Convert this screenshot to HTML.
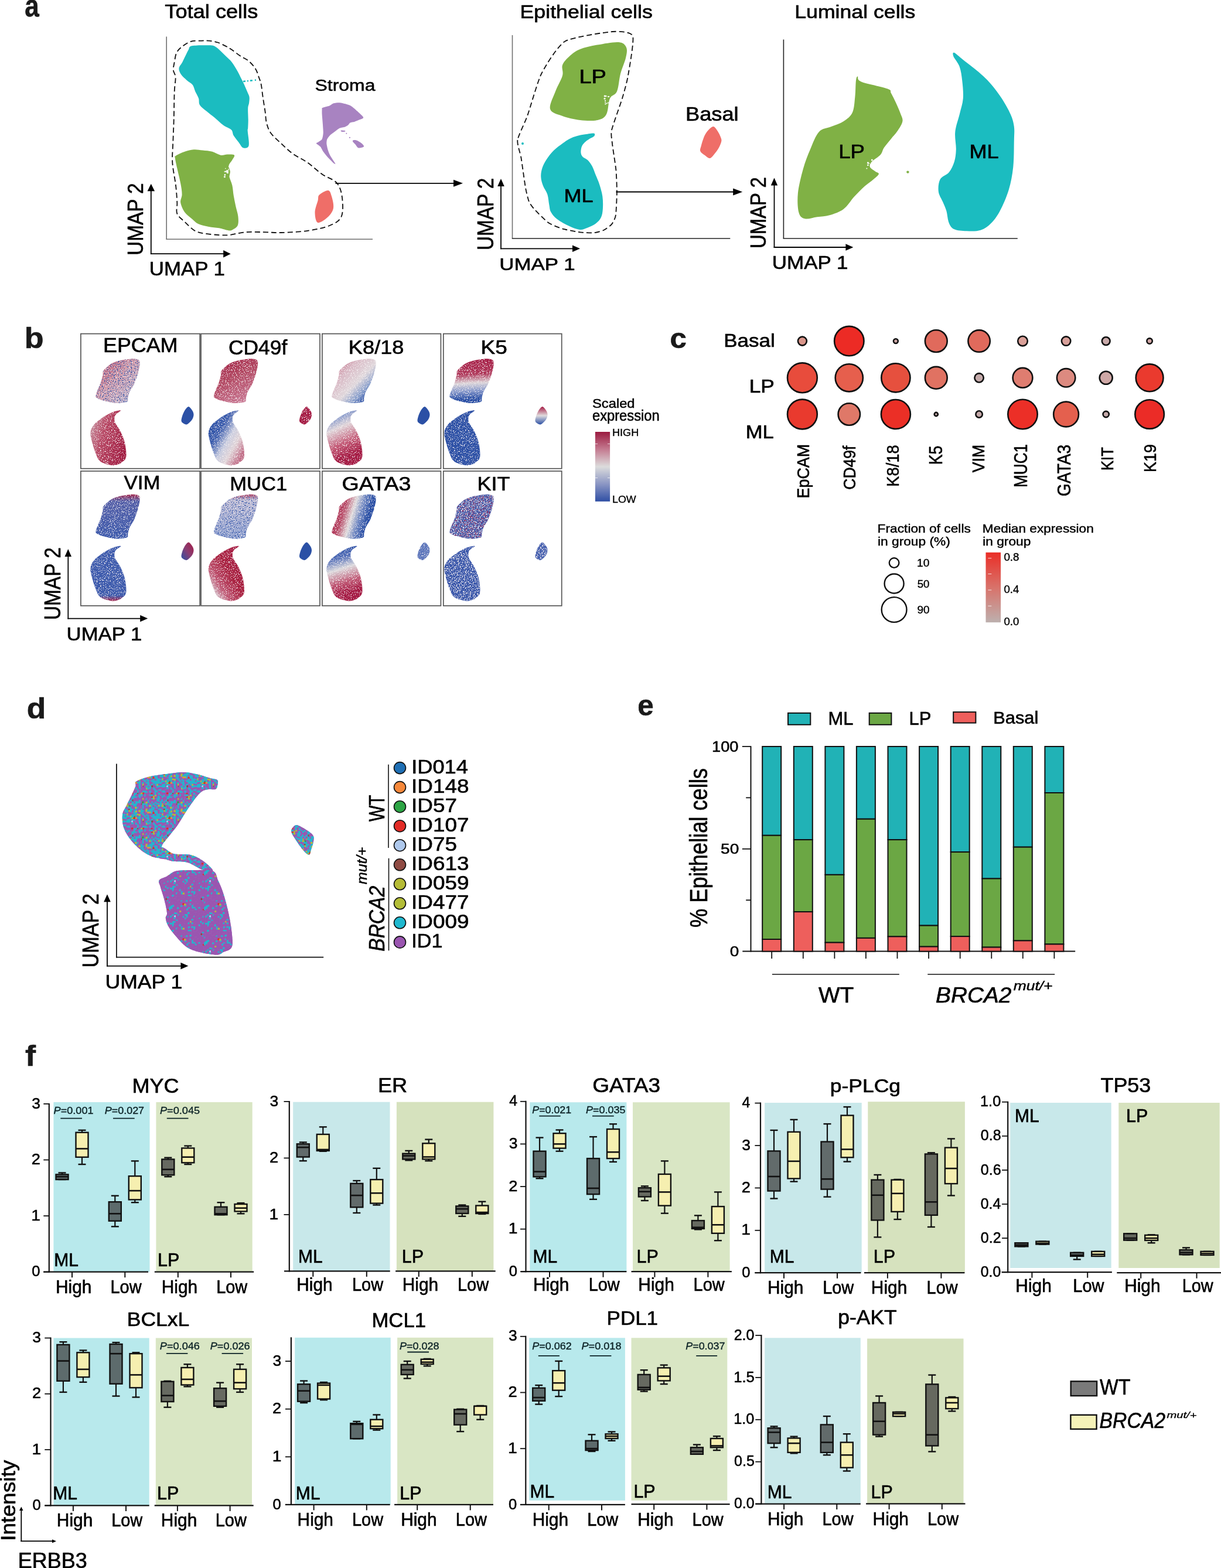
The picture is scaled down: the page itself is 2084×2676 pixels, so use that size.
<!DOCTYPE html>
<html><head><meta charset="utf-8"><title>Figure</title>
<style>
html,body{margin:0;padding:0;background:#fff;}
svg{display:block;}
text{font-family:"Liberation Sans",Arial,Helvetica,sans-serif;font-kerning:normal;}
</style></head>
<body>
<svg width="2084" height="2676" viewBox="0 0 2084 2676">
<defs>
<filter id="spw" x="0" y="0" width="1" height="1" color-interpolation-filters="sRGB"><feTurbulence type="fractalNoise" baseFrequency="0.6" numOctaves="2" seed="3" result="n"/><feColorMatrix in="n" type="matrix" values="0 0 0 0 0.965 0 0 0 0 0.941 0 0 0 0 0.949 9 0 0 0 -4.8" result="m"/><feComposite in="m" in2="SourceGraphic" operator="in"/></filter>
<filter id="spw2" x="0" y="0" width="1" height="1" color-interpolation-filters="sRGB"><feTurbulence type="fractalNoise" baseFrequency="0.6" numOctaves="2" seed="7" result="n"/><feColorMatrix in="n" type="matrix" values="0 0 0 0 0.965 0 0 0 0 0.941 0 0 0 0 0.949 9 0 0 0 -5.2" result="m"/><feComposite in="m" in2="SourceGraphic" operator="in"/></filter>
<filter id="spr" x="0" y="0" width="1" height="1" color-interpolation-filters="sRGB"><feTurbulence type="fractalNoise" baseFrequency="0.55" numOctaves="2" seed="11" result="n"/><feColorMatrix in="n" type="matrix" values="0 0 0 0 0.647 0 0 0 0 0.110 0 0 0 0 0.271 9 0 0 0 -5.0" result="m"/><feComposite in="m" in2="SourceGraphic" operator="in"/></filter>
<filter id="spr2" x="0" y="0" width="1" height="1" color-interpolation-filters="sRGB"><feTurbulence type="fractalNoise" baseFrequency="0.55" numOctaves="2" seed="13" result="n"/><feColorMatrix in="n" type="matrix" values="0 0 0 0 0.647 0 0 0 0 0.110 0 0 0 0 0.271 9 0 0 0 -5.35" result="m"/><feComposite in="m" in2="SourceGraphic" operator="in"/></filter>
<filter id="spb" x="0" y="0" width="1" height="1" color-interpolation-filters="sRGB"><feTurbulence type="fractalNoise" baseFrequency="0.55" numOctaves="2" seed="17" result="n"/><feColorMatrix in="n" type="matrix" values="0 0 0 0 0.169 0 0 0 0 0.314 0 0 0 0 0.647 9 0 0 0 -4.9" result="m"/><feComposite in="m" in2="SourceGraphic" operator="in"/></filter>
<filter id="spb2" x="0" y="0" width="1" height="1" color-interpolation-filters="sRGB"><feTurbulence type="fractalNoise" baseFrequency="0.55" numOctaves="2" seed="23" result="n"/><feColorMatrix in="n" type="matrix" values="0 0 0 0 0.169 0 0 0 0 0.314 0 0 0 0 0.647 9 0 0 0 -5.3" result="m"/><feComposite in="m" in2="SourceGraphic" operator="in"/></filter>
<linearGradient id="g1" x1="0" y1="0" x2="1" y2="1"><stop offset="0" stop-color="#a8284c"/><stop offset="0.15" stop-color="#bf5e78"/><stop offset="0.45" stop-color="#d09aaa"/><stop offset="0.75" stop-color="#c8b0c4"/><stop offset="1" stop-color="#8c9acb"/></linearGradient>
<linearGradient id="g2" x1="0" y1="0.3" x2="1" y2="0.7"><stop offset="0" stop-color="#c7909f"/><stop offset="0.35" stop-color="#b84a66"/><stop offset="1" stop-color="#a01a40"/></linearGradient>
<linearGradient id="g3" x1="0" y1="0" x2="0.5" y2="1"><stop offset="0" stop-color="#a01c42"/><stop offset="0.5" stop-color="#b24862"/><stop offset="1" stop-color="#c77590"/></linearGradient>
<linearGradient id="g4" x1="0.1" y1="0.15" x2="0.9" y2="0.85"><stop offset="0" stop-color="#2b50a5"/><stop offset="0.3" stop-color="#3f5fae"/><stop offset="0.55" stop-color="#c9cde0"/><stop offset="0.75" stop-color="#e0d4d8"/><stop offset="1" stop-color="#c27089"/></linearGradient>
<linearGradient id="g5" x1="0" y1="0" x2="1" y2="1"><stop offset="0" stop-color="#b24562"/><stop offset="0.3" stop-color="#d9b8c4"/><stop offset="0.55" stop-color="#e0d8dc"/><stop offset="0.72" stop-color="#8aa0cc"/><stop offset="0.85" stop-color="#2b50a5"/></linearGradient>
<linearGradient id="g6" x1="0.3" y1="0" x2="0.6" y2="1"><stop offset="0" stop-color="#2b50a5"/><stop offset="0.12" stop-color="#8a9ccc"/><stop offset="0.3" stop-color="#e0d6da"/><stop offset="0.6" stop-color="#c45c78"/><stop offset="0.85" stop-color="#a51c45"/></linearGradient>
<linearGradient id="g7" x1="0.45" y1="0" x2="0.5" y2="1"><stop offset="0" stop-color="#a51c45"/><stop offset="0.35" stop-color="#b03a5c"/><stop offset="0.55" stop-color="#ddd6da"/><stop offset="0.72" stop-color="#8a9bcc"/><stop offset="0.9" stop-color="#2b50a5"/></linearGradient>
<linearGradient id="g8" x1="0" y1="0" x2="0" y2="1"><stop offset="0" stop-color="#a51c45"/><stop offset="0.5" stop-color="#e0dcdd"/><stop offset="1" stop-color="#2b50a5"/></linearGradient>
<linearGradient id="g9" x1="0" y1="0" x2="0" y2="1"><stop offset="0" stop-color="#a52a50"/><stop offset="0.15" stop-color="#5560a8"/><stop offset="1" stop-color="#3f5cad"/></linearGradient>
<linearGradient id="g10" x1="0" y1="0" x2="0" y2="1"><stop offset="0" stop-color="#3f5cad"/><stop offset="0.9" stop-color="#3f5cad"/><stop offset="1" stop-color="#a52a50"/></linearGradient>
<linearGradient id="g11" x1="1" y1="0" x2="0" y2="1"><stop offset="0" stop-color="#a51c45"/><stop offset="0.5" stop-color="#8a3d72"/><stop offset="1" stop-color="#2b50a5"/></linearGradient>
<linearGradient id="g12" x1="0" y1="0" x2="0" y2="1"><stop offset="0" stop-color="#b03e60"/><stop offset="0.12" stop-color="#c3bfd6"/><stop offset="1" stop-color="#8ea0d0"/></linearGradient>
<linearGradient id="g13" x1="0" y1="1" x2="1" y2="0"><stop offset="0" stop-color="#3f5cad"/><stop offset="0.12" stop-color="#d8d2d8"/><stop offset="0.3" stop-color="#c05a76"/><stop offset="0.55" stop-color="#a8203f"/><stop offset="1" stop-color="#a51c45"/></linearGradient>
<linearGradient id="g14" x1="0" y1="0.35" x2="1" y2="0.65"><stop offset="0" stop-color="#a51c45"/><stop offset="0.25" stop-color="#b84c68"/><stop offset="0.45" stop-color="#e0dcdd"/><stop offset="0.62" stop-color="#7088c2"/><stop offset="0.8" stop-color="#2b50a5"/></linearGradient>
<linearGradient id="g15" x1="0.4" y1="0" x2="0.6" y2="1"><stop offset="0" stop-color="#2b50a5"/><stop offset="0.2" stop-color="#5570b8"/><stop offset="0.4" stop-color="#dcdadd"/><stop offset="0.65" stop-color="#c05a76"/><stop offset="0.85" stop-color="#a51c45"/></linearGradient>
<linearGradient id="g16" x1="0" y1="0" x2="0" y2="1"><stop offset="0" stop-color="#9b1b40"/><stop offset="0.25" stop-color="#c47a90"/><stop offset="0.5" stop-color="#dcdcdc"/><stop offset="0.75" stop-color="#8b96c4"/><stop offset="1" stop-color="#2f4fa4"/></linearGradient>
<linearGradient id="g17" x1="0" y1="0" x2="0" y2="1"><stop offset="0" stop-color="#ea2e27"/><stop offset="0.5" stop-color="#d8726a"/><stop offset="1" stop-color="#bdb0ae"/></linearGradient>
<pattern id="mixU" patternUnits="userSpaceOnUse" width="60" height="60"><circle cx="1.1" cy="1.6" r="1.9" fill="#1fb8cf"/><circle cx="1.7" cy="4.7" r="1.9" fill="#1fb8cf"/><circle cx="0.7" cy="8.0" r="1.9" fill="#1fb8cf"/><circle cx="1.1" cy="11.3" r="1.9" fill="#9a55b0"/><circle cx="2.0" cy="13.5" r="1.9" fill="#9a55b0"/><circle cx="0.9" cy="16.7" r="1.9" fill="#9a55b0"/><circle cx="1.5" cy="19.9" r="1.9" fill="#9a55b0"/><circle cx="0.8" cy="22.9" r="1.9" fill="#9a55b0"/><circle cx="1.2" cy="24.7" r="1.9" fill="#9a55b0"/><circle cx="1.5" cy="28.9" r="1.9" fill="#9a55b0"/><circle cx="1.8" cy="32.2" r="1.9" fill="#9a55b0"/><circle cx="2.0" cy="34.4" r="1.9" fill="#b5bb35"/><circle cx="2.1" cy="36.9" r="1.9" fill="#1fb8cf"/><circle cx="1.0" cy="41.2" r="1.9" fill="#9a55b0"/><circle cx="1.7" cy="43.2" r="1.9" fill="#9a55b0"/><circle cx="1.3" cy="46.3" r="1.9" fill="#9a55b0"/><circle cx="1.6" cy="50.1" r="1.9" fill="#9a55b0"/><circle cx="2.2" cy="53.1" r="1.9" fill="#8f4b43"/><circle cx="1.8" cy="55.0" r="1.9" fill="#9a55b0"/><circle cx="2.2" cy="59.1" r="1.9" fill="#9a55b0"/><circle cx="4.8" cy="1.0" r="1.9" fill="#9a55b0"/><circle cx="4.6" cy="4.2" r="1.9" fill="#1fb8cf"/><circle cx="5.1" cy="8.3" r="1.9" fill="#1fb8cf"/><circle cx="5.0" cy="10.4" r="1.9" fill="#1fb8cf"/><circle cx="4.2" cy="13.9" r="1.9" fill="#9a55b0"/><circle cx="3.8" cy="16.7" r="1.9" fill="#1fb8cf"/><circle cx="4.8" cy="19.2" r="1.9" fill="#b5bb35"/><circle cx="5.3" cy="22.5" r="1.9" fill="#8f4b43"/><circle cx="4.2" cy="24.8" r="1.9" fill="#9a55b0"/><circle cx="3.8" cy="28.0" r="1.9" fill="#9a55b0"/><circle cx="4.7" cy="30.9" r="1.9" fill="#1fb8cf"/><circle cx="5.1" cy="34.2" r="1.9" fill="#e22b26"/><circle cx="5.1" cy="37.3" r="1.9" fill="#9a55b0"/><circle cx="4.5" cy="40.7" r="1.9" fill="#9a55b0"/><circle cx="4.6" cy="43.7" r="1.9" fill="#b5bb35"/><circle cx="4.5" cy="46.4" r="1.9" fill="#9a55b0"/><circle cx="4.1" cy="49.2" r="1.9" fill="#2ca444"/><circle cx="4.5" cy="52.6" r="1.9" fill="#1fb8cf"/><circle cx="4.4" cy="55.6" r="1.9" fill="#1fb8cf"/><circle cx="4.7" cy="58.7" r="1.9" fill="#1fb8cf"/><circle cx="7.7" cy="1.4" r="1.9" fill="#9a55b0"/><circle cx="7.3" cy="4.8" r="1.9" fill="#9a55b0"/><circle cx="6.7" cy="6.8" r="1.9" fill="#9a55b0"/><circle cx="8.2" cy="10.1" r="1.9" fill="#9a55b0"/><circle cx="7.6" cy="13.2" r="1.9" fill="#1fb8cf"/><circle cx="7.2" cy="16.3" r="1.9" fill="#9a55b0"/><circle cx="7.2" cy="19.3" r="1.9" fill="#9a55b0"/><circle cx="6.7" cy="22.6" r="1.9" fill="#9a55b0"/><circle cx="7.2" cy="25.1" r="1.9" fill="#9a55b0"/><circle cx="7.1" cy="28.0" r="1.9" fill="#9a55b0"/><circle cx="7.8" cy="30.9" r="1.9" fill="#1fb8cf"/><circle cx="7.2" cy="35.0" r="1.9" fill="#9a55b0"/><circle cx="8.1" cy="37.0" r="1.9" fill="#1fb8cf"/><circle cx="7.7" cy="41.1" r="1.9" fill="#9a55b0"/><circle cx="7.1" cy="42.9" r="1.9" fill="#9a55b0"/><circle cx="7.0" cy="47.0" r="1.9" fill="#9a55b0"/><circle cx="7.0" cy="49.1" r="1.9" fill="#9a55b0"/><circle cx="7.7" cy="53.0" r="1.9" fill="#1fb8cf"/><circle cx="6.9" cy="55.2" r="1.9" fill="#9a55b0"/><circle cx="7.1" cy="58.3" r="1.9" fill="#9a55b0"/><circle cx="10.4" cy="1.4" r="1.9" fill="#b5bb35"/><circle cx="9.9" cy="3.7" r="1.9" fill="#b5bb35"/><circle cx="11.1" cy="8.3" r="1.9" fill="#9a55b0"/><circle cx="11.2" cy="11.2" r="1.9" fill="#1fb8cf"/><circle cx="10.9" cy="14.0" r="1.9" fill="#9a55b0"/><circle cx="10.5" cy="16.2" r="1.9" fill="#1fb8cf"/><circle cx="10.1" cy="18.8" r="1.9" fill="#9a55b0"/><circle cx="10.2" cy="23.0" r="1.9" fill="#1fb8cf"/><circle cx="11.1" cy="25.8" r="1.9" fill="#b5bb35"/><circle cx="11.1" cy="29.1" r="1.9" fill="#9a55b0"/><circle cx="9.7" cy="31.9" r="1.9" fill="#1fb8cf"/><circle cx="10.2" cy="34.8" r="1.9" fill="#9a55b0"/><circle cx="10.4" cy="38.2" r="1.9" fill="#9a55b0"/><circle cx="10.2" cy="40.1" r="1.9" fill="#9a55b0"/><circle cx="10.5" cy="44.0" r="1.9" fill="#1fb8cf"/><circle cx="10.0" cy="46.6" r="1.9" fill="#9a55b0"/><circle cx="10.0" cy="50.0" r="1.9" fill="#b5bb35"/><circle cx="11.0" cy="53.0" r="1.9" fill="#1fb8cf"/><circle cx="10.7" cy="56.1" r="1.9" fill="#1fb8cf"/><circle cx="10.1" cy="58.1" r="1.9" fill="#9a55b0"/><circle cx="13.4" cy="1.5" r="1.9" fill="#9a55b0"/><circle cx="12.7" cy="3.8" r="1.9" fill="#1fb8cf"/><circle cx="12.9" cy="6.8" r="1.9" fill="#f6883a"/><circle cx="14.1" cy="9.8" r="1.9" fill="#9a55b0"/><circle cx="13.2" cy="13.2" r="1.9" fill="#1fb8cf"/><circle cx="13.7" cy="16.6" r="1.9" fill="#1fb8cf"/><circle cx="13.0" cy="19.2" r="1.9" fill="#1fb8cf"/><circle cx="13.6" cy="22.8" r="1.9" fill="#9a55b0"/><circle cx="12.8" cy="25.0" r="1.9" fill="#1fb8cf"/><circle cx="13.7" cy="29.0" r="1.9" fill="#9a55b0"/><circle cx="14.0" cy="31.7" r="1.9" fill="#9a55b0"/><circle cx="13.3" cy="34.5" r="1.9" fill="#9a55b0"/><circle cx="13.4" cy="37.8" r="1.9" fill="#9a55b0"/><circle cx="13.1" cy="40.6" r="1.9" fill="#9a55b0"/><circle cx="12.8" cy="43.4" r="1.9" fill="#9a55b0"/><circle cx="14.1" cy="47.2" r="1.9" fill="#1fb8cf"/><circle cx="14.1" cy="50.0" r="1.9" fill="#1fb8cf"/><circle cx="13.4" cy="51.9" r="1.9" fill="#9a55b0"/><circle cx="13.8" cy="56.1" r="1.9" fill="#9a55b0"/><circle cx="13.8" cy="58.9" r="1.9" fill="#9a55b0"/><circle cx="15.9" cy="1.6" r="1.9" fill="#1fb8cf"/><circle cx="15.9" cy="4.9" r="1.9" fill="#1fb8cf"/><circle cx="15.8" cy="6.9" r="1.9" fill="#b5bb35"/><circle cx="16.0" cy="9.7" r="1.9" fill="#9a55b0"/><circle cx="15.9" cy="14.1" r="1.9" fill="#9a55b0"/><circle cx="17.0" cy="17.2" r="1.9" fill="#9a55b0"/><circle cx="17.0" cy="18.8" r="1.9" fill="#9a55b0"/><circle cx="16.5" cy="22.8" r="1.9" fill="#1fb8cf"/><circle cx="16.9" cy="26.2" r="1.9" fill="#1fb8cf"/><circle cx="16.2" cy="28.6" r="1.9" fill="#9a55b0"/><circle cx="16.1" cy="31.0" r="1.9" fill="#1fb8cf"/><circle cx="16.7" cy="34.9" r="1.9" fill="#9a55b0"/><circle cx="16.3" cy="37.3" r="1.9" fill="#1fb8cf"/><circle cx="16.4" cy="39.8" r="1.9" fill="#9a55b0"/><circle cx="17.3" cy="43.4" r="1.9" fill="#9a55b0"/><circle cx="16.0" cy="46.8" r="1.9" fill="#9a55b0"/><circle cx="16.8" cy="49.5" r="1.9" fill="#9a55b0"/><circle cx="16.7" cy="53.1" r="1.9" fill="#1fb8cf"/><circle cx="15.9" cy="55.9" r="1.9" fill="#b5bb35"/><circle cx="16.5" cy="58.4" r="1.9" fill="#9a55b0"/><circle cx="19.0" cy="1.1" r="1.9" fill="#1fb8cf"/><circle cx="19.6" cy="4.2" r="1.9" fill="#1fb8cf"/><circle cx="19.8" cy="8.2" r="1.9" fill="#1fb8cf"/><circle cx="19.8" cy="10.4" r="1.9" fill="#9a55b0"/><circle cx="19.6" cy="13.1" r="1.9" fill="#1fb8cf"/><circle cx="18.7" cy="16.5" r="1.9" fill="#9a55b0"/><circle cx="19.0" cy="19.3" r="1.9" fill="#1fb8cf"/><circle cx="19.9" cy="21.9" r="1.9" fill="#8f4b43"/><circle cx="19.5" cy="25.7" r="1.9" fill="#9a55b0"/><circle cx="20.0" cy="29.0" r="1.9" fill="#9a55b0"/><circle cx="19.5" cy="31.9" r="1.9" fill="#9a55b0"/><circle cx="19.3" cy="34.9" r="1.9" fill="#e22b26"/><circle cx="19.4" cy="37.1" r="1.9" fill="#1fb8cf"/><circle cx="19.8" cy="40.8" r="1.9" fill="#e22b26"/><circle cx="20.1" cy="43.1" r="1.9" fill="#1fb8cf"/><circle cx="19.1" cy="46.0" r="1.9" fill="#9a55b0"/><circle cx="20.1" cy="50.1" r="1.9" fill="#1fb8cf"/><circle cx="20.1" cy="52.2" r="1.9" fill="#9a55b0"/><circle cx="19.9" cy="54.8" r="1.9" fill="#1fb8cf"/><circle cx="20.0" cy="58.2" r="1.9" fill="#1fb8cf"/><circle cx="22.6" cy="1.8" r="1.9" fill="#1fb8cf"/><circle cx="22.2" cy="4.4" r="1.9" fill="#9a55b0"/><circle cx="22.0" cy="7.6" r="1.9" fill="#e22b26"/><circle cx="22.3" cy="10.6" r="1.9" fill="#1fb8cf"/><circle cx="22.1" cy="13.8" r="1.9" fill="#1fb8cf"/><circle cx="23.1" cy="17.2" r="1.9" fill="#1fb8cf"/><circle cx="23.2" cy="19.3" r="1.9" fill="#9a55b0"/><circle cx="22.9" cy="22.2" r="1.9" fill="#9a55b0"/><circle cx="22.7" cy="26.0" r="1.9" fill="#1fb8cf"/><circle cx="22.9" cy="29.2" r="1.9" fill="#9a55b0"/><circle cx="22.6" cy="30.9" r="1.9" fill="#9a55b0"/><circle cx="22.3" cy="34.8" r="1.9" fill="#9a55b0"/><circle cx="22.6" cy="37.0" r="1.9" fill="#9a55b0"/><circle cx="22.7" cy="40.0" r="1.9" fill="#b5bb35"/><circle cx="22.7" cy="42.9" r="1.9" fill="#b5bb35"/><circle cx="21.9" cy="46.2" r="1.9" fill="#9a55b0"/><circle cx="22.7" cy="49.6" r="1.9" fill="#9a55b0"/><circle cx="22.4" cy="52.2" r="1.9" fill="#1fb8cf"/><circle cx="21.8" cy="55.8" r="1.9" fill="#9a55b0"/><circle cx="22.6" cy="58.9" r="1.9" fill="#1fb8cf"/><circle cx="25.1" cy="1.3" r="1.9" fill="#9a55b0"/><circle cx="24.8" cy="4.5" r="1.9" fill="#1fb8cf"/><circle cx="25.9" cy="7.3" r="1.9" fill="#1fb8cf"/><circle cx="25.3" cy="10.6" r="1.9" fill="#9a55b0"/><circle cx="25.3" cy="14.1" r="1.9" fill="#1fb8cf"/><circle cx="25.1" cy="15.9" r="1.9" fill="#1fb8cf"/><circle cx="25.9" cy="19.9" r="1.9" fill="#1fb8cf"/><circle cx="25.0" cy="22.4" r="1.9" fill="#9a55b0"/><circle cx="26.0" cy="25.9" r="1.9" fill="#9a55b0"/><circle cx="24.9" cy="28.3" r="1.9" fill="#1fb8cf"/><circle cx="25.5" cy="31.6" r="1.9" fill="#1fb8cf"/><circle cx="25.1" cy="35.0" r="1.9" fill="#1fb8cf"/><circle cx="26.0" cy="38.1" r="1.9" fill="#b5bb35"/><circle cx="25.3" cy="40.6" r="1.9" fill="#9a55b0"/><circle cx="25.7" cy="44.3" r="1.9" fill="#9a55b0"/><circle cx="25.2" cy="47.1" r="1.9" fill="#9a55b0"/><circle cx="25.7" cy="49.9" r="1.9" fill="#1fb8cf"/><circle cx="25.9" cy="52.8" r="1.9" fill="#9a55b0"/><circle cx="25.5" cy="55.4" r="1.9" fill="#1fb8cf"/><circle cx="25.5" cy="57.8" r="1.9" fill="#9a55b0"/><circle cx="28.7" cy="1.4" r="1.9" fill="#9a55b0"/><circle cx="29.2" cy="5.1" r="1.9" fill="#1fb8cf"/><circle cx="29.0" cy="7.7" r="1.9" fill="#1fb8cf"/><circle cx="28.3" cy="10.1" r="1.9" fill="#1fb8cf"/><circle cx="28.6" cy="14.2" r="1.9" fill="#1fb8cf"/><circle cx="29.1" cy="16.8" r="1.9" fill="#1fb8cf"/><circle cx="29.1" cy="19.7" r="1.9" fill="#b5bb35"/><circle cx="28.8" cy="22.9" r="1.9" fill="#1fb8cf"/><circle cx="29.0" cy="26.2" r="1.9" fill="#9a55b0"/><circle cx="28.4" cy="28.9" r="1.9" fill="#9a55b0"/><circle cx="27.9" cy="30.8" r="1.9" fill="#1fb8cf"/><circle cx="28.0" cy="34.0" r="1.9" fill="#9a55b0"/><circle cx="28.8" cy="37.6" r="1.9" fill="#9a55b0"/><circle cx="28.7" cy="40.2" r="1.9" fill="#9a55b0"/><circle cx="28.9" cy="43.3" r="1.9" fill="#1fb8cf"/><circle cx="29.1" cy="46.9" r="1.9" fill="#1fb8cf"/><circle cx="28.3" cy="49.5" r="1.9" fill="#9a55b0"/><circle cx="28.1" cy="51.7" r="1.9" fill="#1fb8cf"/><circle cx="29.0" cy="54.9" r="1.9" fill="#9a55b0"/><circle cx="28.0" cy="58.0" r="1.9" fill="#1fb8cf"/><circle cx="31.3" cy="1.0" r="1.9" fill="#1fb8cf"/><circle cx="30.9" cy="4.0" r="1.9" fill="#9a55b0"/><circle cx="30.8" cy="6.7" r="1.9" fill="#9a55b0"/><circle cx="31.4" cy="10.8" r="1.9" fill="#1fb8cf"/><circle cx="31.3" cy="13.3" r="1.9" fill="#1fb8cf"/><circle cx="32.2" cy="16.1" r="1.9" fill="#1fb8cf"/><circle cx="31.5" cy="19.0" r="1.9" fill="#9a55b0"/><circle cx="31.3" cy="21.9" r="1.9" fill="#1fb8cf"/><circle cx="31.9" cy="25.1" r="1.9" fill="#9a55b0"/><circle cx="31.4" cy="29.2" r="1.9" fill="#1fb8cf"/><circle cx="31.1" cy="31.1" r="1.9" fill="#9a55b0"/><circle cx="31.7" cy="34.3" r="1.9" fill="#1fb8cf"/><circle cx="31.8" cy="38.3" r="1.9" fill="#9a55b0"/><circle cx="30.7" cy="39.7" r="1.9" fill="#1fb8cf"/><circle cx="31.0" cy="42.8" r="1.9" fill="#1fb8cf"/><circle cx="31.7" cy="47.1" r="1.9" fill="#1fb8cf"/><circle cx="32.3" cy="49.5" r="1.9" fill="#9a55b0"/><circle cx="32.2" cy="53.2" r="1.9" fill="#1fb8cf"/><circle cx="31.2" cy="55.7" r="1.9" fill="#b5bb35"/><circle cx="30.8" cy="58.2" r="1.9" fill="#9a55b0"/><circle cx="33.9" cy="1.3" r="1.9" fill="#1fb8cf"/><circle cx="34.8" cy="5.2" r="1.9" fill="#1fb8cf"/><circle cx="34.9" cy="7.9" r="1.9" fill="#9a55b0"/><circle cx="34.6" cy="11.2" r="1.9" fill="#1fb8cf"/><circle cx="34.4" cy="13.1" r="1.9" fill="#9a55b0"/><circle cx="34.5" cy="16.1" r="1.9" fill="#1fb8cf"/><circle cx="34.9" cy="19.7" r="1.9" fill="#9a55b0"/><circle cx="34.3" cy="22.5" r="1.9" fill="#1fb8cf"/><circle cx="34.8" cy="24.7" r="1.9" fill="#9a55b0"/><circle cx="34.9" cy="28.8" r="1.9" fill="#1fb8cf"/><circle cx="34.1" cy="32.0" r="1.9" fill="#9a55b0"/><circle cx="35.1" cy="35.1" r="1.9" fill="#9a55b0"/><circle cx="35.1" cy="37.9" r="1.9" fill="#1fb8cf"/><circle cx="34.3" cy="39.8" r="1.9" fill="#9a55b0"/><circle cx="35.2" cy="42.9" r="1.9" fill="#9a55b0"/><circle cx="33.9" cy="45.8" r="1.9" fill="#9a55b0"/><circle cx="34.1" cy="48.8" r="1.9" fill="#1fb8cf"/><circle cx="34.7" cy="52.6" r="1.9" fill="#1fb8cf"/><circle cx="34.1" cy="56.2" r="1.9" fill="#1fb8cf"/><circle cx="34.6" cy="58.4" r="1.9" fill="#9a55b0"/><circle cx="37.7" cy="2.0" r="1.9" fill="#9a55b0"/><circle cx="37.0" cy="4.0" r="1.9" fill="#1fb8cf"/><circle cx="38.0" cy="6.9" r="1.9" fill="#1fb8cf"/><circle cx="38.2" cy="10.0" r="1.9" fill="#b5bb35"/><circle cx="36.8" cy="13.4" r="1.9" fill="#1fb8cf"/><circle cx="38.0" cy="16.7" r="1.9" fill="#9a55b0"/><circle cx="37.9" cy="20.1" r="1.9" fill="#1fb8cf"/><circle cx="37.7" cy="22.4" r="1.9" fill="#1fb8cf"/><circle cx="38.0" cy="25.7" r="1.9" fill="#9a55b0"/><circle cx="37.0" cy="28.6" r="1.9" fill="#9a55b0"/><circle cx="37.9" cy="30.8" r="1.9" fill="#1fb8cf"/><circle cx="37.5" cy="33.8" r="1.9" fill="#9a55b0"/><circle cx="37.9" cy="37.4" r="1.9" fill="#9a55b0"/><circle cx="37.7" cy="40.0" r="1.9" fill="#1fb8cf"/><circle cx="38.3" cy="43.2" r="1.9" fill="#9a55b0"/><circle cx="36.8" cy="46.0" r="1.9" fill="#1fb8cf"/><circle cx="38.2" cy="49.9" r="1.9" fill="#9a55b0"/><circle cx="38.3" cy="52.7" r="1.9" fill="#b5bb35"/><circle cx="37.6" cy="55.4" r="1.9" fill="#b5bb35"/><circle cx="38.1" cy="59.2" r="1.9" fill="#9a55b0"/><circle cx="40.9" cy="1.4" r="1.9" fill="#8f4b43"/><circle cx="41.2" cy="4.2" r="1.9" fill="#b5bb35"/><circle cx="40.0" cy="6.9" r="1.9" fill="#9a55b0"/><circle cx="40.2" cy="10.5" r="1.9" fill="#9a55b0"/><circle cx="39.8" cy="13.9" r="1.9" fill="#1fb8cf"/><circle cx="40.4" cy="16.3" r="1.9" fill="#9a55b0"/><circle cx="40.9" cy="19.2" r="1.9" fill="#1fb8cf"/><circle cx="40.2" cy="22.4" r="1.9" fill="#1fb8cf"/><circle cx="39.9" cy="25.9" r="1.9" fill="#9a55b0"/><circle cx="41.3" cy="29.3" r="1.9" fill="#9a55b0"/><circle cx="40.3" cy="31.0" r="1.9" fill="#1fb8cf"/><circle cx="40.4" cy="34.5" r="1.9" fill="#9a55b0"/><circle cx="40.3" cy="38.1" r="1.9" fill="#1fb8cf"/><circle cx="40.4" cy="41.1" r="1.9" fill="#9a55b0"/><circle cx="40.2" cy="43.1" r="1.9" fill="#9a55b0"/><circle cx="39.7" cy="45.9" r="1.9" fill="#9a55b0"/><circle cx="40.6" cy="49.0" r="1.9" fill="#1fb8cf"/><circle cx="40.0" cy="52.9" r="1.9" fill="#9a55b0"/><circle cx="41.3" cy="56.0" r="1.9" fill="#2ca444"/><circle cx="39.8" cy="58.0" r="1.9" fill="#1fb8cf"/><circle cx="43.4" cy="1.2" r="1.9" fill="#1fb8cf"/><circle cx="43.6" cy="3.9" r="1.9" fill="#1fb8cf"/><circle cx="43.1" cy="8.0" r="1.9" fill="#9a55b0"/><circle cx="43.1" cy="9.8" r="1.9" fill="#9a55b0"/><circle cx="43.7" cy="13.8" r="1.9" fill="#b5bb35"/><circle cx="44.0" cy="16.1" r="1.9" fill="#1fb8cf"/><circle cx="43.9" cy="20.0" r="1.9" fill="#9a55b0"/><circle cx="44.0" cy="22.6" r="1.9" fill="#1fb8cf"/><circle cx="43.0" cy="24.7" r="1.9" fill="#9a55b0"/><circle cx="44.1" cy="29.1" r="1.9" fill="#9a55b0"/><circle cx="43.8" cy="32.2" r="1.9" fill="#9a55b0"/><circle cx="43.7" cy="34.4" r="1.9" fill="#9a55b0"/><circle cx="43.0" cy="37.0" r="1.9" fill="#9a55b0"/><circle cx="44.3" cy="40.6" r="1.9" fill="#9a55b0"/><circle cx="43.3" cy="43.4" r="1.9" fill="#9a55b0"/><circle cx="43.4" cy="47.2" r="1.9" fill="#1fb8cf"/><circle cx="43.2" cy="49.5" r="1.9" fill="#9a55b0"/><circle cx="44.1" cy="53.0" r="1.9" fill="#b5bb35"/><circle cx="43.7" cy="54.7" r="1.9" fill="#9a55b0"/><circle cx="43.6" cy="58.5" r="1.9" fill="#1fb8cf"/><circle cx="46.8" cy="2.2" r="1.9" fill="#1fb8cf"/><circle cx="46.8" cy="4.3" r="1.9" fill="#9a55b0"/><circle cx="47.1" cy="8.2" r="1.9" fill="#9a55b0"/><circle cx="46.0" cy="11.2" r="1.9" fill="#1fb8cf"/><circle cx="46.3" cy="14.0" r="1.9" fill="#1fb8cf"/><circle cx="46.1" cy="17.2" r="1.9" fill="#b5bb35"/><circle cx="46.2" cy="19.3" r="1.9" fill="#1fb8cf"/><circle cx="45.9" cy="22.1" r="1.9" fill="#aec8ec"/><circle cx="45.8" cy="25.1" r="1.9" fill="#1fb8cf"/><circle cx="45.8" cy="28.5" r="1.9" fill="#9a55b0"/><circle cx="47.0" cy="31.7" r="1.9" fill="#9a55b0"/><circle cx="45.7" cy="34.2" r="1.9" fill="#e22b26"/><circle cx="45.8" cy="37.1" r="1.9" fill="#9a55b0"/><circle cx="46.1" cy="40.6" r="1.9" fill="#1fb8cf"/><circle cx="46.1" cy="44.2" r="1.9" fill="#1fb8cf"/><circle cx="47.1" cy="46.0" r="1.9" fill="#8f4b43"/><circle cx="46.8" cy="49.7" r="1.9" fill="#1fb8cf"/><circle cx="45.8" cy="52.9" r="1.9" fill="#1fb8cf"/><circle cx="46.0" cy="56.0" r="1.9" fill="#9a55b0"/><circle cx="45.8" cy="59.2" r="1.9" fill="#9a55b0"/><circle cx="49.3" cy="0.9" r="1.9" fill="#9a55b0"/><circle cx="50.3" cy="4.1" r="1.9" fill="#1fb8cf"/><circle cx="48.9" cy="6.9" r="1.9" fill="#1fb8cf"/><circle cx="50.2" cy="9.8" r="1.9" fill="#1fb8cf"/><circle cx="50.2" cy="14.3" r="1.9" fill="#2ca444"/><circle cx="49.1" cy="16.3" r="1.9" fill="#e22b26"/><circle cx="49.5" cy="19.8" r="1.9" fill="#1fb8cf"/><circle cx="48.7" cy="22.3" r="1.9" fill="#9a55b0"/><circle cx="50.0" cy="25.6" r="1.9" fill="#9a55b0"/><circle cx="49.6" cy="28.4" r="1.9" fill="#9a55b0"/><circle cx="50.0" cy="31.0" r="1.9" fill="#9a55b0"/><circle cx="50.2" cy="35.1" r="1.9" fill="#1fb8cf"/><circle cx="50.2" cy="38.0" r="1.9" fill="#1fb8cf"/><circle cx="49.1" cy="40.0" r="1.9" fill="#1fb8cf"/><circle cx="50.3" cy="43.4" r="1.9" fill="#9a55b0"/><circle cx="48.9" cy="45.7" r="1.9" fill="#9a55b0"/><circle cx="50.0" cy="50.3" r="1.9" fill="#9a55b0"/><circle cx="49.5" cy="52.9" r="1.9" fill="#1fb8cf"/><circle cx="49.6" cy="55.4" r="1.9" fill="#1fb8cf"/><circle cx="49.7" cy="58.2" r="1.9" fill="#9a55b0"/><circle cx="52.3" cy="1.2" r="1.9" fill="#1fb8cf"/><circle cx="52.7" cy="5.3" r="1.9" fill="#b5bb35"/><circle cx="53.1" cy="8.0" r="1.9" fill="#1fb8cf"/><circle cx="53.3" cy="10.1" r="1.9" fill="#1fb8cf"/><circle cx="52.5" cy="13.9" r="1.9" fill="#1fb8cf"/><circle cx="52.7" cy="16.2" r="1.9" fill="#f6883a"/><circle cx="52.4" cy="19.5" r="1.9" fill="#9a55b0"/><circle cx="53.1" cy="23.3" r="1.9" fill="#9a55b0"/><circle cx="52.4" cy="25.7" r="1.9" fill="#1fb8cf"/><circle cx="52.4" cy="29.1" r="1.9" fill="#9a55b0"/><circle cx="51.8" cy="32.1" r="1.9" fill="#9a55b0"/><circle cx="53.3" cy="34.3" r="1.9" fill="#1fb8cf"/><circle cx="52.6" cy="38.1" r="1.9" fill="#9a55b0"/><circle cx="53.1" cy="40.8" r="1.9" fill="#1fb8cf"/><circle cx="52.2" cy="43.5" r="1.9" fill="#9a55b0"/><circle cx="52.3" cy="46.7" r="1.9" fill="#9a55b0"/><circle cx="52.6" cy="48.9" r="1.9" fill="#1fb8cf"/><circle cx="52.3" cy="52.7" r="1.9" fill="#1fb8cf"/><circle cx="51.8" cy="55.2" r="1.9" fill="#1fb8cf"/><circle cx="51.7" cy="58.6" r="1.9" fill="#b5bb35"/><circle cx="55.6" cy="1.9" r="1.9" fill="#9a55b0"/><circle cx="56.0" cy="5.2" r="1.9" fill="#9a55b0"/><circle cx="55.8" cy="6.9" r="1.9" fill="#9a55b0"/><circle cx="55.3" cy="10.5" r="1.9" fill="#b5bb35"/><circle cx="55.2" cy="13.0" r="1.9" fill="#9a55b0"/><circle cx="55.7" cy="15.8" r="1.9" fill="#1fb8cf"/><circle cx="55.3" cy="18.7" r="1.9" fill="#9a55b0"/><circle cx="55.0" cy="22.1" r="1.9" fill="#9a55b0"/><circle cx="55.5" cy="25.4" r="1.9" fill="#9a55b0"/><circle cx="55.8" cy="28.4" r="1.9" fill="#1fb8cf"/><circle cx="56.3" cy="31.8" r="1.9" fill="#1fb8cf"/><circle cx="55.4" cy="34.9" r="1.9" fill="#8f4b43"/><circle cx="54.8" cy="36.7" r="1.9" fill="#9a55b0"/><circle cx="55.4" cy="41.1" r="1.9" fill="#9a55b0"/><circle cx="55.2" cy="43.4" r="1.9" fill="#9a55b0"/><circle cx="56.1" cy="46.0" r="1.9" fill="#9a55b0"/><circle cx="54.8" cy="49.7" r="1.9" fill="#1fb8cf"/><circle cx="56.2" cy="52.5" r="1.9" fill="#9a55b0"/><circle cx="54.8" cy="55.1" r="1.9" fill="#9a55b0"/><circle cx="56.1" cy="58.6" r="1.9" fill="#1fb8cf"/><circle cx="59.3" cy="1.8" r="1.9" fill="#9a55b0"/><circle cx="58.0" cy="4.2" r="1.9" fill="#b5bb35"/><circle cx="57.9" cy="7.6" r="1.9" fill="#9a55b0"/><circle cx="58.3" cy="10.9" r="1.9" fill="#b5bb35"/><circle cx="59.1" cy="13.9" r="1.9" fill="#1fb8cf"/><circle cx="57.8" cy="16.4" r="1.9" fill="#1fb8cf"/><circle cx="58.0" cy="20.1" r="1.9" fill="#1fb8cf"/><circle cx="59.0" cy="23.2" r="1.9" fill="#1fb8cf"/><circle cx="59.2" cy="25.3" r="1.9" fill="#1fb8cf"/><circle cx="58.0" cy="27.8" r="1.9" fill="#9a55b0"/><circle cx="58.3" cy="32.1" r="1.9" fill="#9a55b0"/><circle cx="57.8" cy="34.3" r="1.9" fill="#9a55b0"/><circle cx="58.0" cy="37.1" r="1.9" fill="#1fb8cf"/><circle cx="58.8" cy="40.2" r="1.9" fill="#1fb8cf"/><circle cx="58.1" cy="43.4" r="1.9" fill="#9a55b0"/><circle cx="58.1" cy="46.8" r="1.9" fill="#1fb8cf"/><circle cx="58.8" cy="49.7" r="1.9" fill="#1fb8cf"/><circle cx="58.9" cy="52.3" r="1.9" fill="#9a55b0"/><circle cx="58.7" cy="55.7" r="1.9" fill="#9a55b0"/><circle cx="57.8" cy="59.0" r="1.9" fill="#9a55b0"/></pattern>
<pattern id="mixL" patternUnits="userSpaceOnUse" width="60" height="60"><circle cx="1.7" cy="1.9" r="1.9" fill="#9a55b0"/><circle cx="2.2" cy="4.9" r="1.9" fill="#9a55b0"/><circle cx="0.7" cy="7.4" r="1.9" fill="#9a55b0"/><circle cx="1.7" cy="11.1" r="1.9" fill="#1fb8cf"/><circle cx="1.5" cy="13.1" r="1.9" fill="#9a55b0"/><circle cx="1.6" cy="15.7" r="1.9" fill="#9a55b0"/><circle cx="1.1" cy="20.2" r="1.9" fill="#9a55b0"/><circle cx="1.0" cy="23.0" r="1.9" fill="#9a55b0"/><circle cx="1.7" cy="24.9" r="1.9" fill="#1fb8cf"/><circle cx="2.1" cy="28.0" r="1.9" fill="#9a55b0"/><circle cx="2.3" cy="32.1" r="1.9" fill="#9a55b0"/><circle cx="2.2" cy="34.6" r="1.9" fill="#9a55b0"/><circle cx="1.0" cy="38.2" r="1.9" fill="#9a55b0"/><circle cx="2.2" cy="41.1" r="1.9" fill="#9a55b0"/><circle cx="1.3" cy="43.0" r="1.9" fill="#9a55b0"/><circle cx="0.8" cy="46.2" r="1.9" fill="#9a55b0"/><circle cx="0.7" cy="49.8" r="1.9" fill="#9a55b0"/><circle cx="1.2" cy="53.0" r="1.9" fill="#9a55b0"/><circle cx="1.2" cy="55.5" r="1.9" fill="#9a55b0"/><circle cx="0.8" cy="59.3" r="1.9" fill="#1fb8cf"/><circle cx="4.9" cy="2.1" r="1.9" fill="#1fb8cf"/><circle cx="5.0" cy="4.3" r="1.9" fill="#9a55b0"/><circle cx="3.7" cy="6.8" r="1.9" fill="#9a55b0"/><circle cx="5.2" cy="10.0" r="1.9" fill="#9a55b0"/><circle cx="5.2" cy="14.2" r="1.9" fill="#9a55b0"/><circle cx="4.3" cy="16.5" r="1.9" fill="#9a55b0"/><circle cx="3.9" cy="19.9" r="1.9" fill="#9a55b0"/><circle cx="5.1" cy="21.8" r="1.9" fill="#9a55b0"/><circle cx="3.8" cy="25.2" r="1.9" fill="#9a55b0"/><circle cx="5.2" cy="28.2" r="1.9" fill="#9a55b0"/><circle cx="4.6" cy="31.2" r="1.9" fill="#9a55b0"/><circle cx="4.0" cy="33.8" r="1.9" fill="#9a55b0"/><circle cx="4.8" cy="38.3" r="1.9" fill="#9a55b0"/><circle cx="3.8" cy="41.3" r="1.9" fill="#9a55b0"/><circle cx="4.3" cy="43.1" r="1.9" fill="#9a55b0"/><circle cx="5.0" cy="46.4" r="1.9" fill="#9a55b0"/><circle cx="3.8" cy="50.2" r="1.9" fill="#1fb8cf"/><circle cx="4.5" cy="53.0" r="1.9" fill="#9a55b0"/><circle cx="4.9" cy="56.2" r="1.9" fill="#9a55b0"/><circle cx="5.0" cy="57.9" r="1.9" fill="#9a55b0"/><circle cx="6.9" cy="2.1" r="1.9" fill="#9a55b0"/><circle cx="7.4" cy="5.3" r="1.9" fill="#9a55b0"/><circle cx="8.3" cy="7.4" r="1.9" fill="#9a55b0"/><circle cx="7.9" cy="10.5" r="1.9" fill="#9a55b0"/><circle cx="7.3" cy="12.9" r="1.9" fill="#9a55b0"/><circle cx="8.3" cy="17.2" r="1.9" fill="#9a55b0"/><circle cx="7.5" cy="19.2" r="1.9" fill="#1fb8cf"/><circle cx="7.1" cy="23.0" r="1.9" fill="#9a55b0"/><circle cx="7.3" cy="26.0" r="1.9" fill="#9a55b0"/><circle cx="7.8" cy="28.8" r="1.9" fill="#9a55b0"/><circle cx="7.3" cy="31.8" r="1.9" fill="#9a55b0"/><circle cx="7.5" cy="34.9" r="1.9" fill="#9a55b0"/><circle cx="7.2" cy="38.2" r="1.9" fill="#9a55b0"/><circle cx="7.6" cy="39.7" r="1.9" fill="#9a55b0"/><circle cx="7.1" cy="43.8" r="1.9" fill="#9a55b0"/><circle cx="8.0" cy="46.7" r="1.9" fill="#9a55b0"/><circle cx="7.3" cy="49.7" r="1.9" fill="#9a55b0"/><circle cx="8.0" cy="52.3" r="1.9" fill="#9a55b0"/><circle cx="8.1" cy="55.8" r="1.9" fill="#b5bb35"/><circle cx="8.2" cy="58.5" r="1.9" fill="#9a55b0"/><circle cx="10.0" cy="2.0" r="1.9" fill="#9a55b0"/><circle cx="10.5" cy="4.8" r="1.9" fill="#9a55b0"/><circle cx="10.9" cy="7.0" r="1.9" fill="#9a55b0"/><circle cx="10.6" cy="10.8" r="1.9" fill="#9a55b0"/><circle cx="10.7" cy="13.9" r="1.9" fill="#9a55b0"/><circle cx="10.9" cy="15.7" r="1.9" fill="#9a55b0"/><circle cx="10.4" cy="19.7" r="1.9" fill="#9a55b0"/><circle cx="10.8" cy="22.7" r="1.9" fill="#1fb8cf"/><circle cx="10.5" cy="25.1" r="1.9" fill="#1fb8cf"/><circle cx="9.9" cy="28.2" r="1.9" fill="#9a55b0"/><circle cx="10.0" cy="30.8" r="1.9" fill="#9a55b0"/><circle cx="10.3" cy="34.7" r="1.9" fill="#9a55b0"/><circle cx="10.1" cy="38.1" r="1.9" fill="#1fb8cf"/><circle cx="10.3" cy="40.1" r="1.9" fill="#9a55b0"/><circle cx="9.9" cy="44.0" r="1.9" fill="#9a55b0"/><circle cx="9.8" cy="46.7" r="1.9" fill="#1fb8cf"/><circle cx="10.6" cy="49.2" r="1.9" fill="#9a55b0"/><circle cx="11.2" cy="53.0" r="1.9" fill="#9a55b0"/><circle cx="11.0" cy="55.7" r="1.9" fill="#9a55b0"/><circle cx="9.9" cy="58.7" r="1.9" fill="#9a55b0"/><circle cx="14.2" cy="2.2" r="1.9" fill="#9a55b0"/><circle cx="13.3" cy="5.1" r="1.9" fill="#1fb8cf"/><circle cx="12.9" cy="7.6" r="1.9" fill="#9a55b0"/><circle cx="12.9" cy="10.7" r="1.9" fill="#9a55b0"/><circle cx="13.3" cy="13.4" r="1.9" fill="#9a55b0"/><circle cx="13.2" cy="17.3" r="1.9" fill="#9a55b0"/><circle cx="14.2" cy="20.2" r="1.9" fill="#9a55b0"/><circle cx="13.1" cy="23.3" r="1.9" fill="#9a55b0"/><circle cx="13.4" cy="25.2" r="1.9" fill="#b5bb35"/><circle cx="13.5" cy="28.2" r="1.9" fill="#9a55b0"/><circle cx="12.9" cy="31.7" r="1.9" fill="#9a55b0"/><circle cx="13.2" cy="35.0" r="1.9" fill="#9a55b0"/><circle cx="12.7" cy="37.6" r="1.9" fill="#9a55b0"/><circle cx="14.2" cy="41.0" r="1.9" fill="#9a55b0"/><circle cx="13.1" cy="42.9" r="1.9" fill="#e22b26"/><circle cx="13.2" cy="46.7" r="1.9" fill="#9a55b0"/><circle cx="13.7" cy="49.7" r="1.9" fill="#9a55b0"/><circle cx="12.9" cy="52.9" r="1.9" fill="#9a55b0"/><circle cx="13.6" cy="55.2" r="1.9" fill="#9a55b0"/><circle cx="13.5" cy="58.4" r="1.9" fill="#9a55b0"/><circle cx="16.9" cy="1.6" r="1.9" fill="#1fb8cf"/><circle cx="16.1" cy="4.4" r="1.9" fill="#9a55b0"/><circle cx="17.1" cy="7.6" r="1.9" fill="#1fb8cf"/><circle cx="16.9" cy="10.4" r="1.9" fill="#9a55b0"/><circle cx="16.8" cy="13.7" r="1.9" fill="#9a55b0"/><circle cx="17.2" cy="16.3" r="1.9" fill="#9a55b0"/><circle cx="17.1" cy="19.0" r="1.9" fill="#9a55b0"/><circle cx="17.0" cy="21.8" r="1.9" fill="#9a55b0"/><circle cx="16.8" cy="25.4" r="1.9" fill="#9a55b0"/><circle cx="16.9" cy="29.2" r="1.9" fill="#9a55b0"/><circle cx="16.5" cy="31.6" r="1.9" fill="#9a55b0"/><circle cx="16.2" cy="33.9" r="1.9" fill="#9a55b0"/><circle cx="17.0" cy="36.8" r="1.9" fill="#9a55b0"/><circle cx="17.0" cy="41.0" r="1.9" fill="#9a55b0"/><circle cx="15.7" cy="43.9" r="1.9" fill="#b5bb35"/><circle cx="17.3" cy="46.8" r="1.9" fill="#1fb8cf"/><circle cx="17.0" cy="49.1" r="1.9" fill="#9a55b0"/><circle cx="17.2" cy="52.8" r="1.9" fill="#9a55b0"/><circle cx="16.2" cy="56.2" r="1.9" fill="#9a55b0"/><circle cx="16.7" cy="58.4" r="1.9" fill="#9a55b0"/><circle cx="19.7" cy="0.8" r="1.9" fill="#1fb8cf"/><circle cx="19.3" cy="3.8" r="1.9" fill="#1fb8cf"/><circle cx="19.6" cy="7.9" r="1.9" fill="#9a55b0"/><circle cx="18.9" cy="10.4" r="1.9" fill="#9a55b0"/><circle cx="19.7" cy="13.5" r="1.9" fill="#9a55b0"/><circle cx="19.3" cy="15.8" r="1.9" fill="#9a55b0"/><circle cx="18.9" cy="19.7" r="1.9" fill="#9a55b0"/><circle cx="20.2" cy="22.6" r="1.9" fill="#9a55b0"/><circle cx="19.1" cy="25.6" r="1.9" fill="#9a55b0"/><circle cx="19.9" cy="28.5" r="1.9" fill="#9a55b0"/><circle cx="19.1" cy="31.3" r="1.9" fill="#9a55b0"/><circle cx="19.0" cy="34.8" r="1.9" fill="#9a55b0"/><circle cx="18.8" cy="37.8" r="1.9" fill="#1fb8cf"/><circle cx="18.9" cy="40.7" r="1.9" fill="#9a55b0"/><circle cx="20.1" cy="43.5" r="1.9" fill="#9a55b0"/><circle cx="20.0" cy="45.7" r="1.9" fill="#9a55b0"/><circle cx="18.8" cy="48.9" r="1.9" fill="#9a55b0"/><circle cx="19.8" cy="52.1" r="1.9" fill="#1fb8cf"/><circle cx="20.3" cy="55.8" r="1.9" fill="#9a55b0"/><circle cx="18.9" cy="58.7" r="1.9" fill="#9a55b0"/><circle cx="22.1" cy="1.2" r="1.9" fill="#9a55b0"/><circle cx="22.3" cy="4.3" r="1.9" fill="#9a55b0"/><circle cx="23.0" cy="7.7" r="1.9" fill="#9a55b0"/><circle cx="22.4" cy="11.1" r="1.9" fill="#9a55b0"/><circle cx="22.6" cy="13.6" r="1.9" fill="#9a55b0"/><circle cx="22.3" cy="15.9" r="1.9" fill="#1fb8cf"/><circle cx="22.0" cy="18.8" r="1.9" fill="#9a55b0"/><circle cx="22.5" cy="22.9" r="1.9" fill="#1fb8cf"/><circle cx="22.5" cy="26.1" r="1.9" fill="#9a55b0"/><circle cx="22.4" cy="28.4" r="1.9" fill="#1fb8cf"/><circle cx="21.9" cy="31.0" r="1.9" fill="#9a55b0"/><circle cx="22.3" cy="35.1" r="1.9" fill="#9a55b0"/><circle cx="22.1" cy="37.1" r="1.9" fill="#9a55b0"/><circle cx="22.2" cy="40.1" r="1.9" fill="#9a55b0"/><circle cx="21.8" cy="44.2" r="1.9" fill="#9a55b0"/><circle cx="23.2" cy="46.8" r="1.9" fill="#9a55b0"/><circle cx="22.5" cy="50.2" r="1.9" fill="#1fb8cf"/><circle cx="22.8" cy="52.2" r="1.9" fill="#9a55b0"/><circle cx="22.9" cy="55.0" r="1.9" fill="#9a55b0"/><circle cx="21.7" cy="58.1" r="1.9" fill="#1fb8cf"/><circle cx="25.3" cy="2.3" r="1.9" fill="#9a55b0"/><circle cx="25.2" cy="4.4" r="1.9" fill="#9a55b0"/><circle cx="25.9" cy="7.8" r="1.9" fill="#9a55b0"/><circle cx="25.1" cy="10.8" r="1.9" fill="#9a55b0"/><circle cx="25.7" cy="13.4" r="1.9" fill="#b5bb35"/><circle cx="24.7" cy="15.8" r="1.9" fill="#9a55b0"/><circle cx="25.4" cy="18.8" r="1.9" fill="#9a55b0"/><circle cx="26.3" cy="22.5" r="1.9" fill="#9a55b0"/><circle cx="24.9" cy="24.8" r="1.9" fill="#9a55b0"/><circle cx="25.5" cy="29.2" r="1.9" fill="#1fb8cf"/><circle cx="25.1" cy="30.8" r="1.9" fill="#9a55b0"/><circle cx="24.8" cy="34.1" r="1.9" fill="#9a55b0"/><circle cx="25.2" cy="36.8" r="1.9" fill="#1fb8cf"/><circle cx="26.3" cy="40.0" r="1.9" fill="#9a55b0"/><circle cx="25.3" cy="43.6" r="1.9" fill="#1fb8cf"/><circle cx="25.2" cy="45.9" r="1.9" fill="#9a55b0"/><circle cx="26.2" cy="49.7" r="1.9" fill="#9a55b0"/><circle cx="25.0" cy="51.7" r="1.9" fill="#9a55b0"/><circle cx="25.5" cy="55.6" r="1.9" fill="#9a55b0"/><circle cx="25.7" cy="58.9" r="1.9" fill="#9a55b0"/><circle cx="28.2" cy="1.4" r="1.9" fill="#9a55b0"/><circle cx="28.1" cy="3.9" r="1.9" fill="#9a55b0"/><circle cx="27.8" cy="7.9" r="1.9" fill="#9a55b0"/><circle cx="28.2" cy="9.9" r="1.9" fill="#1fb8cf"/><circle cx="28.1" cy="12.8" r="1.9" fill="#9a55b0"/><circle cx="28.6" cy="16.1" r="1.9" fill="#1fb8cf"/><circle cx="28.8" cy="18.8" r="1.9" fill="#9a55b0"/><circle cx="28.2" cy="22.3" r="1.9" fill="#1fb8cf"/><circle cx="28.4" cy="25.2" r="1.9" fill="#9a55b0"/><circle cx="28.6" cy="29.1" r="1.9" fill="#9a55b0"/><circle cx="28.9" cy="31.6" r="1.9" fill="#9a55b0"/><circle cx="29.0" cy="34.7" r="1.9" fill="#9a55b0"/><circle cx="28.9" cy="37.8" r="1.9" fill="#9a55b0"/><circle cx="29.0" cy="40.3" r="1.9" fill="#9a55b0"/><circle cx="27.8" cy="43.0" r="1.9" fill="#9a55b0"/><circle cx="28.8" cy="46.2" r="1.9" fill="#1fb8cf"/><circle cx="28.9" cy="49.6" r="1.9" fill="#1fb8cf"/><circle cx="27.8" cy="51.9" r="1.9" fill="#9a55b0"/><circle cx="29.1" cy="56.2" r="1.9" fill="#9a55b0"/><circle cx="28.1" cy="58.4" r="1.9" fill="#9a55b0"/><circle cx="31.2" cy="0.7" r="1.9" fill="#9a55b0"/><circle cx="32.0" cy="4.9" r="1.9" fill="#1fb8cf"/><circle cx="31.5" cy="7.0" r="1.9" fill="#9a55b0"/><circle cx="31.4" cy="11.2" r="1.9" fill="#9a55b0"/><circle cx="30.9" cy="13.2" r="1.9" fill="#9a55b0"/><circle cx="31.4" cy="16.4" r="1.9" fill="#9a55b0"/><circle cx="31.9" cy="20.2" r="1.9" fill="#9a55b0"/><circle cx="32.3" cy="22.7" r="1.9" fill="#1fb8cf"/><circle cx="32.0" cy="25.4" r="1.9" fill="#1fb8cf"/><circle cx="32.3" cy="27.8" r="1.9" fill="#9a55b0"/><circle cx="31.5" cy="32.1" r="1.9" fill="#9a55b0"/><circle cx="31.0" cy="34.1" r="1.9" fill="#9a55b0"/><circle cx="31.6" cy="37.3" r="1.9" fill="#9a55b0"/><circle cx="31.1" cy="40.3" r="1.9" fill="#9a55b0"/><circle cx="32.3" cy="44.0" r="1.9" fill="#9a55b0"/><circle cx="31.7" cy="46.3" r="1.9" fill="#9a55b0"/><circle cx="32.0" cy="49.5" r="1.9" fill="#1fb8cf"/><circle cx="31.0" cy="51.9" r="1.9" fill="#9a55b0"/><circle cx="32.1" cy="55.0" r="1.9" fill="#9a55b0"/><circle cx="31.2" cy="58.8" r="1.9" fill="#9a55b0"/><circle cx="34.7" cy="2.0" r="1.9" fill="#9a55b0"/><circle cx="33.7" cy="4.5" r="1.9" fill="#9a55b0"/><circle cx="34.0" cy="7.3" r="1.9" fill="#9a55b0"/><circle cx="33.7" cy="10.2" r="1.9" fill="#9a55b0"/><circle cx="34.5" cy="13.8" r="1.9" fill="#9a55b0"/><circle cx="35.3" cy="17.0" r="1.9" fill="#9a55b0"/><circle cx="34.8" cy="19.8" r="1.9" fill="#9a55b0"/><circle cx="35.0" cy="22.3" r="1.9" fill="#9a55b0"/><circle cx="34.8" cy="25.5" r="1.9" fill="#9a55b0"/><circle cx="33.8" cy="27.8" r="1.9" fill="#9a55b0"/><circle cx="34.6" cy="31.9" r="1.9" fill="#9a55b0"/><circle cx="34.2" cy="35.2" r="1.9" fill="#9a55b0"/><circle cx="34.8" cy="36.8" r="1.9" fill="#9a55b0"/><circle cx="34.8" cy="41.2" r="1.9" fill="#9a55b0"/><circle cx="34.8" cy="44.0" r="1.9" fill="#9a55b0"/><circle cx="34.7" cy="46.0" r="1.9" fill="#9a55b0"/><circle cx="35.1" cy="49.1" r="1.9" fill="#9a55b0"/><circle cx="34.6" cy="52.3" r="1.9" fill="#1fb8cf"/><circle cx="34.3" cy="55.0" r="1.9" fill="#9a55b0"/><circle cx="35.1" cy="59.2" r="1.9" fill="#9a55b0"/><circle cx="37.3" cy="0.9" r="1.9" fill="#9a55b0"/><circle cx="37.6" cy="4.8" r="1.9" fill="#9a55b0"/><circle cx="38.1" cy="7.0" r="1.9" fill="#9a55b0"/><circle cx="37.1" cy="10.7" r="1.9" fill="#9a55b0"/><circle cx="37.0" cy="13.7" r="1.9" fill="#9a55b0"/><circle cx="37.1" cy="15.8" r="1.9" fill="#9a55b0"/><circle cx="38.0" cy="20.1" r="1.9" fill="#9a55b0"/><circle cx="37.4" cy="22.4" r="1.9" fill="#9a55b0"/><circle cx="38.1" cy="25.2" r="1.9" fill="#9a55b0"/><circle cx="37.7" cy="29.2" r="1.9" fill="#9a55b0"/><circle cx="36.7" cy="30.9" r="1.9" fill="#9a55b0"/><circle cx="37.7" cy="34.0" r="1.9" fill="#9a55b0"/><circle cx="37.7" cy="37.7" r="1.9" fill="#9a55b0"/><circle cx="37.9" cy="39.8" r="1.9" fill="#9a55b0"/><circle cx="38.0" cy="44.2" r="1.9" fill="#9a55b0"/><circle cx="38.1" cy="46.7" r="1.9" fill="#9a55b0"/><circle cx="37.1" cy="49.8" r="1.9" fill="#9a55b0"/><circle cx="37.5" cy="51.9" r="1.9" fill="#9a55b0"/><circle cx="37.0" cy="54.8" r="1.9" fill="#9a55b0"/><circle cx="37.7" cy="57.9" r="1.9" fill="#9a55b0"/><circle cx="40.9" cy="2.0" r="1.9" fill="#9a55b0"/><circle cx="40.8" cy="5.2" r="1.9" fill="#9a55b0"/><circle cx="40.7" cy="8.2" r="1.9" fill="#1fb8cf"/><circle cx="39.9" cy="9.8" r="1.9" fill="#9a55b0"/><circle cx="40.3" cy="13.4" r="1.9" fill="#9a55b0"/><circle cx="40.9" cy="15.8" r="1.9" fill="#9a55b0"/><circle cx="40.6" cy="19.3" r="1.9" fill="#1fb8cf"/><circle cx="40.7" cy="22.3" r="1.9" fill="#9a55b0"/><circle cx="40.5" cy="26.2" r="1.9" fill="#9a55b0"/><circle cx="39.8" cy="28.9" r="1.9" fill="#9a55b0"/><circle cx="40.2" cy="30.9" r="1.9" fill="#9a55b0"/><circle cx="40.3" cy="34.9" r="1.9" fill="#9a55b0"/><circle cx="40.3" cy="37.2" r="1.9" fill="#9a55b0"/><circle cx="40.8" cy="41.0" r="1.9" fill="#9a55b0"/><circle cx="40.2" cy="43.2" r="1.9" fill="#9a55b0"/><circle cx="40.5" cy="45.8" r="1.9" fill="#9a55b0"/><circle cx="40.1" cy="49.8" r="1.9" fill="#1fb8cf"/><circle cx="40.1" cy="51.9" r="1.9" fill="#9a55b0"/><circle cx="41.3" cy="55.6" r="1.9" fill="#9a55b0"/><circle cx="41.2" cy="57.8" r="1.9" fill="#9a55b0"/><circle cx="44.0" cy="0.7" r="1.9" fill="#9a55b0"/><circle cx="43.3" cy="3.7" r="1.9" fill="#9a55b0"/><circle cx="43.4" cy="7.3" r="1.9" fill="#9a55b0"/><circle cx="42.8" cy="10.0" r="1.9" fill="#9a55b0"/><circle cx="43.4" cy="13.5" r="1.9" fill="#1fb8cf"/><circle cx="43.1" cy="17.2" r="1.9" fill="#9a55b0"/><circle cx="43.5" cy="18.8" r="1.9" fill="#9a55b0"/><circle cx="43.9" cy="22.4" r="1.9" fill="#9a55b0"/><circle cx="44.1" cy="25.7" r="1.9" fill="#9a55b0"/><circle cx="42.8" cy="27.7" r="1.9" fill="#9a55b0"/><circle cx="43.4" cy="32.1" r="1.9" fill="#9a55b0"/><circle cx="44.2" cy="34.3" r="1.9" fill="#8f4b43"/><circle cx="43.9" cy="38.1" r="1.9" fill="#9a55b0"/><circle cx="43.9" cy="40.4" r="1.9" fill="#9a55b0"/><circle cx="44.3" cy="43.0" r="1.9" fill="#9a55b0"/><circle cx="43.1" cy="46.5" r="1.9" fill="#9a55b0"/><circle cx="43.8" cy="48.9" r="1.9" fill="#9a55b0"/><circle cx="43.4" cy="51.8" r="1.9" fill="#9a55b0"/><circle cx="44.1" cy="56.1" r="1.9" fill="#9a55b0"/><circle cx="42.7" cy="59.0" r="1.9" fill="#9a55b0"/><circle cx="46.7" cy="0.9" r="1.9" fill="#9a55b0"/><circle cx="47.2" cy="5.2" r="1.9" fill="#1fb8cf"/><circle cx="46.0" cy="7.4" r="1.9" fill="#9a55b0"/><circle cx="46.9" cy="10.3" r="1.9" fill="#9a55b0"/><circle cx="45.9" cy="13.5" r="1.9" fill="#9a55b0"/><circle cx="46.8" cy="15.8" r="1.9" fill="#1fb8cf"/><circle cx="46.7" cy="19.3" r="1.9" fill="#9a55b0"/><circle cx="46.5" cy="22.6" r="1.9" fill="#9a55b0"/><circle cx="46.1" cy="25.6" r="1.9" fill="#9a55b0"/><circle cx="46.6" cy="28.9" r="1.9" fill="#9a55b0"/><circle cx="46.5" cy="31.8" r="1.9" fill="#1fb8cf"/><circle cx="46.9" cy="34.4" r="1.9" fill="#9a55b0"/><circle cx="46.7" cy="38.0" r="1.9" fill="#1fb8cf"/><circle cx="46.5" cy="39.8" r="1.9" fill="#9a55b0"/><circle cx="46.3" cy="42.7" r="1.9" fill="#9a55b0"/><circle cx="46.4" cy="46.7" r="1.9" fill="#9a55b0"/><circle cx="46.3" cy="49.5" r="1.9" fill="#9a55b0"/><circle cx="47.2" cy="53.2" r="1.9" fill="#e22b26"/><circle cx="46.2" cy="55.0" r="1.9" fill="#9a55b0"/><circle cx="45.8" cy="58.4" r="1.9" fill="#9a55b0"/><circle cx="49.5" cy="1.3" r="1.9" fill="#9a55b0"/><circle cx="49.2" cy="4.6" r="1.9" fill="#9a55b0"/><circle cx="48.9" cy="7.3" r="1.9" fill="#9a55b0"/><circle cx="49.6" cy="10.0" r="1.9" fill="#9a55b0"/><circle cx="48.8" cy="12.8" r="1.9" fill="#9a55b0"/><circle cx="48.9" cy="17.2" r="1.9" fill="#9a55b0"/><circle cx="49.1" cy="20.0" r="1.9" fill="#9a55b0"/><circle cx="49.1" cy="23.0" r="1.9" fill="#9a55b0"/><circle cx="49.3" cy="25.7" r="1.9" fill="#9a55b0"/><circle cx="49.1" cy="29.1" r="1.9" fill="#9a55b0"/><circle cx="50.1" cy="31.0" r="1.9" fill="#9a55b0"/><circle cx="48.8" cy="34.9" r="1.9" fill="#9a55b0"/><circle cx="48.7" cy="36.8" r="1.9" fill="#9a55b0"/><circle cx="49.5" cy="41.1" r="1.9" fill="#1fb8cf"/><circle cx="49.6" cy="42.9" r="1.9" fill="#9a55b0"/><circle cx="49.7" cy="46.7" r="1.9" fill="#9a55b0"/><circle cx="50.2" cy="48.9" r="1.9" fill="#1fb8cf"/><circle cx="49.8" cy="51.8" r="1.9" fill="#1fb8cf"/><circle cx="49.4" cy="55.7" r="1.9" fill="#9a55b0"/><circle cx="49.9" cy="57.8" r="1.9" fill="#9a55b0"/><circle cx="53.0" cy="0.9" r="1.9" fill="#9a55b0"/><circle cx="52.1" cy="4.2" r="1.9" fill="#1fb8cf"/><circle cx="52.9" cy="7.5" r="1.9" fill="#9a55b0"/><circle cx="52.4" cy="9.9" r="1.9" fill="#9a55b0"/><circle cx="52.1" cy="14.2" r="1.9" fill="#9a55b0"/><circle cx="51.8" cy="16.3" r="1.9" fill="#1fb8cf"/><circle cx="52.4" cy="19.7" r="1.9" fill="#9a55b0"/><circle cx="52.0" cy="21.9" r="1.9" fill="#9a55b0"/><circle cx="52.8" cy="25.4" r="1.9" fill="#9a55b0"/><circle cx="53.2" cy="27.9" r="1.9" fill="#9a55b0"/><circle cx="52.5" cy="31.6" r="1.9" fill="#9a55b0"/><circle cx="52.6" cy="34.8" r="1.9" fill="#9a55b0"/><circle cx="53.0" cy="38.0" r="1.9" fill="#9a55b0"/><circle cx="51.9" cy="40.1" r="1.9" fill="#9a55b0"/><circle cx="53.1" cy="43.1" r="1.9" fill="#9a55b0"/><circle cx="52.7" cy="47.2" r="1.9" fill="#1fb8cf"/><circle cx="52.9" cy="49.2" r="1.9" fill="#1fb8cf"/><circle cx="52.7" cy="53.1" r="1.9" fill="#9a55b0"/><circle cx="51.8" cy="56.3" r="1.9" fill="#9a55b0"/><circle cx="52.7" cy="58.9" r="1.9" fill="#9a55b0"/><circle cx="55.4" cy="1.2" r="1.9" fill="#1fb8cf"/><circle cx="54.8" cy="4.8" r="1.9" fill="#9a55b0"/><circle cx="56.1" cy="6.8" r="1.9" fill="#9a55b0"/><circle cx="55.0" cy="11.2" r="1.9" fill="#9a55b0"/><circle cx="56.1" cy="13.5" r="1.9" fill="#1fb8cf"/><circle cx="55.4" cy="16.1" r="1.9" fill="#1fb8cf"/><circle cx="55.6" cy="19.2" r="1.9" fill="#1fb8cf"/><circle cx="55.5" cy="23.2" r="1.9" fill="#9a55b0"/><circle cx="55.4" cy="24.9" r="1.9" fill="#9a55b0"/><circle cx="54.9" cy="28.6" r="1.9" fill="#1fb8cf"/><circle cx="56.3" cy="31.6" r="1.9" fill="#9a55b0"/><circle cx="55.1" cy="34.6" r="1.9" fill="#9a55b0"/><circle cx="55.4" cy="37.0" r="1.9" fill="#9a55b0"/><circle cx="56.2" cy="40.3" r="1.9" fill="#9a55b0"/><circle cx="56.2" cy="43.2" r="1.9" fill="#9a55b0"/><circle cx="55.5" cy="45.9" r="1.9" fill="#1fb8cf"/><circle cx="56.2" cy="49.4" r="1.9" fill="#9a55b0"/><circle cx="56.2" cy="52.6" r="1.9" fill="#9a55b0"/><circle cx="55.2" cy="55.9" r="1.9" fill="#9a55b0"/><circle cx="55.5" cy="58.9" r="1.9" fill="#9a55b0"/><circle cx="57.9" cy="1.0" r="1.9" fill="#9a55b0"/><circle cx="58.9" cy="3.9" r="1.9" fill="#aec8ec"/><circle cx="57.9" cy="7.0" r="1.9" fill="#1fb8cf"/><circle cx="58.4" cy="10.7" r="1.9" fill="#9a55b0"/><circle cx="58.0" cy="13.8" r="1.9" fill="#1fb8cf"/><circle cx="58.6" cy="16.1" r="1.9" fill="#9a55b0"/><circle cx="57.8" cy="19.9" r="1.9" fill="#9a55b0"/><circle cx="58.9" cy="22.2" r="1.9" fill="#9a55b0"/><circle cx="58.7" cy="25.5" r="1.9" fill="#9a55b0"/><circle cx="59.2" cy="28.2" r="1.9" fill="#9a55b0"/><circle cx="59.1" cy="30.9" r="1.9" fill="#9a55b0"/><circle cx="58.4" cy="35.3" r="1.9" fill="#9a55b0"/><circle cx="58.7" cy="37.9" r="1.9" fill="#9a55b0"/><circle cx="57.7" cy="41.2" r="1.9" fill="#9a55b0"/><circle cx="59.1" cy="43.8" r="1.9" fill="#9a55b0"/><circle cx="59.0" cy="46.8" r="1.9" fill="#9a55b0"/><circle cx="58.9" cy="49.5" r="1.9" fill="#9a55b0"/><circle cx="58.7" cy="53.0" r="1.9" fill="#9a55b0"/><circle cx="58.5" cy="54.7" r="1.9" fill="#9a55b0"/><circle cx="58.9" cy="59.0" r="1.9" fill="#1fb8cf"/></pattern>
</defs>
<rect x="0" y="0" width="2084" height="2676" fill="#fff"/>
<line x1="284.2" y1="62.5" x2="284.2" y2="408.2" stroke="#707070" stroke-width="1.6"/>
<line x1="283.4" y1="408.2" x2="636.0" y2="408.2" stroke="#707070" stroke-width="1.6"/>
<path d="M327.5,78.3 C333.4,77.0 350.7,77.1 357.3,77.3 C363.9,77.5 363.7,77.6 366.9,79.2 C370.1,80.8 373.3,84.0 376.5,86.9 C379.7,89.8 383.0,93.3 386.2,96.5 C389.4,99.7 392.6,102.0 395.8,106.2 C399.0,110.4 402.8,117.0 405.4,121.5 C408.0,126.0 409.3,129.2 411.2,133.1 C413.1,136.9 415.0,140.4 416.9,144.6 C418.8,148.8 421.2,154.6 422.7,158.1 C424.1,161.6 425.2,162.9 425.6,165.8 C426.0,168.7 425.5,172.2 425.1,175.4 C424.7,178.6 423.4,180.2 423.2,185.0 C423.0,189.8 423.7,198.6 423.7,204.2 C423.7,209.8 423.4,215.5 423.2,218.7 C423.0,221.9 422.5,218.5 422.7,223.5 C422.9,228.5 425.9,243.7 424.6,248.5 C423.3,253.3 417.9,253.3 415.0,252.3 C412.1,251.3 410.0,246.2 407.3,242.7 C404.6,239.2 400.8,234.7 398.7,231.2 C396.6,227.7 397.7,224.4 394.8,221.5 C391.9,218.6 386.0,217.2 381.3,213.8 C376.6,210.4 371.7,205.3 366.9,201.3 C362.1,197.3 356.8,193.5 352.5,189.8 C348.2,186.1 343.2,182.9 341.0,179.2 C338.8,175.5 340.3,171.5 339.0,167.7 C337.7,163.9 335.1,160.0 333.3,156.2 C331.6,152.3 330.9,147.8 328.5,144.6 C326.1,141.4 322.0,139.8 318.8,136.9 C315.6,134.0 311.4,130.7 309.2,127.3 C307.0,123.9 305.1,120.2 305.4,116.7 C305.7,113.2 309.3,109.9 311.2,106.2 C313.1,102.5 315.1,98.1 316.9,94.6 C318.6,91.1 319.9,87.7 321.7,85.0 C323.5,82.3 321.6,79.6 327.5,78.3Z" fill="#1bbcc0"/>
<path d="M415,139 L437,136.5" stroke="#1bbcc0" stroke-width="2.6" stroke-dasharray="4 3 2 3 4"/>
<path d="M300.0,265.9 C302.8,264.1 310.2,260.6 315.3,258.8 C320.4,257.0 325.5,255.7 330.6,255.3 C335.7,254.9 340.5,255.9 345.8,256.5 C351.1,257.1 357.2,257.4 362.3,258.8 C367.4,260.2 372.1,263.9 376.4,264.7 C380.7,265.5 384.3,263.5 388.2,263.5 C392.1,263.5 398.5,263.1 399.9,264.7 C401.3,266.3 398.0,270.0 396.4,272.9 C394.8,275.8 391.1,279.0 390.5,282.3 C389.9,285.6 392.7,289.6 392.9,292.9 C393.1,296.2 391.1,298.4 391.7,302.3 C392.3,306.2 395.2,311.1 396.4,316.4 C397.6,321.7 397.8,328.2 398.8,334.1 C399.8,340.0 401.0,345.8 402.3,351.7 C403.6,357.6 405.8,363.8 406.4,369.3 C407.0,374.8 407.3,380.9 405.8,384.6 C404.3,388.3 400.2,390.2 397.6,391.7 C395.1,393.2 394.4,393.8 390.5,393.4 C386.6,393.0 379.8,390.4 374.1,389.3 C368.4,388.2 362.3,388.2 356.4,387.0 C350.5,385.8 343.7,384.7 338.8,382.3 C333.9,379.9 330.9,376.2 327.0,372.9 C323.1,369.6 318.4,366.8 315.3,362.3 C312.2,357.8 309.0,350.9 308.2,345.8 C307.4,340.7 310.6,337.2 310.6,331.7 C310.6,326.2 309.6,320.3 308.2,312.9 C306.8,305.4 303.9,294.2 302.3,287.0 C300.7,279.8 299.2,272.9 298.8,269.4 C298.4,265.9 297.2,267.7 300.0,265.9Z" fill="#80b145"/>
<path d="M545.0,332.5 C547.9,329.6 556.5,324.6 560.0,325.0 C563.5,325.4 564.5,330.0 566.0,335.0 C567.5,340.0 570.0,349.2 569.0,355.0 C568.0,360.8 564.4,365.8 560.0,370.0 C555.6,374.2 546.2,381.2 542.5,380.0 C538.8,378.8 537.5,368.8 537.5,362.5 C537.5,356.2 541.2,347.5 542.5,342.5 C543.8,337.5 542.1,335.4 545.0,332.5Z" fill="#ef6e68"/>
<path d="M550.3,184.0 C551.8,183.3 560.1,181.4 562.3,180.5 C564.5,179.6 567.3,176.8 569.4,176.2 C571.5,175.6 577.5,175.0 580.0,175.2 C582.5,175.4 588.2,176.9 590.5,177.6 C592.8,178.3 597.5,179.8 599.7,181.2 C601.9,182.6 607.2,187.3 609.6,189.6 C612.0,191.9 620.0,198.8 620.2,200.6 C620.4,202.4 613.5,204.2 611.7,205.1 C609.9,206.0 606.3,207.5 604.7,208.0 C603.1,208.5 598.8,208.7 597.6,209.4 C596.4,210.1 595.1,212.8 594.1,213.6 C593.1,214.4 590.7,215.8 589.1,216.4 C587.5,217.0 581.9,217.8 580.0,218.6 C578.1,219.4 574.8,222.1 572.9,223.5 C571.0,224.9 565.4,228.9 563.7,230.5 C562.0,232.1 559.1,235.9 558.4,237.6 C557.7,239.3 557.3,242.6 557.4,244.7 C557.5,246.8 558.8,252.7 559.5,255.2 C560.2,257.7 562.2,263.0 563.7,265.8 C565.2,268.6 571.5,277.7 572.2,279.2 C572.9,280.7 570.9,279.7 569.4,278.5 C567.9,277.3 561.6,270.9 559.5,268.6 C557.4,266.3 553.2,260.9 551.7,258.8 C550.2,256.7 548.2,251.9 546.8,250.3 C545.4,248.7 540.2,245.6 539.8,244.7 C539.4,243.8 542.2,243.3 543.3,242.5 C544.4,241.7 548.6,239.4 549.6,237.6 C550.6,235.8 551.5,229.9 551.7,227.0 C551.9,224.1 551.2,216.6 551.0,212.9 C550.8,209.2 549.8,198.3 549.6,195.3 C549.4,192.3 549.5,188.1 549.6,186.8 C549.7,185.5 548.8,184.7 550.3,184.0Z" fill="#a883c1"/>
<path d="M601.8,240.4 C602.0,239.2 605.6,238.7 608.2,239.4 C610.8,240.1 615.3,242.9 617.4,244.7 C619.5,246.5 621.8,249.0 620.9,250.3 C620.0,251.6 614.1,253.0 611.7,252.4 C609.4,251.8 608.4,248.8 606.8,246.8 C605.1,244.8 601.6,241.6 601.8,240.4Z" fill="#a883c1"/>
<path d="M582.0,222.5 C582.8,222.2 586.8,222.5 588.0,222.8 C589.2,223.1 589.8,224.2 589.0,224.5 C588.2,224.8 584.2,225.1 583.0,224.8 C581.8,224.5 581.2,222.8 582.0,222.5Z" fill="#a883c1"/>
<circle cx="591.3" cy="227.7" r="1" fill="#a883c1"/><circle cx="596.9" cy="234.8" r="1.1" fill="#a883c1"/>
<path d="M297.7,156.2 C298.2,144.2 299.9,138.2 299.6,132.1 C299.3,126.0 296.1,123.9 295.8,119.6 C295.5,115.3 296.8,111.2 297.7,106.2 C298.6,101.2 299.2,94.3 301.5,89.8 C303.8,85.3 307.0,82.4 311.2,79.2 C315.4,76.0 321.1,72.2 326.5,70.6 C331.9,69.0 338.7,69.8 343.8,69.6 C348.9,69.4 352.7,69.1 357.3,69.6 C361.9,70.1 366.9,70.9 371.7,72.5 C376.5,74.1 382.2,77.1 386.2,79.2 C390.2,81.3 391.8,82.3 395.8,85.0 C399.8,87.7 405.4,92.4 410.2,95.6 C415.0,98.8 420.3,100.5 424.6,104.2 C428.9,107.9 433.3,113.1 436.2,117.7 C439.1,122.3 440.3,127.6 441.9,132.1 C443.5,136.6 444.7,139.0 445.8,144.6 C446.9,150.2 447.6,158.2 448.7,165.8 C449.8,173.4 451.4,182.6 452.5,190.0 C453.6,197.4 453.3,203.8 455.0,210.0 C456.7,216.2 458.3,221.7 462.5,227.5 C466.7,233.3 473.8,239.2 480.0,245.0 C486.2,250.8 492.5,257.1 500.0,262.5 C507.5,267.9 516.7,271.7 525.0,277.5 C533.3,283.3 541.7,291.7 550.0,297.5 C558.3,303.3 569.3,305.8 575.0,312.5 C580.7,319.2 582.8,327.9 584.0,337.5 C585.2,347.1 586.1,362.1 582.5,370.0 C578.9,377.9 572.1,381.0 562.5,385.0 C552.9,389.0 538.8,391.8 525.0,393.8 C511.2,395.8 491.3,396.6 479.9,397.0 C468.5,397.4 465.2,396.6 456.4,396.4 C447.6,396.2 434.9,395.6 427.0,395.8 C419.1,396.0 415.2,396.7 409.3,397.6 C403.4,398.5 397.6,400.5 391.7,401.1 C385.8,401.7 381.0,401.5 374.1,401.1 C367.2,400.7 357.4,399.9 350.5,398.7 C343.6,397.5 338.8,397.3 332.9,394.0 C327.0,390.7 320.4,383.6 315.3,378.7 C310.2,373.8 304.5,370.1 302.3,364.6 C300.1,359.1 302.7,353.8 302.3,345.8 C301.9,337.8 301.2,326.2 300.0,316.4 C298.8,306.6 296.3,294.8 295.3,287.0 C294.3,279.2 294.1,276.8 294.1,269.4 C294.1,262.0 294.9,253.3 295.3,242.4 C295.7,231.5 296.3,218.6 296.7,204.2 C297.1,189.8 297.2,168.2 297.7,156.2Z" fill="none" stroke="#111" stroke-width="1.8" stroke-dasharray="9 5"/>
<line x1="257.8" y1="434.1" x2="257.8" y2="325.2" stroke="#000" stroke-width="1.8"/>
<polygon points="257.8,313.7 251.6,326.2 264.1,326.2" fill="#000"/>
<line x1="256.9" y1="433.2" x2="382.2" y2="433.2" stroke="#000" stroke-width="1.8"/>
<polygon points="393.7,433.2 381.2,426.9 381.2,439.4" fill="#000"/>
<line x1="572.5" y1="312.8" x2="775.0" y2="312.8" stroke="#000" stroke-width="1.8"/>
<polygon points="790.0,312.8 774.0,306.8 774.0,318.8" fill="#000"/>
<line x1="874.5" y1="60.0" x2="874.5" y2="407.0" stroke="#707070" stroke-width="1.6"/>
<line x1="873.8" y1="407.0" x2="1246.3" y2="407.0" stroke="#222" stroke-width="1.6"/>
<path d="M990.0,84.0 C998.0,80.8 1009.0,78.5 1020.0,76.5 C1031.0,74.5 1047.8,71.2 1056.0,72.0 C1064.2,72.8 1067.0,76.5 1069.0,81.0 C1071.0,85.5 1069.7,91.5 1068.0,99.0 C1066.3,106.5 1061.5,116.5 1059.0,126.0 C1056.5,135.5 1056.0,149.0 1053.0,156.0 C1050.0,163.0 1044.0,161.5 1041.0,168.0 C1038.0,174.5 1038.5,188.8 1035.0,195.0 C1031.5,201.2 1027.5,203.3 1020.0,205.0 C1012.5,206.7 1000.0,206.2 990.0,205.0 C980.0,203.8 968.5,201.2 960.0,198.0 C951.5,194.8 941.0,193.0 939.0,186.0 C937.0,179.0 944.5,165.5 948.0,156.0 C951.5,146.5 958.0,136.5 960.0,129.0 C962.0,121.5 958.0,116.5 960.0,111.0 C962.0,105.5 967.0,100.5 972.0,96.0 C977.0,91.5 982.0,87.2 990.0,84.0Z" fill="#80b145"/>
<path d="M997.0,229.5 C1001.8,228.8 1010.7,227.0 1013.5,227.5 C1016.3,228.0 1015.2,230.9 1014.0,232.5 C1012.8,234.1 1008.7,235.2 1006.0,237.0 C1003.3,238.8 1000.2,240.8 998.0,243.0 C995.8,245.2 994.1,247.2 993.0,250.0 C991.9,252.8 991.2,257.1 991.4,260.0 C991.6,262.9 992.4,265.2 994.4,267.5 C996.4,269.8 1000.6,270.8 1003.4,273.5 C1006.1,276.2 1008.6,279.8 1010.9,284.0 C1013.1,288.2 1014.9,294.0 1016.9,299.0 C1018.9,304.0 1021.0,308.0 1022.9,314.0 C1024.8,320.0 1027.3,328.0 1028.3,335.0 C1029.3,342.0 1029.3,350.0 1028.9,356.0 C1028.5,362.0 1027.9,366.8 1025.9,371.0 C1023.9,375.2 1020.9,378.4 1016.9,381.4 C1012.9,384.4 1006.4,387.1 1001.9,388.9 C997.4,390.6 994.9,392.4 989.9,391.9 C984.9,391.4 978.4,388.9 971.9,385.9 C965.4,382.9 956.1,377.9 950.9,373.9 C945.6,369.9 942.6,366.0 940.4,362.0 C938.1,358.0 938.4,355.0 937.4,350.0 C936.4,345.0 936.1,337.5 934.4,332.0 C932.6,326.5 928.8,322.0 926.9,317.0 C925.0,312.0 923.5,307.0 923.3,302.0 C923.0,297.0 923.8,292.0 925.4,287.0 C927.0,282.0 929.6,277.0 932.9,272.0 C936.1,267.0 940.4,261.5 944.9,257.0 C949.4,252.5 955.4,248.3 959.9,245.0 C964.4,241.7 967.8,239.2 972.0,237.0 C976.2,234.8 980.8,233.2 985.0,232.0 C989.2,230.8 992.2,230.2 997.0,229.5Z" fill="#1bbcc0"/>
<circle cx="892" cy="245" r="2" fill="#1bbcc0"/>
<path d="M1217.8,216.0 C1220.3,216.5 1223.0,221.0 1225.0,224.0 C1227.0,227.0 1229.0,231.2 1230.0,234.0 C1231.0,236.8 1231.8,238.0 1231.3,241.0 C1230.8,244.0 1228.9,248.5 1227.0,252.0 C1225.1,255.5 1222.5,259.0 1220.0,262.0 C1217.5,265.0 1214.6,269.5 1211.8,270.0 C1209.0,270.5 1205.8,267.0 1203.0,265.0 C1200.2,263.0 1196.3,260.8 1195.3,258.0 C1194.3,255.2 1195.8,252.5 1197.0,248.0 C1198.2,243.5 1200.6,235.5 1202.8,231.0 C1205.0,226.5 1207.5,223.5 1210.0,221.0 C1212.5,218.5 1215.3,215.5 1217.8,216.0Z" fill="#ef6e68"/>
<path d="M883.4,239.0 C882.3,246.1 888.0,260.9 889.4,269.0 C890.8,277.1 895.5,312.5 896.9,320.0 C898.2,327.5 901.4,340.3 902.9,344.0 C904.4,347.7 908.6,353.4 911.9,357.0 C915.2,360.6 931.1,376.7 935.9,380.0 C940.7,383.3 954.5,388.8 959.9,390.4 C965.3,392.0 984.5,395.7 989.9,396.4 C995.3,397.1 1009.9,397.6 1013.9,397.3 C1017.9,397.0 1027.0,394.4 1030.0,393.0 C1033.0,391.6 1041.8,385.4 1043.9,382.9 C1046.0,380.4 1049.9,373.3 1050.8,367.9 C1051.7,362.5 1052.8,336.8 1052.9,329.0 C1053.0,321.2 1052.2,298.4 1051.4,290.0 C1050.6,281.6 1045.7,251.8 1045.0,245.0 C1044.3,238.2 1042.3,229.7 1044.0,222.0 C1045.7,214.3 1059.2,177.3 1062.0,168.0 C1064.8,158.7 1070.2,139.7 1072.0,129.0 C1073.8,118.3 1082.7,69.0 1080.0,61.5 C1077.3,54.0 1057.0,53.1 1045.4,54.0 C1033.8,54.9 976.5,63.3 964.4,70.5 C952.3,77.7 930.4,113.2 924.0,126.0 C917.6,138.8 904.1,186.7 900.0,198.0 C895.9,209.3 884.5,231.9 883.4,239.0Z" fill="none" stroke="#111" stroke-width="1.8" stroke-dasharray="9 5"/>
<line x1="855.0" y1="425.2" x2="855.0" y2="317.0" stroke="#000" stroke-width="1.8"/>
<polygon points="855.0,305.0 849.2,318.0 860.8,318.0" fill="#000"/>
<line x1="854.1" y1="424.3" x2="978.0" y2="424.3" stroke="#000" stroke-width="1.8"/>
<polygon points="990.0,424.3 977.0,418.6 977.0,430.1" fill="#000"/>
<line x1="1051.4" y1="327.5" x2="1252.2" y2="327.5" stroke="#000" stroke-width="1.8"/>
<polygon points="1267.2,327.5 1251.2,321.5 1251.2,333.5" fill="#000"/>
<line x1="1337.4" y1="67.5" x2="1337.4" y2="407.0" stroke="#222" stroke-width="1.6"/>
<line x1="1336.6" y1="407.0" x2="1736.8" y2="407.0" stroke="#222" stroke-width="1.6"/>
<path d="M1463.9,130.4 C1465.4,130.7 1461.4,135.9 1469.9,139.4 C1478.4,142.9 1506.4,148.2 1514.9,151.4 C1523.4,154.7 1518.4,154.7 1520.9,158.9 C1523.4,163.2 1527.2,170.9 1529.9,176.9 C1532.7,182.9 1535.7,189.9 1537.4,194.9 C1539.2,199.9 1541.2,202.4 1540.4,206.9 C1539.7,211.4 1536.2,216.9 1532.9,221.9 C1529.7,226.9 1524.9,231.9 1520.9,236.9 C1516.9,241.9 1511.9,247.4 1508.9,251.9 C1505.9,256.4 1506.4,259.9 1502.9,263.9 C1499.4,267.9 1490.9,272.4 1487.9,275.9 C1484.9,279.4 1483.9,282.1 1484.9,284.9 C1485.9,287.6 1491.4,290.4 1493.9,292.4 C1496.4,294.4 1500.4,294.6 1499.9,296.9 C1499.4,299.1 1494.9,302.4 1490.9,305.9 C1486.9,309.4 1481.4,312.8 1475.9,317.8 C1470.4,322.8 1463.9,329.3 1457.9,335.8 C1451.9,342.3 1446.9,351.6 1439.9,356.8 C1432.9,362.1 1423.4,365.1 1415.9,367.3 C1408.4,369.6 1401.9,369.3 1394.9,370.3 C1387.9,371.3 1379.2,374.6 1373.9,373.3 C1368.7,372.1 1365.4,370.1 1363.4,362.8 C1361.4,355.6 1360.7,342.3 1361.9,329.8 C1363.2,317.3 1367.4,300.4 1370.9,287.9 C1374.4,275.4 1378.4,265.4 1382.9,254.9 C1387.4,244.4 1391.9,231.4 1397.9,224.9 C1403.9,218.4 1411.9,218.9 1418.9,215.9 C1425.9,212.9 1433.9,210.9 1439.9,206.9 C1445.9,202.9 1451.7,198.9 1454.9,191.9 C1458.2,184.9 1458.4,173.9 1459.4,164.9 C1460.4,155.9 1460.2,143.7 1460.9,137.9 C1461.7,132.2 1462.4,130.2 1463.9,130.4Z" fill="#80b145"/>
<path d="M1628.8,90.0 C1631.5,91.0 1636.3,96.0 1643.8,102.0 C1651.3,108.0 1665.8,118.9 1673.8,125.9 C1681.8,132.9 1685.8,136.9 1691.8,143.9 C1697.8,150.9 1704.3,159.4 1709.8,167.9 C1715.3,176.4 1721.3,186.9 1724.8,194.9 C1728.3,202.9 1729.8,208.4 1730.8,215.9 C1731.8,223.4 1731.0,228.4 1730.8,239.9 C1730.5,251.4 1730.8,270.9 1729.3,284.9 C1727.8,298.9 1725.5,311.3 1721.8,323.8 C1718.0,336.3 1711.8,350.3 1706.8,359.8 C1701.8,369.3 1697.3,375.3 1691.8,380.8 C1686.3,386.3 1680.8,390.6 1673.8,392.8 C1666.8,395.1 1657.3,394.6 1649.8,394.3 C1642.3,394.1 1633.8,393.6 1628.8,391.3 C1623.8,389.1 1622.0,386.1 1619.8,380.8 C1617.5,375.6 1617.0,365.8 1615.3,359.8 C1613.5,353.8 1611.5,350.3 1609.3,344.8 C1607.0,339.3 1602.5,333.3 1601.8,326.8 C1601.0,320.3 1601.8,311.3 1604.8,305.8 C1607.8,300.3 1615.8,298.9 1619.8,293.9 C1623.8,288.9 1626.8,282.4 1628.8,275.9 C1630.8,269.4 1631.5,263.4 1631.8,254.9 C1632.0,246.4 1629.3,234.9 1630.3,224.9 C1631.3,214.9 1635.5,204.4 1637.8,194.9 C1640.0,185.4 1643.0,177.4 1643.8,167.9 C1644.5,158.4 1643.3,146.9 1642.3,137.9 C1641.3,128.9 1640.3,120.9 1637.8,113.9 C1635.3,106.9 1628.8,100.0 1627.3,96.0 C1625.8,92.0 1626.0,89.0 1628.8,90.0Z" fill="#1bbcc0"/>
<circle cx="1549.4" cy="293.6" r="2.2" fill="#80b145"/>
<line x1="1321.5" y1="422.9" x2="1321.5" y2="315.5" stroke="#000" stroke-width="1.8"/>
<polygon points="1321.5,303.5 1315.8,316.5 1327.2,316.5" fill="#000"/>
<line x1="1320.6" y1="422.0" x2="1444.4" y2="422.0" stroke="#000" stroke-width="1.8"/>
<polygon points="1456.4,422.0 1443.4,416.2 1443.4,427.8" fill="#000"/>
<circle cx="387.5" cy="293.6" r="1.4" fill="#fff"/><circle cx="387.7" cy="292.6" r="1.2" fill="#fff"/><circle cx="384.8" cy="292.7" r="1.2" fill="#fff"/><circle cx="390.9" cy="284.8" r="1.0" fill="#fff"/><circle cx="383.9" cy="298.4" r="1.3" fill="#fff"/><circle cx="383.4" cy="301.7" r="1.5" fill="#fff"/><circle cx="389.5" cy="294.7" r="0.9" fill="#fff"/><circle cx="383.2" cy="293.0" r="0.8" fill="#fff"/><circle cx="384.9" cy="287.6" r="0.8" fill="#fff"/><circle cx="387.6" cy="291.4" r="1.4" fill="#fff"/><circle cx="388.2" cy="295.2" r="1.1" fill="#fff"/><circle cx="389.6" cy="291.7" r="1.0" fill="#fff"/><circle cx="393.0" cy="301.9" r="1.4" fill="#fff"/><circle cx="390.1" cy="289.0" r="1.0" fill="#fff"/><circle cx="1034.2" cy="164.1" r="1.3" fill="#fff"/><circle cx="1035.4" cy="176.5" r="1.1" fill="#fff"/><circle cx="1041.5" cy="176.6" r="0.8" fill="#fff"/><circle cx="1033.3" cy="177.6" r="1.1" fill="#fff"/><circle cx="1041.8" cy="169.4" r="0.9" fill="#fff"/><circle cx="1037.9" cy="175.5" r="1.0" fill="#fff"/><circle cx="1032.0" cy="168.3" r="1.5" fill="#fff"/><circle cx="1039.3" cy="164.9" r="1.0" fill="#fff"/><circle cx="1032.1" cy="164.0" r="1.4" fill="#fff"/><circle cx="1033.0" cy="171.9" r="1.1" fill="#fff"/><circle cx="1033.1" cy="174.7" r="0.9" fill="#fff"/><circle cx="1038.1" cy="164.9" r="1.1" fill="#fff"/><circle cx="1481.4" cy="278.1" r="1.5" fill="#fff"/><circle cx="1490.9" cy="279.1" r="1.4" fill="#fff"/><circle cx="1481.4" cy="281.8" r="1.4" fill="#fff"/><circle cx="1488.3" cy="273.0" r="1.5" fill="#fff"/><circle cx="1481.4" cy="277.7" r="1.3" fill="#fff"/><circle cx="1483.3" cy="278.9" r="0.9" fill="#fff"/><circle cx="1479.4" cy="287.5" r="1.0" fill="#fff"/><circle cx="1487.6" cy="281.2" r="1.1" fill="#fff"/><circle cx="1493.3" cy="284.5" r="1.2" fill="#fff"/><circle cx="1491.9" cy="275.5" r="0.9" fill="#fff"/>
<rect x="137.9" y="569.6" width="203.3" height="230.1" fill="none" stroke="#555" stroke-width="1.7"/>
<g transform="translate(0,0)"><path d="M176.7,632.5 C178.9,629.6 184.5,624.2 188.7,621.5 C192.9,618.8 197.5,617.3 201.9,616.0 C206.3,614.7 210.6,614.1 215.0,613.5 C219.4,612.9 224.6,612.0 228.3,612.3 C232.1,612.5 235.8,613.0 237.5,615.0 C239.2,617.0 238.7,620.3 238.4,624.0 C238.1,627.7 236.4,633.4 235.5,637.0 C234.6,640.6 233.9,642.4 232.7,645.7 C231.5,649.0 230.1,653.0 228.3,656.7 C226.5,660.4 223.3,664.0 221.7,667.7 C220.0,671.4 219.1,675.8 218.4,678.7 C217.7,681.6 219.2,683.8 217.3,685.3 C215.4,686.8 210.7,687.1 207.0,687.5 C203.3,687.9 200.5,688.4 195.3,687.8 C190.1,687.1 180.7,685.1 175.6,683.6 C170.5,682.1 166.5,680.1 164.5,678.5 C162.5,676.9 163.4,676.2 163.8,674.0 C164.2,671.8 165.4,669.1 166.8,665.5 C168.2,661.9 170.8,656.7 172.3,652.3 C173.8,647.9 174.9,642.4 175.6,639.1 C176.3,635.8 174.5,635.4 176.7,632.5Z" fill="url(#g1)"/><path d="M176.7,632.5 C178.9,629.6 184.5,624.2 188.7,621.5 C192.9,618.8 197.5,617.3 201.9,616.0 C206.3,614.7 210.6,614.1 215.0,613.5 C219.4,612.9 224.6,612.0 228.3,612.3 C232.1,612.5 235.8,613.0 237.5,615.0 C239.2,617.0 238.7,620.3 238.4,624.0 C238.1,627.7 236.4,633.4 235.5,637.0 C234.6,640.6 233.9,642.4 232.7,645.7 C231.5,649.0 230.1,653.0 228.3,656.7 C226.5,660.4 223.3,664.0 221.7,667.7 C220.0,671.4 219.1,675.8 218.4,678.7 C217.7,681.6 219.2,683.8 217.3,685.3 C215.4,686.8 210.7,687.1 207.0,687.5 C203.3,687.9 200.5,688.4 195.3,687.8 C190.1,687.1 180.7,685.1 175.6,683.6 C170.5,682.1 166.5,680.1 164.5,678.5 C162.5,676.9 163.4,676.2 163.8,674.0 C164.2,671.8 165.4,669.1 166.8,665.5 C168.2,661.9 170.8,656.7 172.3,652.3 C173.8,647.9 174.9,642.4 175.6,639.1 C176.3,635.8 174.5,635.4 176.7,632.5Z" fill="#000" filter="url(#spw2)"/><path d="M176.7,632.5 C178.9,629.6 184.5,624.2 188.7,621.5 C192.9,618.8 197.5,617.3 201.9,616.0 C206.3,614.7 210.6,614.1 215.0,613.5 C219.4,612.9 224.6,612.0 228.3,612.3 C232.1,612.5 235.8,613.0 237.5,615.0 C239.2,617.0 238.7,620.3 238.4,624.0 C238.1,627.7 236.4,633.4 235.5,637.0 C234.6,640.6 233.9,642.4 232.7,645.7 C231.5,649.0 230.1,653.0 228.3,656.7 C226.5,660.4 223.3,664.0 221.7,667.7 C220.0,671.4 219.1,675.8 218.4,678.7 C217.7,681.6 219.2,683.8 217.3,685.3 C215.4,686.8 210.7,687.1 207.0,687.5 C203.3,687.9 200.5,688.4 195.3,687.8 C190.1,687.1 180.7,685.1 175.6,683.6 C170.5,682.1 166.5,680.1 164.5,678.5 C162.5,676.9 163.4,676.2 163.8,674.0 C164.2,671.8 165.4,669.1 166.8,665.5 C168.2,661.9 170.8,656.7 172.3,652.3 C173.8,647.9 174.9,642.4 175.6,639.1 C176.3,635.8 174.5,635.4 176.7,632.5Z" fill="#000" filter="url(#spb2)"/><path d="M201.9,700.7 C204.1,700.4 206.8,700.0 206.3,700.9 C205.8,701.8 200.8,704.1 199.0,706.0 C197.2,707.9 196.0,709.5 195.6,712.0 C195.2,714.5 194.9,717.4 196.3,721.0 C197.7,724.6 201.5,728.6 204.1,733.6 C206.7,738.6 210.0,745.3 211.8,751.2 C213.6,757.1 214.6,763.7 215.1,768.8 C215.6,773.9 215.8,778.6 214.6,782.0 C213.4,785.4 210.1,787.2 208.0,789.0 C205.9,790.8 204.8,791.7 201.9,792.5 C199.1,793.3 196.0,794.9 190.9,794.0 C185.8,793.1 175.9,791.2 171.2,787.4 C166.4,783.6 165.0,777.4 162.4,771.0 C159.8,764.6 157.1,754.9 155.8,749.0 C154.5,743.1 153.6,740.2 154.7,735.8 C155.8,731.4 158.2,727.0 162.4,722.6 C166.6,718.2 174.9,712.8 180.0,709.5 C185.1,706.2 189.4,704.4 193.1,702.9 C196.8,701.4 199.7,701.0 201.9,700.7Z" fill="url(#g2)"/><path d="M201.9,700.7 C204.1,700.4 206.8,700.0 206.3,700.9 C205.8,701.8 200.8,704.1 199.0,706.0 C197.2,707.9 196.0,709.5 195.6,712.0 C195.2,714.5 194.9,717.4 196.3,721.0 C197.7,724.6 201.5,728.6 204.1,733.6 C206.7,738.6 210.0,745.3 211.8,751.2 C213.6,757.1 214.6,763.7 215.1,768.8 C215.6,773.9 215.8,778.6 214.6,782.0 C213.4,785.4 210.1,787.2 208.0,789.0 C205.9,790.8 204.8,791.7 201.9,792.5 C199.1,793.3 196.0,794.9 190.9,794.0 C185.8,793.1 175.9,791.2 171.2,787.4 C166.4,783.6 165.0,777.4 162.4,771.0 C159.8,764.6 157.1,754.9 155.8,749.0 C154.5,743.1 153.6,740.2 154.7,735.8 C155.8,731.4 158.2,727.0 162.4,722.6 C166.6,718.2 174.9,712.8 180.0,709.5 C185.1,706.2 189.4,704.4 193.1,702.9 C196.8,701.4 199.7,701.0 201.9,700.7Z" fill="#000" filter="url(#spw2)"/><path d="M321.7,694.0 C323.2,693.9 324.7,696.0 326.0,697.5 C327.3,699.0 328.8,701.2 329.5,703.0 C330.2,704.8 330.7,706.5 330.5,708.5 C330.3,710.5 329.6,713.0 328.5,715.0 C327.4,717.0 325.7,718.9 324.0,720.5 C322.3,722.1 320.2,724.2 318.4,724.5 C316.6,724.8 314.5,723.5 313.0,722.5 C311.5,721.5 310.0,720.5 309.6,718.7 C309.2,717.0 309.9,714.3 310.5,712.0 C311.1,709.7 311.9,707.3 313.0,705.0 C314.1,702.7 315.6,699.8 317.0,698.0 C318.4,696.2 320.2,694.1 321.7,694.0Z" fill="#2b50a5"/></g>
<rect x="343.1" y="569.6" width="202.9" height="230.1" fill="none" stroke="#555" stroke-width="1.7"/>
<g transform="translate(201.5,0)"><path d="M176.7,632.5 C178.9,629.6 184.5,624.2 188.7,621.5 C192.9,618.8 197.5,617.3 201.9,616.0 C206.3,614.7 210.6,614.1 215.0,613.5 C219.4,612.9 224.6,612.0 228.3,612.3 C232.1,612.5 235.8,613.0 237.5,615.0 C239.2,617.0 238.7,620.3 238.4,624.0 C238.1,627.7 236.4,633.4 235.5,637.0 C234.6,640.6 233.9,642.4 232.7,645.7 C231.5,649.0 230.1,653.0 228.3,656.7 C226.5,660.4 223.3,664.0 221.7,667.7 C220.0,671.4 219.1,675.8 218.4,678.7 C217.7,681.6 219.2,683.8 217.3,685.3 C215.4,686.8 210.7,687.1 207.0,687.5 C203.3,687.9 200.5,688.4 195.3,687.8 C190.1,687.1 180.7,685.1 175.6,683.6 C170.5,682.1 166.5,680.1 164.5,678.5 C162.5,676.9 163.4,676.2 163.8,674.0 C164.2,671.8 165.4,669.1 166.8,665.5 C168.2,661.9 170.8,656.7 172.3,652.3 C173.8,647.9 174.9,642.4 175.6,639.1 C176.3,635.8 174.5,635.4 176.7,632.5Z" fill="url(#g3)"/><path d="M176.7,632.5 C178.9,629.6 184.5,624.2 188.7,621.5 C192.9,618.8 197.5,617.3 201.9,616.0 C206.3,614.7 210.6,614.1 215.0,613.5 C219.4,612.9 224.6,612.0 228.3,612.3 C232.1,612.5 235.8,613.0 237.5,615.0 C239.2,617.0 238.7,620.3 238.4,624.0 C238.1,627.7 236.4,633.4 235.5,637.0 C234.6,640.6 233.9,642.4 232.7,645.7 C231.5,649.0 230.1,653.0 228.3,656.7 C226.5,660.4 223.3,664.0 221.7,667.7 C220.0,671.4 219.1,675.8 218.4,678.7 C217.7,681.6 219.2,683.8 217.3,685.3 C215.4,686.8 210.7,687.1 207.0,687.5 C203.3,687.9 200.5,688.4 195.3,687.8 C190.1,687.1 180.7,685.1 175.6,683.6 C170.5,682.1 166.5,680.1 164.5,678.5 C162.5,676.9 163.4,676.2 163.8,674.0 C164.2,671.8 165.4,669.1 166.8,665.5 C168.2,661.9 170.8,656.7 172.3,652.3 C173.8,647.9 174.9,642.4 175.6,639.1 C176.3,635.8 174.5,635.4 176.7,632.5Z" fill="#000" filter="url(#spw2)"/><path d="M201.9,700.7 C204.1,700.4 206.8,700.0 206.3,700.9 C205.8,701.8 200.8,704.1 199.0,706.0 C197.2,707.9 196.0,709.5 195.6,712.0 C195.2,714.5 194.9,717.4 196.3,721.0 C197.7,724.6 201.5,728.6 204.1,733.6 C206.7,738.6 210.0,745.3 211.8,751.2 C213.6,757.1 214.6,763.7 215.1,768.8 C215.6,773.9 215.8,778.6 214.6,782.0 C213.4,785.4 210.1,787.2 208.0,789.0 C205.9,790.8 204.8,791.7 201.9,792.5 C199.1,793.3 196.0,794.9 190.9,794.0 C185.8,793.1 175.9,791.2 171.2,787.4 C166.4,783.6 165.0,777.4 162.4,771.0 C159.8,764.6 157.1,754.9 155.8,749.0 C154.5,743.1 153.6,740.2 154.7,735.8 C155.8,731.4 158.2,727.0 162.4,722.6 C166.6,718.2 174.9,712.8 180.0,709.5 C185.1,706.2 189.4,704.4 193.1,702.9 C196.8,701.4 199.7,701.0 201.9,700.7Z" fill="url(#g4)"/><path d="M201.9,700.7 C204.1,700.4 206.8,700.0 206.3,700.9 C205.8,701.8 200.8,704.1 199.0,706.0 C197.2,707.9 196.0,709.5 195.6,712.0 C195.2,714.5 194.9,717.4 196.3,721.0 C197.7,724.6 201.5,728.6 204.1,733.6 C206.7,738.6 210.0,745.3 211.8,751.2 C213.6,757.1 214.6,763.7 215.1,768.8 C215.6,773.9 215.8,778.6 214.6,782.0 C213.4,785.4 210.1,787.2 208.0,789.0 C205.9,790.8 204.8,791.7 201.9,792.5 C199.1,793.3 196.0,794.9 190.9,794.0 C185.8,793.1 175.9,791.2 171.2,787.4 C166.4,783.6 165.0,777.4 162.4,771.0 C159.8,764.6 157.1,754.9 155.8,749.0 C154.5,743.1 153.6,740.2 154.7,735.8 C155.8,731.4 158.2,727.0 162.4,722.6 C166.6,718.2 174.9,712.8 180.0,709.5 C185.1,706.2 189.4,704.4 193.1,702.9 C196.8,701.4 199.7,701.0 201.9,700.7Z" fill="#000" filter="url(#spw2)"/><path d="M321.7,694.0 C323.2,693.9 324.7,696.0 326.0,697.5 C327.3,699.0 328.8,701.2 329.5,703.0 C330.2,704.8 330.7,706.5 330.5,708.5 C330.3,710.5 329.6,713.0 328.5,715.0 C327.4,717.0 325.7,718.9 324.0,720.5 C322.3,722.1 320.2,724.2 318.4,724.5 C316.6,724.8 314.5,723.5 313.0,722.5 C311.5,721.5 310.0,720.5 309.6,718.7 C309.2,717.0 309.9,714.3 310.5,712.0 C311.1,709.7 311.9,707.3 313.0,705.0 C314.1,702.7 315.6,699.8 317.0,698.0 C318.4,696.2 320.2,694.1 321.7,694.0Z" fill="#a51c45"/><path d="M321.7,694.0 C323.2,693.9 324.7,696.0 326.0,697.5 C327.3,699.0 328.8,701.2 329.5,703.0 C330.2,704.8 330.7,706.5 330.5,708.5 C330.3,710.5 329.6,713.0 328.5,715.0 C327.4,717.0 325.7,718.9 324.0,720.5 C322.3,722.1 320.2,724.2 318.4,724.5 C316.6,724.8 314.5,723.5 313.0,722.5 C311.5,721.5 310.0,720.5 309.6,718.7 C309.2,717.0 309.9,714.3 310.5,712.0 C311.1,709.7 311.9,707.3 313.0,705.0 C314.1,702.7 315.6,699.8 317.0,698.0 C318.4,696.2 320.2,694.1 321.7,694.0Z" fill="#000" filter="url(#spw2)"/></g>
<rect x="549.9" y="569.6" width="202.5" height="230.1" fill="none" stroke="#555" stroke-width="1.7"/>
<g transform="translate(403,0)"><path d="M176.7,632.5 C178.9,629.6 184.5,624.2 188.7,621.5 C192.9,618.8 197.5,617.3 201.9,616.0 C206.3,614.7 210.6,614.1 215.0,613.5 C219.4,612.9 224.6,612.0 228.3,612.3 C232.1,612.5 235.8,613.0 237.5,615.0 C239.2,617.0 238.7,620.3 238.4,624.0 C238.1,627.7 236.4,633.4 235.5,637.0 C234.6,640.6 233.9,642.4 232.7,645.7 C231.5,649.0 230.1,653.0 228.3,656.7 C226.5,660.4 223.3,664.0 221.7,667.7 C220.0,671.4 219.1,675.8 218.4,678.7 C217.7,681.6 219.2,683.8 217.3,685.3 C215.4,686.8 210.7,687.1 207.0,687.5 C203.3,687.9 200.5,688.4 195.3,687.8 C190.1,687.1 180.7,685.1 175.6,683.6 C170.5,682.1 166.5,680.1 164.5,678.5 C162.5,676.9 163.4,676.2 163.8,674.0 C164.2,671.8 165.4,669.1 166.8,665.5 C168.2,661.9 170.8,656.7 172.3,652.3 C173.8,647.9 174.9,642.4 175.6,639.1 C176.3,635.8 174.5,635.4 176.7,632.5Z" fill="url(#g5)"/><path d="M176.7,632.5 C178.9,629.6 184.5,624.2 188.7,621.5 C192.9,618.8 197.5,617.3 201.9,616.0 C206.3,614.7 210.6,614.1 215.0,613.5 C219.4,612.9 224.6,612.0 228.3,612.3 C232.1,612.5 235.8,613.0 237.5,615.0 C239.2,617.0 238.7,620.3 238.4,624.0 C238.1,627.7 236.4,633.4 235.5,637.0 C234.6,640.6 233.9,642.4 232.7,645.7 C231.5,649.0 230.1,653.0 228.3,656.7 C226.5,660.4 223.3,664.0 221.7,667.7 C220.0,671.4 219.1,675.8 218.4,678.7 C217.7,681.6 219.2,683.8 217.3,685.3 C215.4,686.8 210.7,687.1 207.0,687.5 C203.3,687.9 200.5,688.4 195.3,687.8 C190.1,687.1 180.7,685.1 175.6,683.6 C170.5,682.1 166.5,680.1 164.5,678.5 C162.5,676.9 163.4,676.2 163.8,674.0 C164.2,671.8 165.4,669.1 166.8,665.5 C168.2,661.9 170.8,656.7 172.3,652.3 C173.8,647.9 174.9,642.4 175.6,639.1 C176.3,635.8 174.5,635.4 176.7,632.5Z" fill="#000" filter="url(#spw2)"/><path d="M201.9,700.7 C204.1,700.4 206.8,700.0 206.3,700.9 C205.8,701.8 200.8,704.1 199.0,706.0 C197.2,707.9 196.0,709.5 195.6,712.0 C195.2,714.5 194.9,717.4 196.3,721.0 C197.7,724.6 201.5,728.6 204.1,733.6 C206.7,738.6 210.0,745.3 211.8,751.2 C213.6,757.1 214.6,763.7 215.1,768.8 C215.6,773.9 215.8,778.6 214.6,782.0 C213.4,785.4 210.1,787.2 208.0,789.0 C205.9,790.8 204.8,791.7 201.9,792.5 C199.1,793.3 196.0,794.9 190.9,794.0 C185.8,793.1 175.9,791.2 171.2,787.4 C166.4,783.6 165.0,777.4 162.4,771.0 C159.8,764.6 157.1,754.9 155.8,749.0 C154.5,743.1 153.6,740.2 154.7,735.8 C155.8,731.4 158.2,727.0 162.4,722.6 C166.6,718.2 174.9,712.8 180.0,709.5 C185.1,706.2 189.4,704.4 193.1,702.9 C196.8,701.4 199.7,701.0 201.9,700.7Z" fill="url(#g6)"/><path d="M201.9,700.7 C204.1,700.4 206.8,700.0 206.3,700.9 C205.8,701.8 200.8,704.1 199.0,706.0 C197.2,707.9 196.0,709.5 195.6,712.0 C195.2,714.5 194.9,717.4 196.3,721.0 C197.7,724.6 201.5,728.6 204.1,733.6 C206.7,738.6 210.0,745.3 211.8,751.2 C213.6,757.1 214.6,763.7 215.1,768.8 C215.6,773.9 215.8,778.6 214.6,782.0 C213.4,785.4 210.1,787.2 208.0,789.0 C205.9,790.8 204.8,791.7 201.9,792.5 C199.1,793.3 196.0,794.9 190.9,794.0 C185.8,793.1 175.9,791.2 171.2,787.4 C166.4,783.6 165.0,777.4 162.4,771.0 C159.8,764.6 157.1,754.9 155.8,749.0 C154.5,743.1 153.6,740.2 154.7,735.8 C155.8,731.4 158.2,727.0 162.4,722.6 C166.6,718.2 174.9,712.8 180.0,709.5 C185.1,706.2 189.4,704.4 193.1,702.9 C196.8,701.4 199.7,701.0 201.9,700.7Z" fill="#000" filter="url(#spw2)"/><path d="M321.7,694.0 C323.2,693.9 324.7,696.0 326.0,697.5 C327.3,699.0 328.8,701.2 329.5,703.0 C330.2,704.8 330.7,706.5 330.5,708.5 C330.3,710.5 329.6,713.0 328.5,715.0 C327.4,717.0 325.7,718.9 324.0,720.5 C322.3,722.1 320.2,724.2 318.4,724.5 C316.6,724.8 314.5,723.5 313.0,722.5 C311.5,721.5 310.0,720.5 309.6,718.7 C309.2,717.0 309.9,714.3 310.5,712.0 C311.1,709.7 311.9,707.3 313.0,705.0 C314.1,702.7 315.6,699.8 317.0,698.0 C318.4,696.2 320.2,694.1 321.7,694.0Z" fill="#2b50a5"/></g>
<rect x="756.8" y="569.6" width="201.9" height="230.1" fill="none" stroke="#555" stroke-width="1.7"/>
<g transform="translate(604,0)"><path d="M176.7,632.5 C178.9,629.6 184.5,624.2 188.7,621.5 C192.9,618.8 197.5,617.3 201.9,616.0 C206.3,614.7 210.6,614.1 215.0,613.5 C219.4,612.9 224.6,612.0 228.3,612.3 C232.1,612.5 235.8,613.0 237.5,615.0 C239.2,617.0 238.7,620.3 238.4,624.0 C238.1,627.7 236.4,633.4 235.5,637.0 C234.6,640.6 233.9,642.4 232.7,645.7 C231.5,649.0 230.1,653.0 228.3,656.7 C226.5,660.4 223.3,664.0 221.7,667.7 C220.0,671.4 219.1,675.8 218.4,678.7 C217.7,681.6 219.2,683.8 217.3,685.3 C215.4,686.8 210.7,687.1 207.0,687.5 C203.3,687.9 200.5,688.4 195.3,687.8 C190.1,687.1 180.7,685.1 175.6,683.6 C170.5,682.1 166.5,680.1 164.5,678.5 C162.5,676.9 163.4,676.2 163.8,674.0 C164.2,671.8 165.4,669.1 166.8,665.5 C168.2,661.9 170.8,656.7 172.3,652.3 C173.8,647.9 174.9,642.4 175.6,639.1 C176.3,635.8 174.5,635.4 176.7,632.5Z" fill="url(#g7)"/><path d="M176.7,632.5 C178.9,629.6 184.5,624.2 188.7,621.5 C192.9,618.8 197.5,617.3 201.9,616.0 C206.3,614.7 210.6,614.1 215.0,613.5 C219.4,612.9 224.6,612.0 228.3,612.3 C232.1,612.5 235.8,613.0 237.5,615.0 C239.2,617.0 238.7,620.3 238.4,624.0 C238.1,627.7 236.4,633.4 235.5,637.0 C234.6,640.6 233.9,642.4 232.7,645.7 C231.5,649.0 230.1,653.0 228.3,656.7 C226.5,660.4 223.3,664.0 221.7,667.7 C220.0,671.4 219.1,675.8 218.4,678.7 C217.7,681.6 219.2,683.8 217.3,685.3 C215.4,686.8 210.7,687.1 207.0,687.5 C203.3,687.9 200.5,688.4 195.3,687.8 C190.1,687.1 180.7,685.1 175.6,683.6 C170.5,682.1 166.5,680.1 164.5,678.5 C162.5,676.9 163.4,676.2 163.8,674.0 C164.2,671.8 165.4,669.1 166.8,665.5 C168.2,661.9 170.8,656.7 172.3,652.3 C173.8,647.9 174.9,642.4 175.6,639.1 C176.3,635.8 174.5,635.4 176.7,632.5Z" fill="#000" filter="url(#spw2)"/><path d="M201.9,700.7 C204.1,700.4 206.8,700.0 206.3,700.9 C205.8,701.8 200.8,704.1 199.0,706.0 C197.2,707.9 196.0,709.5 195.6,712.0 C195.2,714.5 194.9,717.4 196.3,721.0 C197.7,724.6 201.5,728.6 204.1,733.6 C206.7,738.6 210.0,745.3 211.8,751.2 C213.6,757.1 214.6,763.7 215.1,768.8 C215.6,773.9 215.8,778.6 214.6,782.0 C213.4,785.4 210.1,787.2 208.0,789.0 C205.9,790.8 204.8,791.7 201.9,792.5 C199.1,793.3 196.0,794.9 190.9,794.0 C185.8,793.1 175.9,791.2 171.2,787.4 C166.4,783.6 165.0,777.4 162.4,771.0 C159.8,764.6 157.1,754.9 155.8,749.0 C154.5,743.1 153.6,740.2 154.7,735.8 C155.8,731.4 158.2,727.0 162.4,722.6 C166.6,718.2 174.9,712.8 180.0,709.5 C185.1,706.2 189.4,704.4 193.1,702.9 C196.8,701.4 199.7,701.0 201.9,700.7Z" fill="#2f52a6"/><path d="M201.9,700.7 C204.1,700.4 206.8,700.0 206.3,700.9 C205.8,701.8 200.8,704.1 199.0,706.0 C197.2,707.9 196.0,709.5 195.6,712.0 C195.2,714.5 194.9,717.4 196.3,721.0 C197.7,724.6 201.5,728.6 204.1,733.6 C206.7,738.6 210.0,745.3 211.8,751.2 C213.6,757.1 214.6,763.7 215.1,768.8 C215.6,773.9 215.8,778.6 214.6,782.0 C213.4,785.4 210.1,787.2 208.0,789.0 C205.9,790.8 204.8,791.7 201.9,792.5 C199.1,793.3 196.0,794.9 190.9,794.0 C185.8,793.1 175.9,791.2 171.2,787.4 C166.4,783.6 165.0,777.4 162.4,771.0 C159.8,764.6 157.1,754.9 155.8,749.0 C154.5,743.1 153.6,740.2 154.7,735.8 C155.8,731.4 158.2,727.0 162.4,722.6 C166.6,718.2 174.9,712.8 180.0,709.5 C185.1,706.2 189.4,704.4 193.1,702.9 C196.8,701.4 199.7,701.0 201.9,700.7Z" fill="#000" filter="url(#spw2)"/><path d="M321.7,694.0 C323.2,693.9 324.7,696.0 326.0,697.5 C327.3,699.0 328.8,701.2 329.5,703.0 C330.2,704.8 330.7,706.5 330.5,708.5 C330.3,710.5 329.6,713.0 328.5,715.0 C327.4,717.0 325.7,718.9 324.0,720.5 C322.3,722.1 320.2,724.2 318.4,724.5 C316.6,724.8 314.5,723.5 313.0,722.5 C311.5,721.5 310.0,720.5 309.6,718.7 C309.2,717.0 309.9,714.3 310.5,712.0 C311.1,709.7 311.9,707.3 313.0,705.0 C314.1,702.7 315.6,699.8 317.0,698.0 C318.4,696.2 320.2,694.1 321.7,694.0Z" fill="url(#g8)"/></g>
<rect x="137.9" y="804.0" width="203.3" height="229.8" fill="none" stroke="#555" stroke-width="1.7"/>
<g transform="translate(0,231.5)"><path d="M176.7,632.5 C178.9,629.6 184.5,624.2 188.7,621.5 C192.9,618.8 197.5,617.3 201.9,616.0 C206.3,614.7 210.6,614.1 215.0,613.5 C219.4,612.9 224.6,612.0 228.3,612.3 C232.1,612.5 235.8,613.0 237.5,615.0 C239.2,617.0 238.7,620.3 238.4,624.0 C238.1,627.7 236.4,633.4 235.5,637.0 C234.6,640.6 233.9,642.4 232.7,645.7 C231.5,649.0 230.1,653.0 228.3,656.7 C226.5,660.4 223.3,664.0 221.7,667.7 C220.0,671.4 219.1,675.8 218.4,678.7 C217.7,681.6 219.2,683.8 217.3,685.3 C215.4,686.8 210.7,687.1 207.0,687.5 C203.3,687.9 200.5,688.4 195.3,687.8 C190.1,687.1 180.7,685.1 175.6,683.6 C170.5,682.1 166.5,680.1 164.5,678.5 C162.5,676.9 163.4,676.2 163.8,674.0 C164.2,671.8 165.4,669.1 166.8,665.5 C168.2,661.9 170.8,656.7 172.3,652.3 C173.8,647.9 174.9,642.4 175.6,639.1 C176.3,635.8 174.5,635.4 176.7,632.5Z" fill="url(#g9)"/><path d="M176.7,632.5 C178.9,629.6 184.5,624.2 188.7,621.5 C192.9,618.8 197.5,617.3 201.9,616.0 C206.3,614.7 210.6,614.1 215.0,613.5 C219.4,612.9 224.6,612.0 228.3,612.3 C232.1,612.5 235.8,613.0 237.5,615.0 C239.2,617.0 238.7,620.3 238.4,624.0 C238.1,627.7 236.4,633.4 235.5,637.0 C234.6,640.6 233.9,642.4 232.7,645.7 C231.5,649.0 230.1,653.0 228.3,656.7 C226.5,660.4 223.3,664.0 221.7,667.7 C220.0,671.4 219.1,675.8 218.4,678.7 C217.7,681.6 219.2,683.8 217.3,685.3 C215.4,686.8 210.7,687.1 207.0,687.5 C203.3,687.9 200.5,688.4 195.3,687.8 C190.1,687.1 180.7,685.1 175.6,683.6 C170.5,682.1 166.5,680.1 164.5,678.5 C162.5,676.9 163.4,676.2 163.8,674.0 C164.2,671.8 165.4,669.1 166.8,665.5 C168.2,661.9 170.8,656.7 172.3,652.3 C173.8,647.9 174.9,642.4 175.6,639.1 C176.3,635.8 174.5,635.4 176.7,632.5Z" fill="#000" filter="url(#spw2)"/><path d="M201.9,700.7 C204.1,700.4 206.8,700.0 206.3,700.9 C205.8,701.8 200.8,704.1 199.0,706.0 C197.2,707.9 196.0,709.5 195.6,712.0 C195.2,714.5 194.9,717.4 196.3,721.0 C197.7,724.6 201.5,728.6 204.1,733.6 C206.7,738.6 210.0,745.3 211.8,751.2 C213.6,757.1 214.6,763.7 215.1,768.8 C215.6,773.9 215.8,778.6 214.6,782.0 C213.4,785.4 210.1,787.2 208.0,789.0 C205.9,790.8 204.8,791.7 201.9,792.5 C199.1,793.3 196.0,794.9 190.9,794.0 C185.8,793.1 175.9,791.2 171.2,787.4 C166.4,783.6 165.0,777.4 162.4,771.0 C159.8,764.6 157.1,754.9 155.8,749.0 C154.5,743.1 153.6,740.2 154.7,735.8 C155.8,731.4 158.2,727.0 162.4,722.6 C166.6,718.2 174.9,712.8 180.0,709.5 C185.1,706.2 189.4,704.4 193.1,702.9 C196.8,701.4 199.7,701.0 201.9,700.7Z" fill="url(#g10)"/><path d="M201.9,700.7 C204.1,700.4 206.8,700.0 206.3,700.9 C205.8,701.8 200.8,704.1 199.0,706.0 C197.2,707.9 196.0,709.5 195.6,712.0 C195.2,714.5 194.9,717.4 196.3,721.0 C197.7,724.6 201.5,728.6 204.1,733.6 C206.7,738.6 210.0,745.3 211.8,751.2 C213.6,757.1 214.6,763.7 215.1,768.8 C215.6,773.9 215.8,778.6 214.6,782.0 C213.4,785.4 210.1,787.2 208.0,789.0 C205.9,790.8 204.8,791.7 201.9,792.5 C199.1,793.3 196.0,794.9 190.9,794.0 C185.8,793.1 175.9,791.2 171.2,787.4 C166.4,783.6 165.0,777.4 162.4,771.0 C159.8,764.6 157.1,754.9 155.8,749.0 C154.5,743.1 153.6,740.2 154.7,735.8 C155.8,731.4 158.2,727.0 162.4,722.6 C166.6,718.2 174.9,712.8 180.0,709.5 C185.1,706.2 189.4,704.4 193.1,702.9 C196.8,701.4 199.7,701.0 201.9,700.7Z" fill="#000" filter="url(#spw2)"/><path d="M321.7,694.0 C323.2,693.9 324.7,696.0 326.0,697.5 C327.3,699.0 328.8,701.2 329.5,703.0 C330.2,704.8 330.7,706.5 330.5,708.5 C330.3,710.5 329.6,713.0 328.5,715.0 C327.4,717.0 325.7,718.9 324.0,720.5 C322.3,722.1 320.2,724.2 318.4,724.5 C316.6,724.8 314.5,723.5 313.0,722.5 C311.5,721.5 310.0,720.5 309.6,718.7 C309.2,717.0 309.9,714.3 310.5,712.0 C311.1,709.7 311.9,707.3 313.0,705.0 C314.1,702.7 315.6,699.8 317.0,698.0 C318.4,696.2 320.2,694.1 321.7,694.0Z" fill="url(#g11)"/></g>
<rect x="343.1" y="804.0" width="202.9" height="229.8" fill="none" stroke="#555" stroke-width="1.7"/>
<g transform="translate(201.5,231.5)"><path d="M176.7,632.5 C178.9,629.6 184.5,624.2 188.7,621.5 C192.9,618.8 197.5,617.3 201.9,616.0 C206.3,614.7 210.6,614.1 215.0,613.5 C219.4,612.9 224.6,612.0 228.3,612.3 C232.1,612.5 235.8,613.0 237.5,615.0 C239.2,617.0 238.7,620.3 238.4,624.0 C238.1,627.7 236.4,633.4 235.5,637.0 C234.6,640.6 233.9,642.4 232.7,645.7 C231.5,649.0 230.1,653.0 228.3,656.7 C226.5,660.4 223.3,664.0 221.7,667.7 C220.0,671.4 219.1,675.8 218.4,678.7 C217.7,681.6 219.2,683.8 217.3,685.3 C215.4,686.8 210.7,687.1 207.0,687.5 C203.3,687.9 200.5,688.4 195.3,687.8 C190.1,687.1 180.7,685.1 175.6,683.6 C170.5,682.1 166.5,680.1 164.5,678.5 C162.5,676.9 163.4,676.2 163.8,674.0 C164.2,671.8 165.4,669.1 166.8,665.5 C168.2,661.9 170.8,656.7 172.3,652.3 C173.8,647.9 174.9,642.4 175.6,639.1 C176.3,635.8 174.5,635.4 176.7,632.5Z" fill="url(#g12)"/><path d="M176.7,632.5 C178.9,629.6 184.5,624.2 188.7,621.5 C192.9,618.8 197.5,617.3 201.9,616.0 C206.3,614.7 210.6,614.1 215.0,613.5 C219.4,612.9 224.6,612.0 228.3,612.3 C232.1,612.5 235.8,613.0 237.5,615.0 C239.2,617.0 238.7,620.3 238.4,624.0 C238.1,627.7 236.4,633.4 235.5,637.0 C234.6,640.6 233.9,642.4 232.7,645.7 C231.5,649.0 230.1,653.0 228.3,656.7 C226.5,660.4 223.3,664.0 221.7,667.7 C220.0,671.4 219.1,675.8 218.4,678.7 C217.7,681.6 219.2,683.8 217.3,685.3 C215.4,686.8 210.7,687.1 207.0,687.5 C203.3,687.9 200.5,688.4 195.3,687.8 C190.1,687.1 180.7,685.1 175.6,683.6 C170.5,682.1 166.5,680.1 164.5,678.5 C162.5,676.9 163.4,676.2 163.8,674.0 C164.2,671.8 165.4,669.1 166.8,665.5 C168.2,661.9 170.8,656.7 172.3,652.3 C173.8,647.9 174.9,642.4 175.6,639.1 C176.3,635.8 174.5,635.4 176.7,632.5Z" fill="#000" filter="url(#spw2)"/><path d="M176.7,632.5 C178.9,629.6 184.5,624.2 188.7,621.5 C192.9,618.8 197.5,617.3 201.9,616.0 C206.3,614.7 210.6,614.1 215.0,613.5 C219.4,612.9 224.6,612.0 228.3,612.3 C232.1,612.5 235.8,613.0 237.5,615.0 C239.2,617.0 238.7,620.3 238.4,624.0 C238.1,627.7 236.4,633.4 235.5,637.0 C234.6,640.6 233.9,642.4 232.7,645.7 C231.5,649.0 230.1,653.0 228.3,656.7 C226.5,660.4 223.3,664.0 221.7,667.7 C220.0,671.4 219.1,675.8 218.4,678.7 C217.7,681.6 219.2,683.8 217.3,685.3 C215.4,686.8 210.7,687.1 207.0,687.5 C203.3,687.9 200.5,688.4 195.3,687.8 C190.1,687.1 180.7,685.1 175.6,683.6 C170.5,682.1 166.5,680.1 164.5,678.5 C162.5,676.9 163.4,676.2 163.8,674.0 C164.2,671.8 165.4,669.1 166.8,665.5 C168.2,661.9 170.8,656.7 172.3,652.3 C173.8,647.9 174.9,642.4 175.6,639.1 C176.3,635.8 174.5,635.4 176.7,632.5Z" fill="#000" filter="url(#spb2)"/><path d="M201.9,700.7 C204.1,700.4 206.8,700.0 206.3,700.9 C205.8,701.8 200.8,704.1 199.0,706.0 C197.2,707.9 196.0,709.5 195.6,712.0 C195.2,714.5 194.9,717.4 196.3,721.0 C197.7,724.6 201.5,728.6 204.1,733.6 C206.7,738.6 210.0,745.3 211.8,751.2 C213.6,757.1 214.6,763.7 215.1,768.8 C215.6,773.9 215.8,778.6 214.6,782.0 C213.4,785.4 210.1,787.2 208.0,789.0 C205.9,790.8 204.8,791.7 201.9,792.5 C199.1,793.3 196.0,794.9 190.9,794.0 C185.8,793.1 175.9,791.2 171.2,787.4 C166.4,783.6 165.0,777.4 162.4,771.0 C159.8,764.6 157.1,754.9 155.8,749.0 C154.5,743.1 153.6,740.2 154.7,735.8 C155.8,731.4 158.2,727.0 162.4,722.6 C166.6,718.2 174.9,712.8 180.0,709.5 C185.1,706.2 189.4,704.4 193.1,702.9 C196.8,701.4 199.7,701.0 201.9,700.7Z" fill="url(#g13)"/><path d="M201.9,700.7 C204.1,700.4 206.8,700.0 206.3,700.9 C205.8,701.8 200.8,704.1 199.0,706.0 C197.2,707.9 196.0,709.5 195.6,712.0 C195.2,714.5 194.9,717.4 196.3,721.0 C197.7,724.6 201.5,728.6 204.1,733.6 C206.7,738.6 210.0,745.3 211.8,751.2 C213.6,757.1 214.6,763.7 215.1,768.8 C215.6,773.9 215.8,778.6 214.6,782.0 C213.4,785.4 210.1,787.2 208.0,789.0 C205.9,790.8 204.8,791.7 201.9,792.5 C199.1,793.3 196.0,794.9 190.9,794.0 C185.8,793.1 175.9,791.2 171.2,787.4 C166.4,783.6 165.0,777.4 162.4,771.0 C159.8,764.6 157.1,754.9 155.8,749.0 C154.5,743.1 153.6,740.2 154.7,735.8 C155.8,731.4 158.2,727.0 162.4,722.6 C166.6,718.2 174.9,712.8 180.0,709.5 C185.1,706.2 189.4,704.4 193.1,702.9 C196.8,701.4 199.7,701.0 201.9,700.7Z" fill="#000" filter="url(#spw2)"/><path d="M321.7,694.0 C323.2,693.9 324.7,696.0 326.0,697.5 C327.3,699.0 328.8,701.2 329.5,703.0 C330.2,704.8 330.7,706.5 330.5,708.5 C330.3,710.5 329.6,713.0 328.5,715.0 C327.4,717.0 325.7,718.9 324.0,720.5 C322.3,722.1 320.2,724.2 318.4,724.5 C316.6,724.8 314.5,723.5 313.0,722.5 C311.5,721.5 310.0,720.5 309.6,718.7 C309.2,717.0 309.9,714.3 310.5,712.0 C311.1,709.7 311.9,707.3 313.0,705.0 C314.1,702.7 315.6,699.8 317.0,698.0 C318.4,696.2 320.2,694.1 321.7,694.0Z" fill="#2b50a5"/></g>
<rect x="549.9" y="804.0" width="202.5" height="229.8" fill="none" stroke="#555" stroke-width="1.7"/>
<g transform="translate(403,231.5)"><path d="M176.7,632.5 C178.9,629.6 184.5,624.2 188.7,621.5 C192.9,618.8 197.5,617.3 201.9,616.0 C206.3,614.7 210.6,614.1 215.0,613.5 C219.4,612.9 224.6,612.0 228.3,612.3 C232.1,612.5 235.8,613.0 237.5,615.0 C239.2,617.0 238.7,620.3 238.4,624.0 C238.1,627.7 236.4,633.4 235.5,637.0 C234.6,640.6 233.9,642.4 232.7,645.7 C231.5,649.0 230.1,653.0 228.3,656.7 C226.5,660.4 223.3,664.0 221.7,667.7 C220.0,671.4 219.1,675.8 218.4,678.7 C217.7,681.6 219.2,683.8 217.3,685.3 C215.4,686.8 210.7,687.1 207.0,687.5 C203.3,687.9 200.5,688.4 195.3,687.8 C190.1,687.1 180.7,685.1 175.6,683.6 C170.5,682.1 166.5,680.1 164.5,678.5 C162.5,676.9 163.4,676.2 163.8,674.0 C164.2,671.8 165.4,669.1 166.8,665.5 C168.2,661.9 170.8,656.7 172.3,652.3 C173.8,647.9 174.9,642.4 175.6,639.1 C176.3,635.8 174.5,635.4 176.7,632.5Z" fill="url(#g14)"/><path d="M176.7,632.5 C178.9,629.6 184.5,624.2 188.7,621.5 C192.9,618.8 197.5,617.3 201.9,616.0 C206.3,614.7 210.6,614.1 215.0,613.5 C219.4,612.9 224.6,612.0 228.3,612.3 C232.1,612.5 235.8,613.0 237.5,615.0 C239.2,617.0 238.7,620.3 238.4,624.0 C238.1,627.7 236.4,633.4 235.5,637.0 C234.6,640.6 233.9,642.4 232.7,645.7 C231.5,649.0 230.1,653.0 228.3,656.7 C226.5,660.4 223.3,664.0 221.7,667.7 C220.0,671.4 219.1,675.8 218.4,678.7 C217.7,681.6 219.2,683.8 217.3,685.3 C215.4,686.8 210.7,687.1 207.0,687.5 C203.3,687.9 200.5,688.4 195.3,687.8 C190.1,687.1 180.7,685.1 175.6,683.6 C170.5,682.1 166.5,680.1 164.5,678.5 C162.5,676.9 163.4,676.2 163.8,674.0 C164.2,671.8 165.4,669.1 166.8,665.5 C168.2,661.9 170.8,656.7 172.3,652.3 C173.8,647.9 174.9,642.4 175.6,639.1 C176.3,635.8 174.5,635.4 176.7,632.5Z" fill="#000" filter="url(#spw2)"/><path d="M201.9,700.7 C204.1,700.4 206.8,700.0 206.3,700.9 C205.8,701.8 200.8,704.1 199.0,706.0 C197.2,707.9 196.0,709.5 195.6,712.0 C195.2,714.5 194.9,717.4 196.3,721.0 C197.7,724.6 201.5,728.6 204.1,733.6 C206.7,738.6 210.0,745.3 211.8,751.2 C213.6,757.1 214.6,763.7 215.1,768.8 C215.6,773.9 215.8,778.6 214.6,782.0 C213.4,785.4 210.1,787.2 208.0,789.0 C205.9,790.8 204.8,791.7 201.9,792.5 C199.1,793.3 196.0,794.9 190.9,794.0 C185.8,793.1 175.9,791.2 171.2,787.4 C166.4,783.6 165.0,777.4 162.4,771.0 C159.8,764.6 157.1,754.9 155.8,749.0 C154.5,743.1 153.6,740.2 154.7,735.8 C155.8,731.4 158.2,727.0 162.4,722.6 C166.6,718.2 174.9,712.8 180.0,709.5 C185.1,706.2 189.4,704.4 193.1,702.9 C196.8,701.4 199.7,701.0 201.9,700.7Z" fill="url(#g15)"/><path d="M201.9,700.7 C204.1,700.4 206.8,700.0 206.3,700.9 C205.8,701.8 200.8,704.1 199.0,706.0 C197.2,707.9 196.0,709.5 195.6,712.0 C195.2,714.5 194.9,717.4 196.3,721.0 C197.7,724.6 201.5,728.6 204.1,733.6 C206.7,738.6 210.0,745.3 211.8,751.2 C213.6,757.1 214.6,763.7 215.1,768.8 C215.6,773.9 215.8,778.6 214.6,782.0 C213.4,785.4 210.1,787.2 208.0,789.0 C205.9,790.8 204.8,791.7 201.9,792.5 C199.1,793.3 196.0,794.9 190.9,794.0 C185.8,793.1 175.9,791.2 171.2,787.4 C166.4,783.6 165.0,777.4 162.4,771.0 C159.8,764.6 157.1,754.9 155.8,749.0 C154.5,743.1 153.6,740.2 154.7,735.8 C155.8,731.4 158.2,727.0 162.4,722.6 C166.6,718.2 174.9,712.8 180.0,709.5 C185.1,706.2 189.4,704.4 193.1,702.9 C196.8,701.4 199.7,701.0 201.9,700.7Z" fill="#000" filter="url(#spw2)"/><path d="M321.7,694.0 C323.2,693.9 324.7,696.0 326.0,697.5 C327.3,699.0 328.8,701.2 329.5,703.0 C330.2,704.8 330.7,706.5 330.5,708.5 C330.3,710.5 329.6,713.0 328.5,715.0 C327.4,717.0 325.7,718.9 324.0,720.5 C322.3,722.1 320.2,724.2 318.4,724.5 C316.6,724.8 314.5,723.5 313.0,722.5 C311.5,721.5 310.0,720.5 309.6,718.7 C309.2,717.0 309.9,714.3 310.5,712.0 C311.1,709.7 311.9,707.3 313.0,705.0 C314.1,702.7 315.6,699.8 317.0,698.0 C318.4,696.2 320.2,694.1 321.7,694.0Z" fill="#5f78bc"/><path d="M321.7,694.0 C323.2,693.9 324.7,696.0 326.0,697.5 C327.3,699.0 328.8,701.2 329.5,703.0 C330.2,704.8 330.7,706.5 330.5,708.5 C330.3,710.5 329.6,713.0 328.5,715.0 C327.4,717.0 325.7,718.9 324.0,720.5 C322.3,722.1 320.2,724.2 318.4,724.5 C316.6,724.8 314.5,723.5 313.0,722.5 C311.5,721.5 310.0,720.5 309.6,718.7 C309.2,717.0 309.9,714.3 310.5,712.0 C311.1,709.7 311.9,707.3 313.0,705.0 C314.1,702.7 315.6,699.8 317.0,698.0 C318.4,696.2 320.2,694.1 321.7,694.0Z" fill="#000" filter="url(#spw2)"/></g>
<rect x="756.8" y="804.0" width="201.9" height="229.8" fill="none" stroke="#555" stroke-width="1.7"/>
<g transform="translate(604,231.5)"><path d="M176.7,632.5 C178.9,629.6 184.5,624.2 188.7,621.5 C192.9,618.8 197.5,617.3 201.9,616.0 C206.3,614.7 210.6,614.1 215.0,613.5 C219.4,612.9 224.6,612.0 228.3,612.3 C232.1,612.5 235.8,613.0 237.5,615.0 C239.2,617.0 238.7,620.3 238.4,624.0 C238.1,627.7 236.4,633.4 235.5,637.0 C234.6,640.6 233.9,642.4 232.7,645.7 C231.5,649.0 230.1,653.0 228.3,656.7 C226.5,660.4 223.3,664.0 221.7,667.7 C220.0,671.4 219.1,675.8 218.4,678.7 C217.7,681.6 219.2,683.8 217.3,685.3 C215.4,686.8 210.7,687.1 207.0,687.5 C203.3,687.9 200.5,688.4 195.3,687.8 C190.1,687.1 180.7,685.1 175.6,683.6 C170.5,682.1 166.5,680.1 164.5,678.5 C162.5,676.9 163.4,676.2 163.8,674.0 C164.2,671.8 165.4,669.1 166.8,665.5 C168.2,661.9 170.8,656.7 172.3,652.3 C173.8,647.9 174.9,642.4 175.6,639.1 C176.3,635.8 174.5,635.4 176.7,632.5Z" fill="#4c60ac"/><path d="M176.7,632.5 C178.9,629.6 184.5,624.2 188.7,621.5 C192.9,618.8 197.5,617.3 201.9,616.0 C206.3,614.7 210.6,614.1 215.0,613.5 C219.4,612.9 224.6,612.0 228.3,612.3 C232.1,612.5 235.8,613.0 237.5,615.0 C239.2,617.0 238.7,620.3 238.4,624.0 C238.1,627.7 236.4,633.4 235.5,637.0 C234.6,640.6 233.9,642.4 232.7,645.7 C231.5,649.0 230.1,653.0 228.3,656.7 C226.5,660.4 223.3,664.0 221.7,667.7 C220.0,671.4 219.1,675.8 218.4,678.7 C217.7,681.6 219.2,683.8 217.3,685.3 C215.4,686.8 210.7,687.1 207.0,687.5 C203.3,687.9 200.5,688.4 195.3,687.8 C190.1,687.1 180.7,685.1 175.6,683.6 C170.5,682.1 166.5,680.1 164.5,678.5 C162.5,676.9 163.4,676.2 163.8,674.0 C164.2,671.8 165.4,669.1 166.8,665.5 C168.2,661.9 170.8,656.7 172.3,652.3 C173.8,647.9 174.9,642.4 175.6,639.1 C176.3,635.8 174.5,635.4 176.7,632.5Z" fill="#000" filter="url(#spw)"/><path d="M176.7,632.5 C178.9,629.6 184.5,624.2 188.7,621.5 C192.9,618.8 197.5,617.3 201.9,616.0 C206.3,614.7 210.6,614.1 215.0,613.5 C219.4,612.9 224.6,612.0 228.3,612.3 C232.1,612.5 235.8,613.0 237.5,615.0 C239.2,617.0 238.7,620.3 238.4,624.0 C238.1,627.7 236.4,633.4 235.5,637.0 C234.6,640.6 233.9,642.4 232.7,645.7 C231.5,649.0 230.1,653.0 228.3,656.7 C226.5,660.4 223.3,664.0 221.7,667.7 C220.0,671.4 219.1,675.8 218.4,678.7 C217.7,681.6 219.2,683.8 217.3,685.3 C215.4,686.8 210.7,687.1 207.0,687.5 C203.3,687.9 200.5,688.4 195.3,687.8 C190.1,687.1 180.7,685.1 175.6,683.6 C170.5,682.1 166.5,680.1 164.5,678.5 C162.5,676.9 163.4,676.2 163.8,674.0 C164.2,671.8 165.4,669.1 166.8,665.5 C168.2,661.9 170.8,656.7 172.3,652.3 C173.8,647.9 174.9,642.4 175.6,639.1 C176.3,635.8 174.5,635.4 176.7,632.5Z" fill="#000" filter="url(#spr2)"/><path d="M201.9,700.7 C204.1,700.4 206.8,700.0 206.3,700.9 C205.8,701.8 200.8,704.1 199.0,706.0 C197.2,707.9 196.0,709.5 195.6,712.0 C195.2,714.5 194.9,717.4 196.3,721.0 C197.7,724.6 201.5,728.6 204.1,733.6 C206.7,738.6 210.0,745.3 211.8,751.2 C213.6,757.1 214.6,763.7 215.1,768.8 C215.6,773.9 215.8,778.6 214.6,782.0 C213.4,785.4 210.1,787.2 208.0,789.0 C205.9,790.8 204.8,791.7 201.9,792.5 C199.1,793.3 196.0,794.9 190.9,794.0 C185.8,793.1 175.9,791.2 171.2,787.4 C166.4,783.6 165.0,777.4 162.4,771.0 C159.8,764.6 157.1,754.9 155.8,749.0 C154.5,743.1 153.6,740.2 154.7,735.8 C155.8,731.4 158.2,727.0 162.4,722.6 C166.6,718.2 174.9,712.8 180.0,709.5 C185.1,706.2 189.4,704.4 193.1,702.9 C196.8,701.4 199.7,701.0 201.9,700.7Z" fill="#3a57aa"/><path d="M201.9,700.7 C204.1,700.4 206.8,700.0 206.3,700.9 C205.8,701.8 200.8,704.1 199.0,706.0 C197.2,707.9 196.0,709.5 195.6,712.0 C195.2,714.5 194.9,717.4 196.3,721.0 C197.7,724.6 201.5,728.6 204.1,733.6 C206.7,738.6 210.0,745.3 211.8,751.2 C213.6,757.1 214.6,763.7 215.1,768.8 C215.6,773.9 215.8,778.6 214.6,782.0 C213.4,785.4 210.1,787.2 208.0,789.0 C205.9,790.8 204.8,791.7 201.9,792.5 C199.1,793.3 196.0,794.9 190.9,794.0 C185.8,793.1 175.9,791.2 171.2,787.4 C166.4,783.6 165.0,777.4 162.4,771.0 C159.8,764.6 157.1,754.9 155.8,749.0 C154.5,743.1 153.6,740.2 154.7,735.8 C155.8,731.4 158.2,727.0 162.4,722.6 C166.6,718.2 174.9,712.8 180.0,709.5 C185.1,706.2 189.4,704.4 193.1,702.9 C196.8,701.4 199.7,701.0 201.9,700.7Z" fill="#000" filter="url(#spw)"/><path d="M321.7,694.0 C323.2,693.9 324.7,696.0 326.0,697.5 C327.3,699.0 328.8,701.2 329.5,703.0 C330.2,704.8 330.7,706.5 330.5,708.5 C330.3,710.5 329.6,713.0 328.5,715.0 C327.4,717.0 325.7,718.9 324.0,720.5 C322.3,722.1 320.2,724.2 318.4,724.5 C316.6,724.8 314.5,723.5 313.0,722.5 C311.5,721.5 310.0,720.5 309.6,718.7 C309.2,717.0 309.9,714.3 310.5,712.0 C311.1,709.7 311.9,707.3 313.0,705.0 C314.1,702.7 315.6,699.8 317.0,698.0 C318.4,696.2 320.2,694.1 321.7,694.0Z" fill="#4862b0"/><path d="M321.7,694.0 C323.2,693.9 324.7,696.0 326.0,697.5 C327.3,699.0 328.8,701.2 329.5,703.0 C330.2,704.8 330.7,706.5 330.5,708.5 C330.3,710.5 329.6,713.0 328.5,715.0 C327.4,717.0 325.7,718.9 324.0,720.5 C322.3,722.1 320.2,724.2 318.4,724.5 C316.6,724.8 314.5,723.5 313.0,722.5 C311.5,721.5 310.0,720.5 309.6,718.7 C309.2,717.0 309.9,714.3 310.5,712.0 C311.1,709.7 311.9,707.3 313.0,705.0 C314.1,702.7 315.6,699.8 317.0,698.0 C318.4,696.2 320.2,694.1 321.7,694.0Z" fill="#000" filter="url(#spw)"/></g>
<line x1="116.3" y1="1056.5" x2="116.3" y2="949.0" stroke="#000" stroke-width="1.8"/>
<polygon points="116.3,937.0 110.5,950.0 122.0,950.0" fill="#000"/>
<line x1="115.4" y1="1055.6" x2="240.2" y2="1055.6" stroke="#000" stroke-width="1.8"/>
<polygon points="252.2,1055.6 239.2,1049.8 239.2,1061.3" fill="#000"/>
<rect x="1015.9" y="737.0" width="25.2" height="118.8" fill="url(#g16)"/>
<line x1="1016.0" y1="757.5" x2="1020.0" y2="757.5" stroke="#fff" stroke-width="1" stroke-opacity="0.7"/>
<line x1="1037.0" y1="757.5" x2="1041.0" y2="757.5" stroke="#fff" stroke-width="1" stroke-opacity="0.7"/>
<line x1="1016.0" y1="815.5" x2="1020.0" y2="815.5" stroke="#fff" stroke-width="1" stroke-opacity="0.7"/>
<line x1="1037.0" y1="815.5" x2="1041.0" y2="815.5" stroke="#fff" stroke-width="1" stroke-opacity="0.7"/>
<circle cx="1369.4" cy="582.1" r="7.5" fill="#d9958a" stroke="#111" stroke-width="2.6"/>
<circle cx="1449.3" cy="582.1" r="25.2" fill="#ec2b25" stroke="#111" stroke-width="2.6"/>
<circle cx="1528.9" cy="582.1" r="3.9" fill="#cda7a5" stroke="#111" stroke-width="2.6"/>
<circle cx="1597.8" cy="582.1" r="18.9" fill="#e06a5c" stroke="#111" stroke-width="2.6"/>
<circle cx="1671.1" cy="582.1" r="18.7" fill="#e06a5c" stroke="#111" stroke-width="2.6"/>
<circle cx="1745.5" cy="582.1" r="8.3" fill="#daa098" stroke="#111" stroke-width="2.6"/>
<circle cx="1819.6" cy="582.1" r="7.7" fill="#d8a09a" stroke="#111" stroke-width="2.6"/>
<circle cx="1887.7" cy="582.1" r="6.9" fill="#c9aaaa" stroke="#111" stroke-width="2.6"/>
<circle cx="1962.1" cy="582.1" r="4.7" fill="#d0a6a5" stroke="#111" stroke-width="2.6"/>
<circle cx="1369.4" cy="644.8" r="25.4" fill="#e84c3c" stroke="#111" stroke-width="2.6"/>
<circle cx="1449.3" cy="644.8" r="23.6" fill="#e65f4d" stroke="#111" stroke-width="2.6"/>
<circle cx="1528.9" cy="644.8" r="24.6" fill="#e6503e" stroke="#111" stroke-width="2.6"/>
<circle cx="1597.8" cy="644.8" r="18.9" fill="#e07262" stroke="#111" stroke-width="2.6"/>
<circle cx="1671.1" cy="644.8" r="7.7" fill="#c4aaaa" stroke="#111" stroke-width="2.6"/>
<circle cx="1745.5" cy="644.8" r="16.9" fill="#df7d70" stroke="#111" stroke-width="2.6"/>
<circle cx="1819.6" cy="644.8" r="15.7" fill="#dc8a80" stroke="#111" stroke-width="2.6"/>
<circle cx="1887.7" cy="644.8" r="11.0" fill="#cfa8a6" stroke="#111" stroke-width="2.6"/>
<circle cx="1962.1" cy="644.8" r="23.4" fill="#ea3a2e" stroke="#111" stroke-width="2.6"/>
<circle cx="1369.4" cy="707.0" r="25.4" fill="#e93a2e" stroke="#111" stroke-width="2.6"/>
<circle cx="1449.3" cy="707.0" r="18.7" fill="#df7868" stroke="#111" stroke-width="2.6"/>
<circle cx="1528.9" cy="707.0" r="25.0" fill="#eb2f26" stroke="#111" stroke-width="2.6"/>
<circle cx="1597.8" cy="707.0" r="3.1" fill="#c5aaaa" stroke="#111" stroke-width="2.6"/>
<circle cx="1671.1" cy="707.0" r="5.7" fill="#c5aaaa" stroke="#111" stroke-width="2.6"/>
<circle cx="1745.5" cy="707.0" r="25.2" fill="#ec2f27" stroke="#111" stroke-width="2.6"/>
<circle cx="1819.6" cy="707.0" r="21.4" fill="#e4604e" stroke="#111" stroke-width="2.6"/>
<circle cx="1887.7" cy="707.0" r="5.1" fill="#c5aaaa" stroke="#111" stroke-width="2.6"/>
<circle cx="1962.1" cy="707.0" r="24.8" fill="#eb2c27" stroke="#111" stroke-width="2.6"/>
<circle cx="1526.1" cy="960.6" r="8.3" fill="none" stroke="#111" stroke-width="2.4"/>
<circle cx="1526.1" cy="996" r="16.5" fill="none" stroke="#111" stroke-width="2.4"/>
<circle cx="1526.1" cy="1040.5" r="21.4" fill="none" stroke="#111" stroke-width="2.4"/>
<rect x="1682.5" y="942.8" width="25.6" height="119.4" fill="url(#g17)"/>
<line x1="1686.4" y1="952.7" x2="1692.3" y2="952.7" stroke="#fff" stroke-width="1" stroke-opacity="0.8"/>
<line x1="1686.4" y1="979.5" x2="1692.3" y2="979.5" stroke="#fff" stroke-width="1" stroke-opacity="0.8"/>
<line x1="1686.4" y1="1007.0" x2="1692.3" y2="1007.0" stroke="#fff" stroke-width="1" stroke-opacity="0.8"/>
<line x1="1686.4" y1="1034.2" x2="1692.3" y2="1034.2" stroke="#fff" stroke-width="1" stroke-opacity="0.8"/>
<line x1="198.9" y1="1303.5" x2="198.9" y2="1634.5" stroke="#111" stroke-width="1.8"/>
<line x1="198.0" y1="1633.7" x2="552.2" y2="1633.7" stroke="#111" stroke-width="1.8"/>
<path d="M232.5,1333.6 C236.2,1331.0 245.7,1327.8 253.7,1325.7 C261.7,1323.7 270.4,1322.6 280.5,1321.3 C290.6,1320.0 303.9,1317.7 314.0,1317.9 C324.1,1318.1 333.4,1320.7 340.9,1322.4 C348.3,1324.1 353.7,1326.5 358.7,1328.0 C363.7,1329.5 368.9,1329.1 371.0,1331.3 C373.1,1333.5 371.6,1338.8 371.0,1341.4 C370.4,1344.0 370.1,1346.1 367.7,1347.0 C365.3,1347.9 360.2,1346.5 356.5,1347.0 C352.8,1347.5 349.0,1347.9 345.3,1350.3 C341.6,1352.7 338.7,1355.9 334.2,1361.5 C329.7,1367.1 323.7,1376.0 318.5,1383.8 C313.3,1391.6 308.1,1401.0 302.9,1408.4 C297.7,1415.9 291.7,1422.5 287.2,1428.5 C282.7,1434.5 277.2,1439.7 276.1,1444.2 C275.0,1448.7 281.6,1452.0 280.5,1455.3 C279.4,1458.6 275.0,1464.3 269.4,1464.3 C263.8,1464.3 254.4,1460.1 247.0,1455.3 C239.6,1450.5 230.6,1442.3 224.7,1435.2 C218.8,1428.1 213.9,1420.4 211.3,1412.9 C208.7,1405.5 208.3,1396.8 209.0,1390.5 C209.7,1384.2 213.1,1380.5 215.7,1374.9 C218.3,1369.3 222.1,1362.6 224.7,1357.0 C227.3,1351.4 230.1,1345.3 231.4,1341.4 C232.7,1337.5 228.8,1336.2 232.5,1333.6Z" fill="#7a7fc0"/><path d="M232.5,1333.6 C236.2,1331.0 245.7,1327.8 253.7,1325.7 C261.7,1323.7 270.4,1322.6 280.5,1321.3 C290.6,1320.0 303.9,1317.7 314.0,1317.9 C324.1,1318.1 333.4,1320.7 340.9,1322.4 C348.3,1324.1 353.7,1326.5 358.7,1328.0 C363.7,1329.5 368.9,1329.1 371.0,1331.3 C373.1,1333.5 371.6,1338.8 371.0,1341.4 C370.4,1344.0 370.1,1346.1 367.7,1347.0 C365.3,1347.9 360.2,1346.5 356.5,1347.0 C352.8,1347.5 349.0,1347.9 345.3,1350.3 C341.6,1352.7 338.7,1355.9 334.2,1361.5 C329.7,1367.1 323.7,1376.0 318.5,1383.8 C313.3,1391.6 308.1,1401.0 302.9,1408.4 C297.7,1415.9 291.7,1422.5 287.2,1428.5 C282.7,1434.5 277.2,1439.7 276.1,1444.2 C275.0,1448.7 281.6,1452.0 280.5,1455.3 C279.4,1458.6 275.0,1464.3 269.4,1464.3 C263.8,1464.3 254.4,1460.1 247.0,1455.3 C239.6,1450.5 230.6,1442.3 224.7,1435.2 C218.8,1428.1 213.9,1420.4 211.3,1412.9 C208.7,1405.5 208.3,1396.8 209.0,1390.5 C209.7,1384.2 213.1,1380.5 215.7,1374.9 C218.3,1369.3 222.1,1362.6 224.7,1357.0 C227.3,1351.4 230.1,1345.3 231.4,1341.4 C232.7,1337.5 228.8,1336.2 232.5,1333.6Z" fill="url(#mixU)"/>
<path d="M276.0,1446.0 C280.4,1445.0 288.4,1454.9 296.2,1457.0 C304.0,1459.1 315.7,1457.2 323.0,1458.5 C330.3,1459.8 334.7,1462.1 340.0,1465.0 C345.3,1467.9 351.1,1472.4 355.0,1476.0 C358.9,1479.6 364.9,1485.3 363.2,1486.6 C361.5,1487.9 352.2,1486.4 345.0,1484.0 C337.8,1481.6 328.2,1474.3 320.0,1472.0 C311.8,1469.7 302.2,1470.9 296.0,1470.0 C289.8,1469.1 287.1,1467.7 282.8,1466.5 C278.5,1465.3 271.1,1466.4 270.0,1463.0 C268.9,1459.6 271.6,1447.0 276.0,1446.0Z" fill="#8a8cc8"/><path d="M276.0,1446.0 C280.4,1445.0 288.4,1454.9 296.2,1457.0 C304.0,1459.1 315.7,1457.2 323.0,1458.5 C330.3,1459.8 334.7,1462.1 340.0,1465.0 C345.3,1467.9 351.1,1472.4 355.0,1476.0 C358.9,1479.6 364.9,1485.3 363.2,1486.6 C361.5,1487.9 352.2,1486.4 345.0,1484.0 C337.8,1481.6 328.2,1474.3 320.0,1472.0 C311.8,1469.7 302.2,1470.9 296.0,1470.0 C289.8,1469.1 287.1,1467.7 282.8,1466.5 C278.5,1465.3 271.1,1466.4 270.0,1463.0 C268.9,1459.6 271.6,1447.0 276.0,1446.0Z" fill="url(#mixU)"/>
<path d="M363.2,1486.6 C370.2,1489.5 369.1,1495.9 372.1,1502.2 C375.1,1508.5 378.1,1515.3 381.1,1524.6 C384.1,1533.9 387.6,1546.9 390.0,1558.1 C392.4,1569.3 394.7,1581.9 395.6,1591.6 C396.5,1601.3 398.0,1610.6 395.6,1616.2 C393.2,1621.8 385.4,1622.9 381.1,1625.1 C376.8,1627.3 376.6,1629.6 369.9,1629.6 C363.2,1629.6 349.5,1627.3 340.9,1625.1 C332.3,1622.9 325.2,1620.7 318.5,1616.2 C311.8,1611.7 305.8,1604.3 300.6,1598.3 C295.4,1592.3 290.2,1585.6 287.2,1580.4 C284.2,1575.2 283.2,1570.7 282.8,1567.0 C282.4,1563.3 285.4,1563.3 285.0,1558.1 C284.6,1552.9 282.4,1543.2 280.5,1535.7 C278.6,1528.2 275.3,1519.0 273.8,1513.4 C272.3,1507.8 269.7,1505.2 271.6,1502.2 C273.5,1499.2 280.2,1498.1 285.0,1495.5 C289.8,1492.9 293.1,1488.3 300.6,1486.6 C308.1,1484.8 319.6,1485.0 330.0,1485.0 C340.4,1485.0 356.2,1483.7 363.2,1486.6Z" fill="#9a5fb2"/><path d="M363.2,1486.6 C370.2,1489.5 369.1,1495.9 372.1,1502.2 C375.1,1508.5 378.1,1515.3 381.1,1524.6 C384.1,1533.9 387.6,1546.9 390.0,1558.1 C392.4,1569.3 394.7,1581.9 395.6,1591.6 C396.5,1601.3 398.0,1610.6 395.6,1616.2 C393.2,1621.8 385.4,1622.9 381.1,1625.1 C376.8,1627.3 376.6,1629.6 369.9,1629.6 C363.2,1629.6 349.5,1627.3 340.9,1625.1 C332.3,1622.9 325.2,1620.7 318.5,1616.2 C311.8,1611.7 305.8,1604.3 300.6,1598.3 C295.4,1592.3 290.2,1585.6 287.2,1580.4 C284.2,1575.2 283.2,1570.7 282.8,1567.0 C282.4,1563.3 285.4,1563.3 285.0,1558.1 C284.6,1552.9 282.4,1543.2 280.5,1535.7 C278.6,1528.2 275.3,1519.0 273.8,1513.4 C272.3,1507.8 269.7,1505.2 271.6,1502.2 C273.5,1499.2 280.2,1498.1 285.0,1495.5 C289.8,1492.9 293.1,1488.3 300.6,1486.6 C308.1,1484.8 319.6,1485.0 330.0,1485.0 C340.4,1485.0 356.2,1483.7 363.2,1486.6Z" fill="url(#mixL)"/>
<path d="M504.0,1408.4 C506.6,1407.3 508.1,1408.0 512.9,1410.6 C517.7,1413.2 529.3,1419.9 533.0,1424.0 C536.7,1428.1 535.6,1430.7 535.2,1435.2 C534.8,1439.7 532.1,1447.0 530.8,1450.9 C529.5,1454.8 529.6,1458.7 527.4,1458.7 C525.2,1458.7 521.7,1455.9 517.4,1450.9 C513.1,1445.9 505.1,1434.1 501.7,1428.5 C498.3,1422.9 496.8,1420.6 497.2,1417.3 C497.6,1414.0 501.4,1409.5 504.0,1408.4Z" fill="#7a80c0"/><path d="M504.0,1408.4 C506.6,1407.3 508.1,1408.0 512.9,1410.6 C517.7,1413.2 529.3,1419.9 533.0,1424.0 C536.7,1428.1 535.6,1430.7 535.2,1435.2 C534.8,1439.7 532.1,1447.0 530.8,1450.9 C529.5,1454.8 529.6,1458.7 527.4,1458.7 C525.2,1458.7 521.7,1455.9 517.4,1450.9 C513.1,1445.9 505.1,1434.1 501.7,1428.5 C498.3,1422.9 496.8,1420.6 497.2,1417.3 C497.6,1414.0 501.4,1409.5 504.0,1408.4Z" fill="url(#mixU)"/>
<line x1="183.0" y1="1649.5" x2="183.0" y2="1538.3" stroke="#000" stroke-width="1.8"/>
<polygon points="183.0,1526.3 177.2,1539.3 188.8,1539.3" fill="#000"/>
<line x1="182.1" y1="1648.6" x2="309.4" y2="1648.6" stroke="#000" stroke-width="1.8"/>
<polygon points="321.4,1648.6 308.4,1642.8 308.4,1654.3" fill="#000"/>
<circle cx="682.5" cy="1310.6" r="10" fill="#1f6fb4" stroke="#111" stroke-width="1.6"/>
<circle cx="682.5" cy="1343.6" r="10" fill="#f6883a" stroke="#111" stroke-width="1.6"/>
<circle cx="682.5" cy="1376.7" r="10" fill="#2ca444" stroke="#111" stroke-width="1.6"/>
<circle cx="682.5" cy="1409.7" r="10" fill="#e22b26" stroke="#111" stroke-width="1.6"/>
<circle cx="682.5" cy="1442.7" r="10" fill="#aec8ec" stroke="#111" stroke-width="1.6"/>
<circle cx="682.5" cy="1475.8" r="10" fill="#8f4b43" stroke="#111" stroke-width="1.6"/>
<circle cx="682.5" cy="1508.8" r="10" fill="#b5bb35" stroke="#111" stroke-width="1.6"/>
<circle cx="682.5" cy="1541.8" r="10" fill="#b3bd37" stroke="#111" stroke-width="1.6"/>
<circle cx="682.5" cy="1574.8" r="10" fill="#1fb8cf" stroke="#111" stroke-width="1.6"/>
<circle cx="682.5" cy="1607.9" r="10" fill="#9a55b0" stroke="#111" stroke-width="1.6"/>
<line x1="663.0" y1="1304.7" x2="663.0" y2="1447.0" stroke="#111" stroke-width="1.6"/>
<line x1="663.5" y1="1464.8" x2="663.5" y2="1622.3" stroke="#111" stroke-width="1.6"/>
<rect x="1345.0" y="1216.9" width="38.3" height="19.9" fill="#21b2b6" stroke="#111" stroke-width="2"/>
<rect x="1483.7" y="1216.9" width="37.7" height="19.9" fill="#6ba744" stroke="#111" stroke-width="2"/>
<rect x="1627.2" y="1215.2" width="38.2" height="18.5" fill="#ee5f5c" stroke="#111" stroke-width="2"/>
<line x1="1281.5" y1="1273.2" x2="1281.5" y2="1624.5" stroke="#111" stroke-width="2"/>
<line x1="1267.3" y1="1623.6" x2="1835.2" y2="1623.6" stroke="#111" stroke-width="2"/>
<line x1="1266.8" y1="1274.0" x2="1281.5" y2="1274.0" stroke="#111" stroke-width="1.8"/>
<line x1="1273.2" y1="1361.4" x2="1281.5" y2="1361.4" stroke="#111" stroke-width="1.8"/>
<line x1="1266.8" y1="1448.8" x2="1281.5" y2="1448.8" stroke="#111" stroke-width="1.8"/>
<line x1="1273.2" y1="1536.2" x2="1281.5" y2="1536.2" stroke="#111" stroke-width="1.8"/>
<rect x="1301.2" y="1274.0" width="32.0" height="151.7" fill="#21b2b6" stroke="#111" stroke-width="2"/>
<rect x="1301.2" y="1425.8" width="32.0" height="177.2" fill="#6ba744" stroke="#111" stroke-width="2"/>
<rect x="1301.2" y="1603.0" width="32.0" height="20.6" fill="#ee5f5c" stroke="#111" stroke-width="2"/>
<line x1="1317.2" y1="1623.6" x2="1317.2" y2="1636.0" stroke="#111" stroke-width="1.8"/>
<rect x="1354.8" y="1274.0" width="32.0" height="159.0" fill="#21b2b6" stroke="#111" stroke-width="2"/>
<rect x="1354.8" y="1433.1" width="32.0" height="123.0" fill="#6ba744" stroke="#111" stroke-width="2"/>
<rect x="1354.8" y="1556.1" width="32.0" height="67.5" fill="#ee5f5c" stroke="#111" stroke-width="2"/>
<line x1="1370.8" y1="1623.6" x2="1370.8" y2="1636.0" stroke="#111" stroke-width="1.8"/>
<rect x="1408.4" y="1274.0" width="32.0" height="218.8" fill="#21b2b6" stroke="#111" stroke-width="2"/>
<rect x="1408.4" y="1492.9" width="32.0" height="115.7" fill="#6ba744" stroke="#111" stroke-width="2"/>
<rect x="1408.4" y="1608.6" width="32.0" height="15.0" fill="#ee5f5c" stroke="#111" stroke-width="2"/>
<line x1="1424.4" y1="1623.6" x2="1424.4" y2="1636.0" stroke="#111" stroke-width="1.8"/>
<rect x="1461.9" y="1274.0" width="32.0" height="123.7" fill="#21b2b6" stroke="#111" stroke-width="2"/>
<rect x="1461.9" y="1397.8" width="32.0" height="203.1" fill="#6ba744" stroke="#111" stroke-width="2"/>
<rect x="1461.9" y="1600.9" width="32.0" height="22.7" fill="#ee5f5c" stroke="#111" stroke-width="2"/>
<line x1="1477.9" y1="1623.6" x2="1477.9" y2="1636.0" stroke="#111" stroke-width="1.8"/>
<rect x="1515.5" y="1274.0" width="32.0" height="159.0" fill="#21b2b6" stroke="#111" stroke-width="2"/>
<rect x="1515.5" y="1433.1" width="32.0" height="165.3" fill="#6ba744" stroke="#111" stroke-width="2"/>
<rect x="1515.5" y="1598.4" width="32.0" height="25.2" fill="#ee5f5c" stroke="#111" stroke-width="2"/>
<line x1="1531.5" y1="1623.6" x2="1531.5" y2="1636.0" stroke="#111" stroke-width="1.8"/>
<rect x="1569.1" y="1274.0" width="32.0" height="305.5" fill="#21b2b6" stroke="#111" stroke-width="2"/>
<rect x="1569.1" y="1579.6" width="32.0" height="36.0" fill="#6ba744" stroke="#111" stroke-width="2"/>
<rect x="1569.1" y="1615.6" width="32.0" height="8.0" fill="#ee5f5c" stroke="#111" stroke-width="2"/>
<line x1="1585.1" y1="1623.6" x2="1585.1" y2="1636.0" stroke="#111" stroke-width="1.8"/>
<rect x="1622.7" y="1274.0" width="32.0" height="180.0" fill="#21b2b6" stroke="#111" stroke-width="2"/>
<rect x="1622.7" y="1454.1" width="32.0" height="144.0" fill="#6ba744" stroke="#111" stroke-width="2"/>
<rect x="1622.7" y="1598.1" width="32.0" height="25.5" fill="#ee5f5c" stroke="#111" stroke-width="2"/>
<line x1="1638.7" y1="1623.6" x2="1638.7" y2="1636.0" stroke="#111" stroke-width="1.8"/>
<rect x="1676.3" y="1274.0" width="32.0" height="225.5" fill="#21b2b6" stroke="#111" stroke-width="2"/>
<rect x="1676.3" y="1499.5" width="32.0" height="117.1" fill="#6ba744" stroke="#111" stroke-width="2"/>
<rect x="1676.3" y="1616.6" width="32.0" height="7.0" fill="#ee5f5c" stroke="#111" stroke-width="2"/>
<line x1="1692.3" y1="1623.6" x2="1692.3" y2="1636.0" stroke="#111" stroke-width="1.8"/>
<rect x="1729.8" y="1274.0" width="32.0" height="171.6" fill="#21b2b6" stroke="#111" stroke-width="2"/>
<rect x="1729.8" y="1445.7" width="32.0" height="159.7" fill="#6ba744" stroke="#111" stroke-width="2"/>
<rect x="1729.8" y="1605.4" width="32.0" height="18.2" fill="#ee5f5c" stroke="#111" stroke-width="2"/>
<line x1="1745.8" y1="1623.6" x2="1745.8" y2="1636.0" stroke="#111" stroke-width="1.8"/>
<rect x="1783.4" y="1274.0" width="32.0" height="79.0" fill="#21b2b6" stroke="#111" stroke-width="2"/>
<rect x="1783.4" y="1353.0" width="32.0" height="258.3" fill="#6ba744" stroke="#111" stroke-width="2"/>
<rect x="1783.4" y="1611.4" width="32.0" height="12.2" fill="#ee5f5c" stroke="#111" stroke-width="2"/>
<line x1="1799.4" y1="1623.6" x2="1799.4" y2="1636.0" stroke="#111" stroke-width="1.8"/>
<line x1="1317.9" y1="1662.8" x2="1534.8" y2="1662.8" stroke="#111" stroke-width="1.6"/>
<line x1="1583.3" y1="1662.8" x2="1800.2" y2="1662.8" stroke="#111" stroke-width="1.6"/>
<rect x="91.4" y="1881.0" width="164.1" height="289.7" fill="#b8e9ec"/>
<rect x="266.4" y="1881.0" width="164.3" height="289.7" fill="#d9e6c4"/>
<line x1="83.8" y1="1882.9" x2="83.8" y2="2171.7" stroke="#111" stroke-width="2.2"/>
<line x1="74.3" y1="2170.7" x2="83.8" y2="2170.7" stroke="#111" stroke-width="1.8"/>
<line x1="74.3" y1="2075.1" x2="83.8" y2="2075.1" stroke="#111" stroke-width="1.8"/>
<line x1="74.3" y1="1979.5" x2="83.8" y2="1979.5" stroke="#111" stroke-width="1.8"/>
<line x1="74.3" y1="1883.9" x2="83.8" y2="1883.9" stroke="#111" stroke-width="1.8"/>
<line x1="74.2" y1="2170.7" x2="253.0" y2="2170.7" stroke="#111" stroke-width="2.2"/>
<line x1="263.8" y1="2170.7" x2="433.2" y2="2170.7" stroke="#111" stroke-width="2.2"/>
<line x1="123.0" y1="2170.7" x2="123.0" y2="2180.2" stroke="#111" stroke-width="2"/>
<line x1="213.3" y1="2170.7" x2="213.3" y2="2180.2" stroke="#111" stroke-width="2"/>
<line x1="303.8" y1="2170.7" x2="303.8" y2="2180.2" stroke="#111" stroke-width="2"/>
<line x1="394.0" y1="2170.7" x2="394.0" y2="2180.2" stroke="#111" stroke-width="2"/>
<line x1="106.0" y1="2001.5" x2="106.0" y2="2004.4" stroke="#111" stroke-width="2.2"/>
<line x1="106.0" y1="2013.0" x2="106.0" y2="2013.0" stroke="#111" stroke-width="2.2"/>
<line x1="99.5" y1="2001.5" x2="112.5" y2="2001.5" stroke="#111" stroke-width="2.4"/>
<line x1="99.5" y1="2013.0" x2="112.5" y2="2013.0" stroke="#111" stroke-width="2.4"/>
<rect x="95.5" y="2004.4" width="21.0" height="8.6" fill="#3a3a3a" stroke="#111" stroke-width="2.4" fill-opacity="0.72"/>
<line x1="95.5" y1="2008.2" x2="116.5" y2="2008.2" stroke="#111" stroke-width="2.6"/>
<line x1="140.0" y1="1928.8" x2="140.0" y2="1932.7" stroke="#111" stroke-width="2.2"/>
<line x1="140.0" y1="1974.7" x2="140.0" y2="1987.1" stroke="#111" stroke-width="2.2"/>
<line x1="133.5" y1="1928.8" x2="146.5" y2="1928.8" stroke="#111" stroke-width="2.4"/>
<line x1="133.5" y1="1987.1" x2="146.5" y2="1987.1" stroke="#111" stroke-width="2.4"/>
<rect x="129.5" y="1932.7" width="21.0" height="42.1" fill="#f6efb0" stroke="#111" stroke-width="2.4"/>
<line x1="129.5" y1="1960.4" x2="150.5" y2="1960.4" stroke="#111" stroke-width="2.6"/>
<line x1="196.3" y1="2040.7" x2="196.3" y2="2051.2" stroke="#111" stroke-width="2.2"/>
<line x1="196.3" y1="2083.7" x2="196.3" y2="2093.3" stroke="#111" stroke-width="2.2"/>
<line x1="189.8" y1="2040.7" x2="202.8" y2="2040.7" stroke="#111" stroke-width="2.4"/>
<line x1="189.8" y1="2093.3" x2="202.8" y2="2093.3" stroke="#111" stroke-width="2.4"/>
<rect x="185.8" y="2051.2" width="21.0" height="32.5" fill="#3a3a3a" stroke="#111" stroke-width="2.4" fill-opacity="0.72"/>
<line x1="185.8" y1="2071.3" x2="206.8" y2="2071.3" stroke="#111" stroke-width="2.6"/>
<line x1="230.3" y1="1981.4" x2="230.3" y2="2007.2" stroke="#111" stroke-width="2.2"/>
<line x1="230.3" y1="2047.4" x2="230.3" y2="2052.2" stroke="#111" stroke-width="2.2"/>
<line x1="223.8" y1="1981.4" x2="236.8" y2="1981.4" stroke="#111" stroke-width="2.4"/>
<line x1="223.8" y1="2052.2" x2="236.8" y2="2052.2" stroke="#111" stroke-width="2.4"/>
<rect x="219.8" y="2007.2" width="21.0" height="40.2" fill="#f6efb0" stroke="#111" stroke-width="2.4"/>
<line x1="219.8" y1="2032.1" x2="240.8" y2="2032.1" stroke="#111" stroke-width="2.6"/>
<line x1="286.8" y1="1975.7" x2="286.8" y2="1978.5" stroke="#111" stroke-width="2.2"/>
<line x1="286.8" y1="2005.3" x2="286.8" y2="2008.2" stroke="#111" stroke-width="2.2"/>
<line x1="280.3" y1="1975.7" x2="293.3" y2="1975.7" stroke="#111" stroke-width="2.4"/>
<line x1="280.3" y1="2008.2" x2="293.3" y2="2008.2" stroke="#111" stroke-width="2.4"/>
<rect x="276.3" y="1978.5" width="21.0" height="26.8" fill="#3a3a3a" stroke="#111" stroke-width="2.4" fill-opacity="0.72"/>
<line x1="276.3" y1="1995.8" x2="297.3" y2="1995.8" stroke="#111" stroke-width="2.6"/>
<line x1="320.8" y1="1955.6" x2="320.8" y2="1959.4" stroke="#111" stroke-width="2.2"/>
<line x1="320.8" y1="1984.3" x2="320.8" y2="1987.1" stroke="#111" stroke-width="2.2"/>
<line x1="314.3" y1="1955.6" x2="327.3" y2="1955.6" stroke="#111" stroke-width="2.4"/>
<line x1="314.3" y1="1987.1" x2="327.3" y2="1987.1" stroke="#111" stroke-width="2.4"/>
<rect x="310.3" y="1959.4" width="21.0" height="24.9" fill="#f6efb0" stroke="#111" stroke-width="2.4"/>
<line x1="310.3" y1="1974.7" x2="331.3" y2="1974.7" stroke="#111" stroke-width="2.6"/>
<line x1="377.0" y1="2052.2" x2="377.0" y2="2059.8" stroke="#111" stroke-width="2.2"/>
<line x1="377.0" y1="2073.2" x2="377.0" y2="2073.2" stroke="#111" stroke-width="2.2"/>
<line x1="370.5" y1="2052.2" x2="383.5" y2="2052.2" stroke="#111" stroke-width="2.4"/>
<line x1="370.5" y1="2073.2" x2="383.5" y2="2073.2" stroke="#111" stroke-width="2.4"/>
<rect x="366.5" y="2059.8" width="21.0" height="13.4" fill="#3a3a3a" stroke="#111" stroke-width="2.4" fill-opacity="0.72"/>
<line x1="366.5" y1="2071.3" x2="387.5" y2="2071.3" stroke="#111" stroke-width="2.6"/>
<line x1="411.0" y1="2053.1" x2="411.0" y2="2055.0" stroke="#111" stroke-width="2.2"/>
<line x1="411.0" y1="2067.5" x2="411.0" y2="2071.3" stroke="#111" stroke-width="2.2"/>
<line x1="404.5" y1="2053.1" x2="417.5" y2="2053.1" stroke="#111" stroke-width="2.4"/>
<line x1="404.5" y1="2071.3" x2="417.5" y2="2071.3" stroke="#111" stroke-width="2.4"/>
<rect x="400.5" y="2055.0" width="21.0" height="12.4" fill="#f6efb0" stroke="#111" stroke-width="2.4"/>
<line x1="400.5" y1="2061.7" x2="421.5" y2="2061.7" stroke="#111" stroke-width="2.6"/>
<line x1="103.3" y1="1908.6" x2="140.0" y2="1908.6" stroke="#0c2226" stroke-width="1.8"/>
<line x1="193.0" y1="1908.6" x2="229.7" y2="1908.6" stroke="#0c2226" stroke-width="1.8"/>
<line x1="284.8" y1="1908.6" x2="321.5" y2="1908.6" stroke="#0c2226" stroke-width="1.8"/>
<rect x="500.2" y="1880.7" width="165.3" height="288.7" fill="#c8e8ea"/>
<rect x="676.9" y="1880.7" width="165.5" height="288.7" fill="#d6e2be"/>
<line x1="493.8" y1="1878.9" x2="493.8" y2="2170.4" stroke="#111" stroke-width="2.2"/>
<line x1="484.5" y1="2072.9" x2="493.8" y2="2072.9" stroke="#111" stroke-width="1.8"/>
<line x1="484.5" y1="1976.4" x2="493.8" y2="1976.4" stroke="#111" stroke-width="1.8"/>
<line x1="484.5" y1="1879.9" x2="493.8" y2="1879.9" stroke="#111" stroke-width="1.8"/>
<line x1="485.0" y1="2169.4" x2="665.7" y2="2169.4" stroke="#111" stroke-width="2.2"/>
<line x1="675.1" y1="2169.4" x2="845.7" y2="2169.4" stroke="#111" stroke-width="2.2"/>
<line x1="534.3" y1="2169.4" x2="534.3" y2="2178.9" stroke="#111" stroke-width="2"/>
<line x1="625.8" y1="2169.4" x2="625.8" y2="2178.9" stroke="#111" stroke-width="2"/>
<line x1="714.8" y1="2169.4" x2="714.8" y2="2178.9" stroke="#111" stroke-width="2"/>
<line x1="805.8" y1="2169.4" x2="805.8" y2="2178.9" stroke="#111" stroke-width="2"/>
<line x1="517.3" y1="1949.4" x2="517.3" y2="1952.3" stroke="#111" stroke-width="2.2"/>
<line x1="517.3" y1="1974.5" x2="517.3" y2="1981.2" stroke="#111" stroke-width="2.2"/>
<line x1="510.8" y1="1949.4" x2="523.8" y2="1949.4" stroke="#111" stroke-width="2.4"/>
<line x1="510.8" y1="1981.2" x2="523.8" y2="1981.2" stroke="#111" stroke-width="2.4"/>
<rect x="506.8" y="1952.3" width="21.0" height="22.2" fill="#3a3a3a" stroke="#111" stroke-width="2.4" fill-opacity="0.72"/>
<line x1="506.8" y1="1958.1" x2="527.8" y2="1958.1" stroke="#111" stroke-width="2.6"/>
<line x1="551.3" y1="1923.3" x2="551.3" y2="1935.9" stroke="#111" stroke-width="2.2"/>
<line x1="551.3" y1="1963.9" x2="551.3" y2="1964.8" stroke="#111" stroke-width="2.2"/>
<line x1="544.8" y1="1923.3" x2="557.8" y2="1923.3" stroke="#111" stroke-width="2.4"/>
<line x1="544.8" y1="1964.8" x2="557.8" y2="1964.8" stroke="#111" stroke-width="2.4"/>
<rect x="540.8" y="1935.9" width="21.0" height="28.0" fill="#f6efb0" stroke="#111" stroke-width="2.4"/>
<line x1="540.8" y1="1961.9" x2="561.8" y2="1961.9" stroke="#111" stroke-width="2.6"/>
<line x1="608.8" y1="2015.0" x2="608.8" y2="2019.8" stroke="#111" stroke-width="2.2"/>
<line x1="608.8" y1="2060.4" x2="608.8" y2="2070.0" stroke="#111" stroke-width="2.2"/>
<line x1="602.3" y1="2015.0" x2="615.3" y2="2015.0" stroke="#111" stroke-width="2.4"/>
<line x1="602.3" y1="2070.0" x2="615.3" y2="2070.0" stroke="#111" stroke-width="2.4"/>
<rect x="598.3" y="2019.8" width="21.0" height="40.5" fill="#3a3a3a" stroke="#111" stroke-width="2.4" fill-opacity="0.72"/>
<line x1="598.3" y1="2040.1" x2="619.3" y2="2040.1" stroke="#111" stroke-width="2.6"/>
<line x1="642.8" y1="1993.8" x2="642.8" y2="2013.1" stroke="#111" stroke-width="2.2"/>
<line x1="642.8" y1="2053.6" x2="642.8" y2="2056.5" stroke="#111" stroke-width="2.2"/>
<line x1="636.3" y1="1993.8" x2="649.3" y2="1993.8" stroke="#111" stroke-width="2.4"/>
<line x1="636.3" y1="2056.5" x2="649.3" y2="2056.5" stroke="#111" stroke-width="2.4"/>
<rect x="632.3" y="2013.1" width="21.0" height="40.5" fill="#f6efb0" stroke="#111" stroke-width="2.4"/>
<line x1="632.3" y1="2036.2" x2="653.3" y2="2036.2" stroke="#111" stroke-width="2.6"/>
<line x1="697.8" y1="1963.9" x2="697.8" y2="1968.7" stroke="#111" stroke-width="2.2"/>
<line x1="697.8" y1="1978.3" x2="697.8" y2="1980.3" stroke="#111" stroke-width="2.2"/>
<line x1="691.3" y1="1963.9" x2="704.3" y2="1963.9" stroke="#111" stroke-width="2.4"/>
<line x1="691.3" y1="1980.3" x2="704.3" y2="1980.3" stroke="#111" stroke-width="2.4"/>
<rect x="687.3" y="1968.7" width="21.0" height="9.7" fill="#3a3a3a" stroke="#111" stroke-width="2.4" fill-opacity="0.72"/>
<line x1="687.3" y1="1972.5" x2="708.3" y2="1972.5" stroke="#111" stroke-width="2.6"/>
<line x1="731.8" y1="1944.6" x2="731.8" y2="1951.3" stroke="#111" stroke-width="2.2"/>
<line x1="731.8" y1="1978.3" x2="731.8" y2="1981.2" stroke="#111" stroke-width="2.2"/>
<line x1="725.3" y1="1944.6" x2="738.3" y2="1944.6" stroke="#111" stroke-width="2.4"/>
<line x1="725.3" y1="1981.2" x2="738.3" y2="1981.2" stroke="#111" stroke-width="2.4"/>
<rect x="721.3" y="1951.3" width="21.0" height="27.0" fill="#f6efb0" stroke="#111" stroke-width="2.4"/>
<line x1="721.3" y1="1974.5" x2="742.3" y2="1974.5" stroke="#111" stroke-width="2.6"/>
<line x1="788.8" y1="2056.5" x2="788.8" y2="2058.4" stroke="#111" stroke-width="2.2"/>
<line x1="788.8" y1="2071.0" x2="788.8" y2="2075.8" stroke="#111" stroke-width="2.2"/>
<line x1="782.3" y1="2056.5" x2="795.3" y2="2056.5" stroke="#111" stroke-width="2.4"/>
<line x1="782.3" y1="2075.8" x2="795.3" y2="2075.8" stroke="#111" stroke-width="2.4"/>
<rect x="778.3" y="2058.4" width="21.0" height="12.5" fill="#3a3a3a" stroke="#111" stroke-width="2.4" fill-opacity="0.72"/>
<line x1="778.3" y1="2063.2" x2="799.3" y2="2063.2" stroke="#111" stroke-width="2.6"/>
<line x1="822.8" y1="2050.7" x2="822.8" y2="2057.5" stroke="#111" stroke-width="2.2"/>
<line x1="822.8" y1="2071.0" x2="822.8" y2="2071.9" stroke="#111" stroke-width="2.2"/>
<line x1="816.3" y1="2050.7" x2="829.3" y2="2050.7" stroke="#111" stroke-width="2.4"/>
<line x1="816.3" y1="2071.9" x2="829.3" y2="2071.9" stroke="#111" stroke-width="2.4"/>
<rect x="812.3" y="2057.5" width="21.0" height="13.5" fill="#f6efb0" stroke="#111" stroke-width="2.4"/>
<line x1="812.3" y1="2069.0" x2="833.3" y2="2069.0" stroke="#111" stroke-width="2.6"/>
<rect x="904.3" y="1881.2" width="165.1" height="289.0" fill="#b8e9ec"/>
<rect x="1080.0" y="1881.2" width="165.6" height="289.0" fill="#d9e6c4"/>
<line x1="897.5" y1="1878.8" x2="897.5" y2="2171.2" stroke="#111" stroke-width="2.2"/>
<line x1="888.0" y1="2170.2" x2="897.5" y2="2170.2" stroke="#111" stroke-width="1.8"/>
<line x1="888.0" y1="2097.6" x2="897.5" y2="2097.6" stroke="#111" stroke-width="1.8"/>
<line x1="888.0" y1="2025.0" x2="897.5" y2="2025.0" stroke="#111" stroke-width="1.8"/>
<line x1="888.0" y1="1952.4" x2="897.5" y2="1952.4" stroke="#111" stroke-width="1.8"/>
<line x1="888.0" y1="1879.8" x2="897.5" y2="1879.8" stroke="#111" stroke-width="1.8"/>
<line x1="889.2" y1="2170.2" x2="1069.4" y2="2170.2" stroke="#111" stroke-width="2.2"/>
<line x1="1077.5" y1="2170.2" x2="1248.9" y2="2170.2" stroke="#111" stroke-width="2.2"/>
<line x1="938.0" y1="2170.2" x2="938.0" y2="2179.7" stroke="#111" stroke-width="2"/>
<line x1="1029.5" y1="2170.2" x2="1029.5" y2="2179.7" stroke="#111" stroke-width="2"/>
<line x1="1117.4" y1="2170.2" x2="1117.4" y2="2179.7" stroke="#111" stroke-width="2"/>
<line x1="1208.4" y1="2170.2" x2="1208.4" y2="2179.7" stroke="#111" stroke-width="2"/>
<line x1="921.0" y1="1941.5" x2="921.0" y2="1964.7" stroke="#111" stroke-width="2.2"/>
<line x1="921.0" y1="2008.3" x2="921.0" y2="2011.2" stroke="#111" stroke-width="2.2"/>
<line x1="914.5" y1="1941.5" x2="927.5" y2="1941.5" stroke="#111" stroke-width="2.4"/>
<line x1="914.5" y1="2011.2" x2="927.5" y2="2011.2" stroke="#111" stroke-width="2.4"/>
<rect x="910.5" y="1964.7" width="21.0" height="43.6" fill="#3a3a3a" stroke="#111" stroke-width="2.4" fill-opacity="0.72"/>
<line x1="910.5" y1="1999.6" x2="931.5" y2="1999.6" stroke="#111" stroke-width="2.6"/>
<line x1="955.0" y1="1928.4" x2="955.0" y2="1934.2" stroke="#111" stroke-width="2.2"/>
<line x1="955.0" y1="1959.7" x2="955.0" y2="1964.7" stroke="#111" stroke-width="2.2"/>
<line x1="948.5" y1="1928.4" x2="961.5" y2="1928.4" stroke="#111" stroke-width="2.4"/>
<line x1="948.5" y1="1964.7" x2="961.5" y2="1964.7" stroke="#111" stroke-width="2.4"/>
<rect x="944.5" y="1934.2" width="21.0" height="25.4" fill="#f6efb0" stroke="#111" stroke-width="2.4"/>
<line x1="944.5" y1="1952.4" x2="965.5" y2="1952.4" stroke="#111" stroke-width="2.6"/>
<line x1="1012.5" y1="1940.1" x2="1012.5" y2="1977.1" stroke="#111" stroke-width="2.2"/>
<line x1="1012.5" y1="2038.1" x2="1012.5" y2="2046.8" stroke="#111" stroke-width="2.2"/>
<line x1="1006.0" y1="1940.1" x2="1019.0" y2="1940.1" stroke="#111" stroke-width="2.4"/>
<line x1="1006.0" y1="2046.8" x2="1019.0" y2="2046.8" stroke="#111" stroke-width="2.4"/>
<rect x="1002.0" y="1977.1" width="21.0" height="61.0" fill="#3a3a3a" stroke="#111" stroke-width="2.4" fill-opacity="0.72"/>
<line x1="1002.0" y1="2027.9" x2="1023.0" y2="2027.9" stroke="#111" stroke-width="2.6"/>
<line x1="1046.5" y1="1918.3" x2="1046.5" y2="1927.0" stroke="#111" stroke-width="2.2"/>
<line x1="1046.5" y1="1977.1" x2="1046.5" y2="1982.9" stroke="#111" stroke-width="2.2"/>
<line x1="1040.0" y1="1918.3" x2="1053.0" y2="1918.3" stroke="#111" stroke-width="2.4"/>
<line x1="1040.0" y1="1982.9" x2="1053.0" y2="1982.9" stroke="#111" stroke-width="2.4"/>
<rect x="1036.0" y="1927.0" width="21.0" height="50.1" fill="#f6efb0" stroke="#111" stroke-width="2.4"/>
<line x1="1036.0" y1="1966.2" x2="1057.0" y2="1966.2" stroke="#111" stroke-width="2.6"/>
<line x1="1100.4" y1="2024.3" x2="1100.4" y2="2027.2" stroke="#111" stroke-width="2.2"/>
<line x1="1100.4" y1="2042.4" x2="1100.4" y2="2049.0" stroke="#111" stroke-width="2.2"/>
<line x1="1093.9" y1="2024.3" x2="1106.9" y2="2024.3" stroke="#111" stroke-width="2.4"/>
<line x1="1093.9" y1="2049.0" x2="1106.9" y2="2049.0" stroke="#111" stroke-width="2.4"/>
<rect x="1089.9" y="2027.2" width="21.0" height="15.2" fill="#3a3a3a" stroke="#111" stroke-width="2.4" fill-opacity="0.72"/>
<line x1="1089.9" y1="2033.7" x2="1110.9" y2="2033.7" stroke="#111" stroke-width="2.6"/>
<line x1="1134.4" y1="1981.4" x2="1134.4" y2="2003.9" stroke="#111" stroke-width="2.2"/>
<line x1="1134.4" y1="2057.7" x2="1134.4" y2="2070.7" stroke="#111" stroke-width="2.2"/>
<line x1="1127.9" y1="1981.4" x2="1140.9" y2="1981.4" stroke="#111" stroke-width="2.4"/>
<line x1="1127.9" y1="2070.7" x2="1140.9" y2="2070.7" stroke="#111" stroke-width="2.4"/>
<rect x="1123.9" y="2003.9" width="21.0" height="53.7" fill="#f6efb0" stroke="#111" stroke-width="2.4"/>
<line x1="1123.9" y1="2034.4" x2="1144.9" y2="2034.4" stroke="#111" stroke-width="2.6"/>
<line x1="1191.4" y1="2074.4" x2="1191.4" y2="2083.1" stroke="#111" stroke-width="2.2"/>
<line x1="1191.4" y1="2096.9" x2="1191.4" y2="2098.3" stroke="#111" stroke-width="2.2"/>
<line x1="1184.9" y1="2074.4" x2="1197.9" y2="2074.4" stroke="#111" stroke-width="2.4"/>
<line x1="1184.9" y1="2098.3" x2="1197.9" y2="2098.3" stroke="#111" stroke-width="2.4"/>
<rect x="1180.9" y="2083.1" width="21.0" height="13.8" fill="#3a3a3a" stroke="#111" stroke-width="2.4" fill-opacity="0.72"/>
<line x1="1180.9" y1="2094.7" x2="1201.9" y2="2094.7" stroke="#111" stroke-width="2.6"/>
<line x1="1225.4" y1="2034.4" x2="1225.4" y2="2059.1" stroke="#111" stroke-width="2.2"/>
<line x1="1225.4" y1="2104.9" x2="1225.4" y2="2117.2" stroke="#111" stroke-width="2.2"/>
<line x1="1218.9" y1="2034.4" x2="1231.9" y2="2034.4" stroke="#111" stroke-width="2.4"/>
<line x1="1218.9" y1="2117.2" x2="1231.9" y2="2117.2" stroke="#111" stroke-width="2.4"/>
<rect x="1214.9" y="2059.1" width="21.0" height="45.7" fill="#f6efb0" stroke="#111" stroke-width="2.4"/>
<line x1="1214.9" y1="2090.3" x2="1235.9" y2="2090.3" stroke="#111" stroke-width="2.6"/>
<line x1="920.3" y1="1904.7" x2="956.7" y2="1904.7" stroke="#0c2226" stroke-width="1.8"/>
<line x1="1011.0" y1="1904.7" x2="1047.7" y2="1904.7" stroke="#0c2226" stroke-width="1.8"/>
<rect x="1305.1" y="1882.0" width="165.6" height="290.2" fill="#c8e8ea"/>
<rect x="1481.3" y="1880.2" width="165.6" height="292.0" fill="#d6e2be"/>
<line x1="1298.0" y1="1881.6" x2="1298.0" y2="2173.2" stroke="#111" stroke-width="2.2"/>
<line x1="1288.4" y1="2172.2" x2="1298.0" y2="2172.2" stroke="#111" stroke-width="1.8"/>
<line x1="1288.4" y1="2099.8" x2="1298.0" y2="2099.8" stroke="#111" stroke-width="1.8"/>
<line x1="1288.4" y1="2027.4" x2="1298.0" y2="2027.4" stroke="#111" stroke-width="1.8"/>
<line x1="1288.4" y1="1955.0" x2="1298.0" y2="1955.0" stroke="#111" stroke-width="1.8"/>
<line x1="1288.4" y1="1882.6" x2="1298.0" y2="1882.6" stroke="#111" stroke-width="1.8"/>
<line x1="1288.4" y1="2172.2" x2="1469.4" y2="2172.2" stroke="#111" stroke-width="2.2"/>
<line x1="1475.0" y1="2172.2" x2="1646.4" y2="2172.2" stroke="#111" stroke-width="2.2"/>
<line x1="1338.0" y1="2172.2" x2="1338.0" y2="2181.7" stroke="#111" stroke-width="2"/>
<line x1="1429.0" y1="2172.2" x2="1429.0" y2="2181.7" stroke="#111" stroke-width="2"/>
<line x1="1514.9" y1="2172.2" x2="1514.9" y2="2181.7" stroke="#111" stroke-width="2"/>
<line x1="1606.4" y1="2172.2" x2="1606.4" y2="2181.7" stroke="#111" stroke-width="2"/>
<line x1="1321.0" y1="1928.9" x2="1321.0" y2="1964.4" stroke="#111" stroke-width="2.2"/>
<line x1="1321.0" y1="2032.5" x2="1321.0" y2="2045.5" stroke="#111" stroke-width="2.2"/>
<line x1="1314.5" y1="1928.9" x2="1327.5" y2="1928.9" stroke="#111" stroke-width="2.4"/>
<line x1="1314.5" y1="2045.5" x2="1327.5" y2="2045.5" stroke="#111" stroke-width="2.4"/>
<rect x="1310.5" y="1964.4" width="21.0" height="68.1" fill="#3a3a3a" stroke="#111" stroke-width="2.4" fill-opacity="0.72"/>
<line x1="1310.5" y1="2007.9" x2="1331.5" y2="2007.9" stroke="#111" stroke-width="2.6"/>
<line x1="1355.0" y1="1910.8" x2="1355.0" y2="1931.8" stroke="#111" stroke-width="2.2"/>
<line x1="1355.0" y1="2011.5" x2="1355.0" y2="2016.5" stroke="#111" stroke-width="2.2"/>
<line x1="1348.5" y1="1910.8" x2="1361.5" y2="1910.8" stroke="#111" stroke-width="2.4"/>
<line x1="1348.5" y1="2016.5" x2="1361.5" y2="2016.5" stroke="#111" stroke-width="2.4"/>
<rect x="1344.5" y="1931.8" width="21.0" height="79.6" fill="#f6efb0" stroke="#111" stroke-width="2.4"/>
<line x1="1344.5" y1="1981.8" x2="1365.5" y2="1981.8" stroke="#111" stroke-width="2.6"/>
<line x1="1412.0" y1="1918.1" x2="1412.0" y2="1948.5" stroke="#111" stroke-width="2.2"/>
<line x1="1412.0" y1="2029.6" x2="1412.0" y2="2042.6" stroke="#111" stroke-width="2.2"/>
<line x1="1405.5" y1="1918.1" x2="1418.5" y2="1918.1" stroke="#111" stroke-width="2.4"/>
<line x1="1405.5" y1="2042.6" x2="1418.5" y2="2042.6" stroke="#111" stroke-width="2.4"/>
<rect x="1401.5" y="1948.5" width="21.0" height="81.1" fill="#3a3a3a" stroke="#111" stroke-width="2.4" fill-opacity="0.72"/>
<line x1="1401.5" y1="2012.2" x2="1422.5" y2="2012.2" stroke="#111" stroke-width="2.6"/>
<line x1="1446.0" y1="1889.1" x2="1446.0" y2="1903.6" stroke="#111" stroke-width="2.2"/>
<line x1="1446.0" y1="1975.3" x2="1446.0" y2="1982.5" stroke="#111" stroke-width="2.2"/>
<line x1="1439.5" y1="1889.1" x2="1452.5" y2="1889.1" stroke="#111" stroke-width="2.4"/>
<line x1="1439.5" y1="1982.5" x2="1452.5" y2="1982.5" stroke="#111" stroke-width="2.4"/>
<rect x="1435.5" y="1903.6" width="21.0" height="71.7" fill="#f6efb0" stroke="#111" stroke-width="2.4"/>
<line x1="1435.5" y1="1961.5" x2="1456.5" y2="1961.5" stroke="#111" stroke-width="2.6"/>
<line x1="1497.9" y1="2005.0" x2="1497.9" y2="2013.6" stroke="#111" stroke-width="2.2"/>
<line x1="1497.9" y1="2082.4" x2="1497.9" y2="2111.4" stroke="#111" stroke-width="2.2"/>
<line x1="1491.4" y1="2005.0" x2="1504.4" y2="2005.0" stroke="#111" stroke-width="2.4"/>
<line x1="1491.4" y1="2111.4" x2="1504.4" y2="2111.4" stroke="#111" stroke-width="2.4"/>
<rect x="1487.4" y="2013.6" width="21.0" height="68.8" fill="#3a3a3a" stroke="#111" stroke-width="2.4" fill-opacity="0.72"/>
<line x1="1487.4" y1="2039.7" x2="1508.4" y2="2039.7" stroke="#111" stroke-width="2.6"/>
<line x1="1531.9" y1="2012.9" x2="1531.9" y2="2013.6" stroke="#111" stroke-width="2.2"/>
<line x1="1531.9" y1="2067.9" x2="1531.9" y2="2081.0" stroke="#111" stroke-width="2.2"/>
<line x1="1525.4" y1="2012.9" x2="1538.4" y2="2012.9" stroke="#111" stroke-width="2.4"/>
<line x1="1525.4" y1="2081.0" x2="1538.4" y2="2081.0" stroke="#111" stroke-width="2.4"/>
<rect x="1521.4" y="2013.6" width="21.0" height="54.3" fill="#f6efb0" stroke="#111" stroke-width="2.4"/>
<line x1="1521.4" y1="2036.8" x2="1542.4" y2="2036.8" stroke="#111" stroke-width="2.6"/>
<line x1="1589.4" y1="1967.3" x2="1589.4" y2="1969.5" stroke="#111" stroke-width="2.2"/>
<line x1="1589.4" y1="2073.7" x2="1589.4" y2="2094.0" stroke="#111" stroke-width="2.2"/>
<line x1="1582.9" y1="1967.3" x2="1595.9" y2="1967.3" stroke="#111" stroke-width="2.4"/>
<line x1="1582.9" y1="2094.0" x2="1595.9" y2="2094.0" stroke="#111" stroke-width="2.4"/>
<rect x="1578.9" y="1969.5" width="21.0" height="104.3" fill="#3a3a3a" stroke="#111" stroke-width="2.4" fill-opacity="0.72"/>
<line x1="1578.9" y1="2051.3" x2="1599.9" y2="2051.3" stroke="#111" stroke-width="2.6"/>
<line x1="1623.4" y1="1943.4" x2="1623.4" y2="1958.6" stroke="#111" stroke-width="2.2"/>
<line x1="1623.4" y1="2020.2" x2="1623.4" y2="2040.4" stroke="#111" stroke-width="2.2"/>
<line x1="1616.9" y1="1943.4" x2="1629.9" y2="1943.4" stroke="#111" stroke-width="2.4"/>
<line x1="1616.9" y1="2040.4" x2="1629.9" y2="2040.4" stroke="#111" stroke-width="2.4"/>
<rect x="1612.9" y="1958.6" width="21.0" height="61.5" fill="#f6efb0" stroke="#111" stroke-width="2.4"/>
<line x1="1612.9" y1="1994.1" x2="1633.9" y2="1994.1" stroke="#111" stroke-width="2.6"/>
<rect x="1724.3" y="1882.0" width="172.4" height="282.0" fill="#c8e8ea"/>
<rect x="1909.3" y="1882.0" width="172.4" height="282.0" fill="#d6e2be"/>
<line x1="1720.2" y1="1879.7" x2="1720.2" y2="2172.2" stroke="#111" stroke-width="2.2"/>
<line x1="1710.1" y1="2171.2" x2="1720.2" y2="2171.2" stroke="#111" stroke-width="1.8"/>
<line x1="1710.1" y1="2113.1" x2="1720.2" y2="2113.1" stroke="#111" stroke-width="1.8"/>
<line x1="1710.1" y1="2055.0" x2="1720.2" y2="2055.0" stroke="#111" stroke-width="1.8"/>
<line x1="1710.1" y1="1996.9" x2="1720.2" y2="1996.9" stroke="#111" stroke-width="1.8"/>
<line x1="1710.1" y1="1938.8" x2="1720.2" y2="1938.8" stroke="#111" stroke-width="1.8"/>
<line x1="1710.1" y1="1880.7" x2="1720.2" y2="1880.7" stroke="#111" stroke-width="1.8"/>
<line x1="1709.6" y1="2171.2" x2="1897.9" y2="2171.2" stroke="#111" stroke-width="2.2"/>
<line x1="1906.3" y1="2172.2" x2="2084.0" y2="2172.2" stroke="#111" stroke-width="2.2"/>
<line x1="1761.4" y1="2171.2" x2="1761.4" y2="2180.7" stroke="#111" stroke-width="2"/>
<line x1="1856.2" y1="2171.2" x2="1856.2" y2="2180.7" stroke="#111" stroke-width="2"/>
<line x1="1947.2" y1="2172.2" x2="1947.2" y2="2181.7" stroke="#111" stroke-width="2"/>
<line x1="2042.5" y1="2172.2" x2="2042.5" y2="2181.7" stroke="#111" stroke-width="2"/>
<line x1="1743.4" y1="2121.2" x2="1743.4" y2="2121.2" stroke="#111" stroke-width="2.2"/>
<line x1="1743.4" y1="2127.3" x2="1743.4" y2="2127.3" stroke="#111" stroke-width="2.2"/>
<line x1="1736.9" y1="2121.2" x2="1749.9" y2="2121.2" stroke="#111" stroke-width="2.4"/>
<line x1="1736.9" y1="2127.3" x2="1749.9" y2="2127.3" stroke="#111" stroke-width="2.4"/>
<rect x="1732.4" y="2121.2" width="22.0" height="6.1" fill="#3a3a3a" stroke="#111" stroke-width="2.4" fill-opacity="0.72"/>
<line x1="1732.4" y1="2124.7" x2="1754.4" y2="2124.7" stroke="#111" stroke-width="2.6"/>
<line x1="1779.4" y1="2118.6" x2="1779.4" y2="2118.6" stroke="#111" stroke-width="2.2"/>
<line x1="1779.4" y1="2123.6" x2="1779.4" y2="2123.6" stroke="#111" stroke-width="2.2"/>
<line x1="1772.9" y1="2118.6" x2="1785.9" y2="2118.6" stroke="#111" stroke-width="2.4"/>
<line x1="1772.9" y1="2123.6" x2="1785.9" y2="2123.6" stroke="#111" stroke-width="2.4"/>
<rect x="1768.4" y="2118.6" width="22.0" height="4.9" fill="#f6efb0" stroke="#111" stroke-width="2.4"/>
<line x1="1768.4" y1="2121.8" x2="1790.4" y2="2121.8" stroke="#111" stroke-width="2.6"/>
<line x1="1838.2" y1="2137.8" x2="1838.2" y2="2137.8" stroke="#111" stroke-width="2.2"/>
<line x1="1838.2" y1="2143.9" x2="1838.2" y2="2149.4" stroke="#111" stroke-width="2.2"/>
<line x1="1831.7" y1="2137.8" x2="1844.7" y2="2137.8" stroke="#111" stroke-width="2.4"/>
<line x1="1831.7" y1="2149.4" x2="1844.7" y2="2149.4" stroke="#111" stroke-width="2.4"/>
<rect x="1827.2" y="2137.8" width="22.0" height="6.1" fill="#3a3a3a" stroke="#111" stroke-width="2.4" fill-opacity="0.72"/>
<line x1="1827.2" y1="2142.1" x2="1849.2" y2="2142.1" stroke="#111" stroke-width="2.6"/>
<line x1="1874.2" y1="2135.8" x2="1874.2" y2="2135.8" stroke="#111" stroke-width="2.2"/>
<line x1="1874.2" y1="2143.9" x2="1874.2" y2="2143.9" stroke="#111" stroke-width="2.2"/>
<line x1="1867.7" y1="2135.8" x2="1880.7" y2="2135.8" stroke="#111" stroke-width="2.4"/>
<line x1="1867.7" y1="2143.9" x2="1880.7" y2="2143.9" stroke="#111" stroke-width="2.4"/>
<rect x="1863.2" y="2135.8" width="22.0" height="8.1" fill="#f6efb0" stroke="#111" stroke-width="2.4"/>
<line x1="1863.2" y1="2140.7" x2="1885.2" y2="2140.7" stroke="#111" stroke-width="2.6"/>
<line x1="1929.2" y1="2105.3" x2="1929.2" y2="2105.3" stroke="#111" stroke-width="2.2"/>
<line x1="1929.2" y1="2116.6" x2="1929.2" y2="2116.6" stroke="#111" stroke-width="2.2"/>
<line x1="1922.7" y1="2105.3" x2="1935.7" y2="2105.3" stroke="#111" stroke-width="2.4"/>
<line x1="1922.7" y1="2116.6" x2="1935.7" y2="2116.6" stroke="#111" stroke-width="2.4"/>
<rect x="1918.2" y="2105.3" width="22.0" height="11.3" fill="#3a3a3a" stroke="#111" stroke-width="2.4" fill-opacity="0.72"/>
<line x1="1918.2" y1="2113.1" x2="1940.2" y2="2113.1" stroke="#111" stroke-width="2.6"/>
<line x1="1965.2" y1="2107.3" x2="1965.2" y2="2107.9" stroke="#111" stroke-width="2.2"/>
<line x1="1965.2" y1="2116.9" x2="1965.2" y2="2121.2" stroke="#111" stroke-width="2.2"/>
<line x1="1958.7" y1="2107.3" x2="1971.7" y2="2107.3" stroke="#111" stroke-width="2.4"/>
<line x1="1958.7" y1="2121.2" x2="1971.7" y2="2121.2" stroke="#111" stroke-width="2.4"/>
<rect x="1954.2" y="2107.9" width="22.0" height="9.0" fill="#f6efb0" stroke="#111" stroke-width="2.4"/>
<line x1="1954.2" y1="2113.1" x2="1976.2" y2="2113.1" stroke="#111" stroke-width="2.6"/>
<line x1="2024.5" y1="2129.4" x2="2024.5" y2="2133.1" stroke="#111" stroke-width="2.2"/>
<line x1="2024.5" y1="2141.3" x2="2024.5" y2="2141.3" stroke="#111" stroke-width="2.2"/>
<line x1="2018.0" y1="2129.4" x2="2031.0" y2="2129.4" stroke="#111" stroke-width="2.4"/>
<line x1="2018.0" y1="2141.3" x2="2031.0" y2="2141.3" stroke="#111" stroke-width="2.4"/>
<rect x="2013.5" y="2133.1" width="22.0" height="8.1" fill="#3a3a3a" stroke="#111" stroke-width="2.4" fill-opacity="0.72"/>
<line x1="2013.5" y1="2137.8" x2="2035.5" y2="2137.8" stroke="#111" stroke-width="2.6"/>
<line x1="2060.5" y1="2135.8" x2="2060.5" y2="2135.8" stroke="#111" stroke-width="2.2"/>
<line x1="2060.5" y1="2141.9" x2="2060.5" y2="2141.9" stroke="#111" stroke-width="2.2"/>
<line x1="2054.0" y1="2135.8" x2="2067.0" y2="2135.8" stroke="#111" stroke-width="2.4"/>
<line x1="2054.0" y1="2141.9" x2="2067.0" y2="2141.9" stroke="#111" stroke-width="2.4"/>
<rect x="2049.5" y="2135.8" width="22.0" height="6.1" fill="#f6efb0" stroke="#111" stroke-width="2.4"/>
<line x1="2049.5" y1="2139.2" x2="2071.5" y2="2139.2" stroke="#111" stroke-width="2.6"/>
<rect x="91.4" y="2283.5" width="163.3" height="285.9" fill="#b8e9ec"/>
<rect x="265.8" y="2283.5" width="164.2" height="285.9" fill="#d9e6c4"/>
<line x1="86.5" y1="2282.5" x2="86.5" y2="2570.4" stroke="#111" stroke-width="2.2"/>
<line x1="76.3" y1="2569.4" x2="86.5" y2="2569.4" stroke="#111" stroke-width="1.8"/>
<line x1="76.3" y1="2474.1" x2="86.5" y2="2474.1" stroke="#111" stroke-width="1.8"/>
<line x1="76.3" y1="2378.8" x2="86.5" y2="2378.8" stroke="#111" stroke-width="1.8"/>
<line x1="76.3" y1="2283.5" x2="86.5" y2="2283.5" stroke="#111" stroke-width="1.8"/>
<line x1="76.3" y1="2569.4" x2="254.7" y2="2569.4" stroke="#111" stroke-width="2.2"/>
<line x1="263.7" y1="2569.4" x2="432.7" y2="2569.4" stroke="#111" stroke-width="2.2"/>
<line x1="124.9" y1="2569.4" x2="124.9" y2="2578.9" stroke="#111" stroke-width="2"/>
<line x1="215.0" y1="2569.4" x2="215.0" y2="2578.9" stroke="#111" stroke-width="2"/>
<line x1="302.9" y1="2569.4" x2="302.9" y2="2578.9" stroke="#111" stroke-width="2"/>
<line x1="392.6" y1="2569.4" x2="392.6" y2="2578.9" stroke="#111" stroke-width="2"/>
<line x1="107.9" y1="2290.2" x2="107.9" y2="2294.9" stroke="#111" stroke-width="2.2"/>
<line x1="107.9" y1="2356.9" x2="107.9" y2="2375.9" stroke="#111" stroke-width="2.2"/>
<line x1="101.4" y1="2290.2" x2="114.4" y2="2290.2" stroke="#111" stroke-width="2.4"/>
<line x1="101.4" y1="2375.9" x2="114.4" y2="2375.9" stroke="#111" stroke-width="2.4"/>
<rect x="97.4" y="2294.9" width="21.0" height="61.9" fill="#3a3a3a" stroke="#111" stroke-width="2.4" fill-opacity="0.72"/>
<line x1="97.4" y1="2322.6" x2="118.4" y2="2322.6" stroke="#111" stroke-width="2.6"/>
<line x1="141.9" y1="2304.5" x2="141.9" y2="2308.3" stroke="#111" stroke-width="2.2"/>
<line x1="141.9" y1="2350.2" x2="141.9" y2="2358.8" stroke="#111" stroke-width="2.2"/>
<line x1="135.4" y1="2304.5" x2="148.4" y2="2304.5" stroke="#111" stroke-width="2.4"/>
<line x1="135.4" y1="2358.8" x2="148.4" y2="2358.8" stroke="#111" stroke-width="2.4"/>
<rect x="131.4" y="2308.3" width="21.0" height="41.9" fill="#f6efb0" stroke="#111" stroke-width="2.4"/>
<line x1="131.4" y1="2336.9" x2="152.4" y2="2336.9" stroke="#111" stroke-width="2.6"/>
<line x1="198.0" y1="2291.1" x2="198.0" y2="2294.0" stroke="#111" stroke-width="2.2"/>
<line x1="198.0" y1="2361.6" x2="198.0" y2="2382.6" stroke="#111" stroke-width="2.2"/>
<line x1="191.5" y1="2291.1" x2="204.5" y2="2291.1" stroke="#111" stroke-width="2.4"/>
<line x1="191.5" y1="2382.6" x2="204.5" y2="2382.6" stroke="#111" stroke-width="2.4"/>
<rect x="187.5" y="2294.0" width="21.0" height="67.7" fill="#3a3a3a" stroke="#111" stroke-width="2.4" fill-opacity="0.72"/>
<line x1="187.5" y1="2310.2" x2="208.5" y2="2310.2" stroke="#111" stroke-width="2.6"/>
<line x1="232.0" y1="2308.3" x2="232.0" y2="2310.2" stroke="#111" stroke-width="2.2"/>
<line x1="232.0" y1="2368.3" x2="232.0" y2="2384.5" stroke="#111" stroke-width="2.2"/>
<line x1="225.5" y1="2308.3" x2="238.5" y2="2308.3" stroke="#111" stroke-width="2.4"/>
<line x1="225.5" y1="2384.5" x2="238.5" y2="2384.5" stroke="#111" stroke-width="2.4"/>
<rect x="221.5" y="2310.2" width="21.0" height="58.1" fill="#f6efb0" stroke="#111" stroke-width="2.4"/>
<line x1="221.5" y1="2346.4" x2="242.5" y2="2346.4" stroke="#111" stroke-width="2.6"/>
<line x1="285.9" y1="2356.9" x2="285.9" y2="2357.8" stroke="#111" stroke-width="2.2"/>
<line x1="285.9" y1="2392.1" x2="285.9" y2="2401.7" stroke="#111" stroke-width="2.2"/>
<line x1="279.4" y1="2356.9" x2="292.4" y2="2356.9" stroke="#111" stroke-width="2.4"/>
<line x1="279.4" y1="2401.7" x2="292.4" y2="2401.7" stroke="#111" stroke-width="2.4"/>
<rect x="275.4" y="2357.8" width="21.0" height="34.3" fill="#3a3a3a" stroke="#111" stroke-width="2.4" fill-opacity="0.72"/>
<line x1="275.4" y1="2381.7" x2="296.4" y2="2381.7" stroke="#111" stroke-width="2.6"/>
<line x1="319.9" y1="2328.3" x2="319.9" y2="2334.0" stroke="#111" stroke-width="2.2"/>
<line x1="319.9" y1="2363.6" x2="319.9" y2="2366.4" stroke="#111" stroke-width="2.2"/>
<line x1="313.4" y1="2328.3" x2="326.4" y2="2328.3" stroke="#111" stroke-width="2.4"/>
<line x1="313.4" y1="2366.4" x2="326.4" y2="2366.4" stroke="#111" stroke-width="2.4"/>
<rect x="309.4" y="2334.0" width="21.0" height="29.5" fill="#f6efb0" stroke="#111" stroke-width="2.4"/>
<line x1="309.4" y1="2354.0" x2="330.4" y2="2354.0" stroke="#111" stroke-width="2.6"/>
<line x1="375.6" y1="2359.7" x2="375.6" y2="2369.3" stroke="#111" stroke-width="2.2"/>
<line x1="375.6" y1="2399.8" x2="375.6" y2="2401.7" stroke="#111" stroke-width="2.2"/>
<line x1="369.1" y1="2359.7" x2="382.1" y2="2359.7" stroke="#111" stroke-width="2.4"/>
<line x1="369.1" y1="2401.7" x2="382.1" y2="2401.7" stroke="#111" stroke-width="2.4"/>
<rect x="365.1" y="2369.3" width="21.0" height="30.5" fill="#3a3a3a" stroke="#111" stroke-width="2.4" fill-opacity="0.72"/>
<line x1="365.1" y1="2391.2" x2="386.1" y2="2391.2" stroke="#111" stroke-width="2.6"/>
<line x1="409.6" y1="2328.3" x2="409.6" y2="2336.9" stroke="#111" stroke-width="2.2"/>
<line x1="409.6" y1="2370.2" x2="409.6" y2="2375.9" stroke="#111" stroke-width="2.2"/>
<line x1="403.1" y1="2328.3" x2="416.1" y2="2328.3" stroke="#111" stroke-width="2.4"/>
<line x1="403.1" y1="2375.9" x2="416.1" y2="2375.9" stroke="#111" stroke-width="2.4"/>
<rect x="399.1" y="2336.9" width="21.0" height="33.4" fill="#f6efb0" stroke="#111" stroke-width="2.4"/>
<line x1="399.1" y1="2359.7" x2="420.1" y2="2359.7" stroke="#111" stroke-width="2.6"/>
<line x1="283.9" y1="2309.8" x2="320.4" y2="2309.8" stroke="#0c2226" stroke-width="1.8"/>
<line x1="378.6" y1="2309.8" x2="415.1" y2="2309.8" stroke="#0c2226" stroke-width="1.8"/>
<rect x="503.2" y="2282.8" width="163.5" height="285.1" fill="#b8e9ec"/>
<rect x="678.1" y="2282.8" width="163.8" height="285.1" fill="#d9e6c4"/>
<line x1="496.9" y1="2282.3" x2="496.9" y2="2568.9" stroke="#111" stroke-width="2.2"/>
<line x1="487.0" y1="2567.9" x2="496.9" y2="2567.9" stroke="#111" stroke-width="1.8"/>
<line x1="487.0" y1="2486.3" x2="496.9" y2="2486.3" stroke="#111" stroke-width="1.8"/>
<line x1="487.0" y1="2404.7" x2="496.9" y2="2404.7" stroke="#111" stroke-width="1.8"/>
<line x1="487.0" y1="2323.1" x2="496.9" y2="2323.1" stroke="#111" stroke-width="1.8"/>
<line x1="486.8" y1="2567.9" x2="665.7" y2="2567.9" stroke="#111" stroke-width="2.2"/>
<line x1="673.1" y1="2567.9" x2="841.9" y2="2567.9" stroke="#111" stroke-width="2.2"/>
<line x1="535.6" y1="2567.9" x2="535.6" y2="2577.4" stroke="#111" stroke-width="2"/>
<line x1="625.8" y1="2567.9" x2="625.8" y2="2577.4" stroke="#111" stroke-width="2"/>
<line x1="712.2" y1="2567.9" x2="712.2" y2="2577.4" stroke="#111" stroke-width="2"/>
<line x1="802.7" y1="2567.9" x2="802.7" y2="2577.4" stroke="#111" stroke-width="2"/>
<line x1="518.6" y1="2356.6" x2="518.6" y2="2362.3" stroke="#111" stroke-width="2.2"/>
<line x1="518.6" y1="2391.6" x2="518.6" y2="2394.1" stroke="#111" stroke-width="2.2"/>
<line x1="512.1" y1="2356.6" x2="525.1" y2="2356.6" stroke="#111" stroke-width="2.4"/>
<line x1="512.1" y1="2394.1" x2="525.1" y2="2394.1" stroke="#111" stroke-width="2.4"/>
<rect x="508.1" y="2362.3" width="21.0" height="29.4" fill="#3a3a3a" stroke="#111" stroke-width="2.4" fill-opacity="0.72"/>
<line x1="508.1" y1="2373.7" x2="529.1" y2="2373.7" stroke="#111" stroke-width="2.6"/>
<line x1="552.6" y1="2359.0" x2="552.6" y2="2360.6" stroke="#111" stroke-width="2.2"/>
<line x1="552.6" y1="2387.6" x2="552.6" y2="2389.2" stroke="#111" stroke-width="2.2"/>
<line x1="546.1" y1="2359.0" x2="559.1" y2="2359.0" stroke="#111" stroke-width="2.4"/>
<line x1="546.1" y1="2389.2" x2="559.1" y2="2389.2" stroke="#111" stroke-width="2.4"/>
<rect x="542.1" y="2360.6" width="21.0" height="26.9" fill="#f6efb0" stroke="#111" stroke-width="2.4"/>
<line x1="542.1" y1="2363.9" x2="563.1" y2="2363.9" stroke="#111" stroke-width="2.6"/>
<line x1="608.8" y1="2425.9" x2="608.8" y2="2429.2" stroke="#111" stroke-width="2.2"/>
<line x1="608.8" y1="2455.3" x2="608.8" y2="2455.3" stroke="#111" stroke-width="2.2"/>
<line x1="602.3" y1="2425.9" x2="615.3" y2="2425.9" stroke="#111" stroke-width="2.4"/>
<line x1="602.3" y1="2455.3" x2="615.3" y2="2455.3" stroke="#111" stroke-width="2.4"/>
<rect x="598.3" y="2429.2" width="21.0" height="26.1" fill="#3a3a3a" stroke="#111" stroke-width="2.4" fill-opacity="0.72"/>
<line x1="598.3" y1="2430.8" x2="619.3" y2="2430.8" stroke="#111" stroke-width="2.6"/>
<line x1="642.8" y1="2414.5" x2="642.8" y2="2422.7" stroke="#111" stroke-width="2.2"/>
<line x1="642.8" y1="2438.2" x2="642.8" y2="2440.6" stroke="#111" stroke-width="2.2"/>
<line x1="636.3" y1="2414.5" x2="649.3" y2="2414.5" stroke="#111" stroke-width="2.4"/>
<line x1="636.3" y1="2440.6" x2="649.3" y2="2440.6" stroke="#111" stroke-width="2.4"/>
<rect x="632.3" y="2422.7" width="21.0" height="15.5" fill="#f6efb0" stroke="#111" stroke-width="2.4"/>
<line x1="632.3" y1="2434.1" x2="653.3" y2="2434.1" stroke="#111" stroke-width="2.6"/>
<line x1="695.2" y1="2323.1" x2="695.2" y2="2328.8" stroke="#111" stroke-width="2.2"/>
<line x1="695.2" y1="2345.9" x2="695.2" y2="2352.5" stroke="#111" stroke-width="2.2"/>
<line x1="688.7" y1="2323.1" x2="701.7" y2="2323.1" stroke="#111" stroke-width="2.4"/>
<line x1="688.7" y1="2352.5" x2="701.7" y2="2352.5" stroke="#111" stroke-width="2.4"/>
<rect x="684.7" y="2328.8" width="21.0" height="17.1" fill="#3a3a3a" stroke="#111" stroke-width="2.4" fill-opacity="0.72"/>
<line x1="684.7" y1="2337.8" x2="705.7" y2="2337.8" stroke="#111" stroke-width="2.6"/>
<line x1="729.2" y1="2319.0" x2="729.2" y2="2319.8" stroke="#111" stroke-width="2.2"/>
<line x1="729.2" y1="2328.0" x2="729.2" y2="2331.3" stroke="#111" stroke-width="2.2"/>
<line x1="722.7" y1="2319.0" x2="735.7" y2="2319.0" stroke="#111" stroke-width="2.4"/>
<line x1="722.7" y1="2331.3" x2="735.7" y2="2331.3" stroke="#111" stroke-width="2.4"/>
<rect x="718.7" y="2319.8" width="21.0" height="8.2" fill="#f6efb0" stroke="#111" stroke-width="2.4"/>
<line x1="718.7" y1="2324.7" x2="739.7" y2="2324.7" stroke="#111" stroke-width="2.6"/>
<line x1="785.7" y1="2404.7" x2="785.7" y2="2405.5" stroke="#111" stroke-width="2.2"/>
<line x1="785.7" y1="2431.6" x2="785.7" y2="2443.1" stroke="#111" stroke-width="2.2"/>
<line x1="779.2" y1="2404.7" x2="792.2" y2="2404.7" stroke="#111" stroke-width="2.4"/>
<line x1="779.2" y1="2443.1" x2="792.2" y2="2443.1" stroke="#111" stroke-width="2.4"/>
<rect x="775.2" y="2405.5" width="21.0" height="26.1" fill="#3a3a3a" stroke="#111" stroke-width="2.4" fill-opacity="0.72"/>
<line x1="775.2" y1="2412.9" x2="796.2" y2="2412.9" stroke="#111" stroke-width="2.6"/>
<line x1="819.7" y1="2399.0" x2="819.7" y2="2399.8" stroke="#111" stroke-width="2.2"/>
<line x1="819.7" y1="2414.5" x2="819.7" y2="2422.7" stroke="#111" stroke-width="2.2"/>
<line x1="813.2" y1="2399.0" x2="826.2" y2="2399.0" stroke="#111" stroke-width="2.4"/>
<line x1="813.2" y1="2422.7" x2="826.2" y2="2422.7" stroke="#111" stroke-width="2.4"/>
<rect x="809.2" y="2399.8" width="21.0" height="14.7" fill="#f6efb0" stroke="#111" stroke-width="2.4"/>
<line x1="809.2" y1="2399.8" x2="830.2" y2="2399.8" stroke="#111" stroke-width="2.6"/>
<line x1="695.3" y1="2307.5" x2="732.0" y2="2307.5" stroke="#0c2226" stroke-width="1.8"/>
<rect x="903.1" y="2283.3" width="163.8" height="277.5" fill="#b8e9ec"/>
<rect x="1077.5" y="2283.3" width="163.8" height="277.5" fill="#d9e6c4"/>
<line x1="897.3" y1="2279.8" x2="897.3" y2="2568.9" stroke="#111" stroke-width="2.2"/>
<line x1="887.9" y1="2567.9" x2="897.3" y2="2567.9" stroke="#111" stroke-width="1.8"/>
<line x1="887.9" y1="2472.2" x2="897.3" y2="2472.2" stroke="#111" stroke-width="1.8"/>
<line x1="887.9" y1="2376.5" x2="897.3" y2="2376.5" stroke="#111" stroke-width="1.8"/>
<line x1="887.9" y1="2280.8" x2="897.3" y2="2280.8" stroke="#111" stroke-width="1.8"/>
<line x1="887.9" y1="2567.9" x2="1066.9" y2="2567.9" stroke="#111" stroke-width="2.2"/>
<line x1="1077.5" y1="2567.1" x2="1245.6" y2="2567.1" stroke="#111" stroke-width="2.2"/>
<line x1="936.7" y1="2567.9" x2="936.7" y2="2577.4" stroke="#111" stroke-width="2"/>
<line x1="1027.0" y1="2567.9" x2="1027.0" y2="2577.4" stroke="#111" stroke-width="2"/>
<line x1="1116.2" y1="2567.1" x2="1116.2" y2="2576.6" stroke="#111" stroke-width="2"/>
<line x1="1206.4" y1="2567.1" x2="1206.4" y2="2576.6" stroke="#111" stroke-width="2"/>
<line x1="919.7" y1="2364.1" x2="919.7" y2="2368.8" stroke="#111" stroke-width="2.2"/>
<line x1="919.7" y1="2390.9" x2="919.7" y2="2396.6" stroke="#111" stroke-width="2.2"/>
<line x1="913.2" y1="2364.1" x2="926.2" y2="2364.1" stroke="#111" stroke-width="2.4"/>
<line x1="913.2" y1="2396.6" x2="926.2" y2="2396.6" stroke="#111" stroke-width="2.4"/>
<rect x="909.2" y="2368.8" width="21.0" height="22.0" fill="#3a3a3a" stroke="#111" stroke-width="2.4" fill-opacity="0.72"/>
<line x1="909.2" y1="2385.1" x2="930.2" y2="2385.1" stroke="#111" stroke-width="2.6"/>
<line x1="953.7" y1="2322.9" x2="953.7" y2="2339.2" stroke="#111" stroke-width="2.2"/>
<line x1="953.7" y1="2372.7" x2="953.7" y2="2383.2" stroke="#111" stroke-width="2.2"/>
<line x1="947.2" y1="2322.9" x2="960.2" y2="2322.9" stroke="#111" stroke-width="2.4"/>
<line x1="947.2" y1="2383.2" x2="960.2" y2="2383.2" stroke="#111" stroke-width="2.4"/>
<rect x="943.2" y="2339.2" width="21.0" height="33.5" fill="#f6efb0" stroke="#111" stroke-width="2.4"/>
<line x1="943.2" y1="2360.2" x2="964.2" y2="2360.2" stroke="#111" stroke-width="2.6"/>
<line x1="1010.0" y1="2448.3" x2="1010.0" y2="2458.8" stroke="#111" stroke-width="2.2"/>
<line x1="1010.0" y1="2475.1" x2="1010.0" y2="2477.0" stroke="#111" stroke-width="2.2"/>
<line x1="1003.5" y1="2448.3" x2="1016.5" y2="2448.3" stroke="#111" stroke-width="2.4"/>
<line x1="1003.5" y1="2477.0" x2="1016.5" y2="2477.0" stroke="#111" stroke-width="2.4"/>
<rect x="999.5" y="2458.8" width="21.0" height="16.3" fill="#3a3a3a" stroke="#111" stroke-width="2.4" fill-opacity="0.72"/>
<line x1="999.5" y1="2472.2" x2="1020.5" y2="2472.2" stroke="#111" stroke-width="2.6"/>
<line x1="1044.0" y1="2443.5" x2="1044.0" y2="2447.3" stroke="#111" stroke-width="2.2"/>
<line x1="1044.0" y1="2455.0" x2="1044.0" y2="2458.8" stroke="#111" stroke-width="2.2"/>
<line x1="1037.5" y1="2443.5" x2="1050.5" y2="2443.5" stroke="#111" stroke-width="2.4"/>
<line x1="1037.5" y1="2458.8" x2="1050.5" y2="2458.8" stroke="#111" stroke-width="2.4"/>
<rect x="1033.5" y="2447.3" width="21.0" height="7.7" fill="#f6efb0" stroke="#111" stroke-width="2.4"/>
<line x1="1033.5" y1="2451.1" x2="1054.5" y2="2451.1" stroke="#111" stroke-width="2.6"/>
<line x1="1099.2" y1="2338.2" x2="1099.2" y2="2345.9" stroke="#111" stroke-width="2.2"/>
<line x1="1099.2" y1="2371.7" x2="1099.2" y2="2374.6" stroke="#111" stroke-width="2.2"/>
<line x1="1092.7" y1="2338.2" x2="1105.7" y2="2338.2" stroke="#111" stroke-width="2.4"/>
<line x1="1092.7" y1="2374.6" x2="1105.7" y2="2374.6" stroke="#111" stroke-width="2.4"/>
<rect x="1088.7" y="2345.9" width="21.0" height="25.8" fill="#3a3a3a" stroke="#111" stroke-width="2.4" fill-opacity="0.72"/>
<line x1="1088.7" y1="2367.9" x2="1109.7" y2="2367.9" stroke="#111" stroke-width="2.6"/>
<line x1="1133.2" y1="2329.6" x2="1133.2" y2="2334.4" stroke="#111" stroke-width="2.2"/>
<line x1="1133.2" y1="2356.4" x2="1133.2" y2="2362.1" stroke="#111" stroke-width="2.2"/>
<line x1="1126.7" y1="2329.6" x2="1139.7" y2="2329.6" stroke="#111" stroke-width="2.4"/>
<line x1="1126.7" y1="2362.1" x2="1139.7" y2="2362.1" stroke="#111" stroke-width="2.4"/>
<rect x="1122.7" y="2334.4" width="21.0" height="22.0" fill="#f6efb0" stroke="#111" stroke-width="2.4"/>
<line x1="1122.7" y1="2348.7" x2="1143.7" y2="2348.7" stroke="#111" stroke-width="2.6"/>
<line x1="1189.4" y1="2465.5" x2="1189.4" y2="2470.3" stroke="#111" stroke-width="2.2"/>
<line x1="1189.4" y1="2481.8" x2="1189.4" y2="2481.8" stroke="#111" stroke-width="2.2"/>
<line x1="1182.9" y1="2465.5" x2="1195.9" y2="2465.5" stroke="#111" stroke-width="2.4"/>
<line x1="1182.9" y1="2481.8" x2="1195.9" y2="2481.8" stroke="#111" stroke-width="2.4"/>
<rect x="1178.9" y="2470.3" width="21.0" height="11.5" fill="#3a3a3a" stroke="#111" stroke-width="2.4" fill-opacity="0.72"/>
<line x1="1178.9" y1="2477.0" x2="1199.9" y2="2477.0" stroke="#111" stroke-width="2.6"/>
<line x1="1223.4" y1="2451.1" x2="1223.4" y2="2455.0" stroke="#111" stroke-width="2.2"/>
<line x1="1223.4" y1="2470.3" x2="1223.4" y2="2475.1" stroke="#111" stroke-width="2.2"/>
<line x1="1216.9" y1="2451.1" x2="1229.9" y2="2451.1" stroke="#111" stroke-width="2.4"/>
<line x1="1216.9" y1="2475.1" x2="1229.9" y2="2475.1" stroke="#111" stroke-width="2.4"/>
<rect x="1212.9" y="2455.0" width="21.0" height="15.3" fill="#f6efb0" stroke="#111" stroke-width="2.4"/>
<line x1="1212.9" y1="2467.4" x2="1233.9" y2="2467.4" stroke="#111" stroke-width="2.6"/>
<line x1="918.8" y1="2313.8" x2="954.9" y2="2313.8" stroke="#0c2226" stroke-width="1.8"/>
<line x1="1006.7" y1="2313.8" x2="1043.4" y2="2313.8" stroke="#0c2226" stroke-width="1.8"/>
<line x1="1188.2" y1="2313.8" x2="1224.1" y2="2313.8" stroke="#0c2226" stroke-width="1.8"/>
<rect x="1305.2" y="2283.3" width="163.6" height="282.6" fill="#c8e8ea"/>
<rect x="1480.1" y="2284.5" width="164.4" height="281.4" fill="#d6e2be"/>
<line x1="1299.4" y1="2278.0" x2="1299.4" y2="2567.6" stroke="#111" stroke-width="2.2"/>
<line x1="1289.3" y1="2566.6" x2="1299.4" y2="2566.6" stroke="#111" stroke-width="1.8"/>
<line x1="1289.3" y1="2494.7" x2="1299.4" y2="2494.7" stroke="#111" stroke-width="1.8"/>
<line x1="1289.3" y1="2422.8" x2="1299.4" y2="2422.8" stroke="#111" stroke-width="1.8"/>
<line x1="1289.3" y1="2350.9" x2="1299.4" y2="2350.9" stroke="#111" stroke-width="1.8"/>
<line x1="1289.3" y1="2279.0" x2="1299.4" y2="2279.0" stroke="#111" stroke-width="1.8"/>
<line x1="1289.3" y1="2566.6" x2="1468.8" y2="2566.6" stroke="#111" stroke-width="2.2"/>
<line x1="1478.1" y1="2566.4" x2="1647.5" y2="2566.4" stroke="#111" stroke-width="2.2"/>
<line x1="1338.1" y1="2566.6" x2="1338.1" y2="2576.1" stroke="#111" stroke-width="2"/>
<line x1="1428.3" y1="2566.6" x2="1428.3" y2="2576.1" stroke="#111" stroke-width="2"/>
<line x1="1517.6" y1="2566.4" x2="1517.6" y2="2575.9" stroke="#111" stroke-width="2"/>
<line x1="1607.8" y1="2566.4" x2="1607.8" y2="2575.9" stroke="#111" stroke-width="2"/>
<line x1="1321.1" y1="2434.3" x2="1321.1" y2="2437.2" stroke="#111" stroke-width="2.2"/>
<line x1="1321.1" y1="2463.1" x2="1321.1" y2="2470.3" stroke="#111" stroke-width="2.2"/>
<line x1="1314.6" y1="2434.3" x2="1327.6" y2="2434.3" stroke="#111" stroke-width="2.4"/>
<line x1="1314.6" y1="2470.3" x2="1327.6" y2="2470.3" stroke="#111" stroke-width="2.4"/>
<rect x="1310.6" y="2437.2" width="21.0" height="25.9" fill="#3a3a3a" stroke="#111" stroke-width="2.4" fill-opacity="0.72"/>
<line x1="1310.6" y1="2444.4" x2="1331.6" y2="2444.4" stroke="#111" stroke-width="2.6"/>
<line x1="1355.1" y1="2451.6" x2="1355.1" y2="2454.4" stroke="#111" stroke-width="2.2"/>
<line x1="1355.1" y1="2478.9" x2="1355.1" y2="2480.3" stroke="#111" stroke-width="2.2"/>
<line x1="1348.6" y1="2451.6" x2="1361.6" y2="2451.6" stroke="#111" stroke-width="2.4"/>
<line x1="1348.6" y1="2480.3" x2="1361.6" y2="2480.3" stroke="#111" stroke-width="2.4"/>
<rect x="1344.6" y="2454.4" width="21.0" height="24.4" fill="#f6efb0" stroke="#111" stroke-width="2.4"/>
<line x1="1344.6" y1="2463.1" x2="1365.6" y2="2463.1" stroke="#111" stroke-width="2.6"/>
<line x1="1411.3" y1="2417.0" x2="1411.3" y2="2431.4" stroke="#111" stroke-width="2.2"/>
<line x1="1411.3" y1="2478.9" x2="1411.3" y2="2483.2" stroke="#111" stroke-width="2.2"/>
<line x1="1404.8" y1="2417.0" x2="1417.8" y2="2417.0" stroke="#111" stroke-width="2.4"/>
<line x1="1404.8" y1="2483.2" x2="1417.8" y2="2483.2" stroke="#111" stroke-width="2.4"/>
<rect x="1400.8" y="2431.4" width="21.0" height="47.5" fill="#3a3a3a" stroke="#111" stroke-width="2.4" fill-opacity="0.72"/>
<line x1="1400.8" y1="2461.6" x2="1421.8" y2="2461.6" stroke="#111" stroke-width="2.6"/>
<line x1="1445.3" y1="2447.2" x2="1445.3" y2="2461.6" stroke="#111" stroke-width="2.2"/>
<line x1="1445.3" y1="2504.8" x2="1445.3" y2="2510.5" stroke="#111" stroke-width="2.2"/>
<line x1="1438.8" y1="2447.2" x2="1451.8" y2="2447.2" stroke="#111" stroke-width="2.4"/>
<line x1="1438.8" y1="2510.5" x2="1451.8" y2="2510.5" stroke="#111" stroke-width="2.4"/>
<rect x="1434.8" y="2461.6" width="21.0" height="43.1" fill="#f6efb0" stroke="#111" stroke-width="2.4"/>
<line x1="1434.8" y1="2483.2" x2="1455.8" y2="2483.2" stroke="#111" stroke-width="2.6"/>
<line x1="1500.6" y1="2382.5" x2="1500.6" y2="2394.0" stroke="#111" stroke-width="2.2"/>
<line x1="1500.6" y1="2448.7" x2="1500.6" y2="2451.6" stroke="#111" stroke-width="2.2"/>
<line x1="1494.1" y1="2382.5" x2="1507.1" y2="2382.5" stroke="#111" stroke-width="2.4"/>
<line x1="1494.1" y1="2451.6" x2="1507.1" y2="2451.6" stroke="#111" stroke-width="2.4"/>
<rect x="1490.1" y="2394.0" width="21.0" height="54.6" fill="#3a3a3a" stroke="#111" stroke-width="2.4" fill-opacity="0.72"/>
<line x1="1490.1" y1="2425.7" x2="1511.1" y2="2425.7" stroke="#111" stroke-width="2.6"/>
<line x1="1534.6" y1="2409.9" x2="1534.6" y2="2409.9" stroke="#111" stroke-width="2.2"/>
<line x1="1534.6" y1="2417.0" x2="1534.6" y2="2417.0" stroke="#111" stroke-width="2.2"/>
<line x1="1528.1" y1="2409.9" x2="1541.1" y2="2409.9" stroke="#111" stroke-width="2.4"/>
<line x1="1528.1" y1="2417.0" x2="1541.1" y2="2417.0" stroke="#111" stroke-width="2.4"/>
<rect x="1524.1" y="2409.9" width="21.0" height="7.2" fill="#f6efb0" stroke="#111" stroke-width="2.4"/>
<line x1="1524.1" y1="2412.7" x2="1545.1" y2="2412.7" stroke="#111" stroke-width="2.6"/>
<line x1="1590.8" y1="2346.6" x2="1590.8" y2="2362.4" stroke="#111" stroke-width="2.2"/>
<line x1="1590.8" y1="2467.4" x2="1590.8" y2="2477.4" stroke="#111" stroke-width="2.2"/>
<line x1="1584.3" y1="2346.6" x2="1597.3" y2="2346.6" stroke="#111" stroke-width="2.4"/>
<line x1="1584.3" y1="2477.4" x2="1597.3" y2="2477.4" stroke="#111" stroke-width="2.4"/>
<rect x="1580.3" y="2362.4" width="21.0" height="105.0" fill="#3a3a3a" stroke="#111" stroke-width="2.4" fill-opacity="0.72"/>
<line x1="1580.3" y1="2448.7" x2="1601.3" y2="2448.7" stroke="#111" stroke-width="2.6"/>
<line x1="1624.8" y1="2384.0" x2="1624.8" y2="2385.4" stroke="#111" stroke-width="2.2"/>
<line x1="1624.8" y1="2404.1" x2="1624.8" y2="2408.4" stroke="#111" stroke-width="2.2"/>
<line x1="1618.3" y1="2384.0" x2="1631.3" y2="2384.0" stroke="#111" stroke-width="2.4"/>
<line x1="1618.3" y1="2408.4" x2="1631.3" y2="2408.4" stroke="#111" stroke-width="2.4"/>
<rect x="1614.3" y="2385.4" width="21.0" height="18.7" fill="#f6efb0" stroke="#111" stroke-width="2.4"/>
<line x1="1614.3" y1="2394.0" x2="1635.3" y2="2394.0" stroke="#111" stroke-width="2.6"/>
<line x1="36.3" y1="2631.1" x2="36.3" y2="2577.1" stroke="#000" stroke-width="1.8"/>
<polygon points="36.3,2571.6 33.0,2578.1 39.5,2578.1" fill="#000"/>
<line x1="35.4" y1="2630.2" x2="90.0" y2="2630.2" stroke="#000" stroke-width="1.8"/>
<polygon points="96.0,2630.2 89.0,2627.2 89.0,2633.2" fill="#000"/>
<rect x="1827.7" y="2357.4" width="44.4" height="24.7" fill="#7a7a7a" stroke="#111" stroke-width="2.4"/>
<rect x="1827.4" y="2414.8" width="44.2" height="24.1" fill="#f5f2b8" stroke="#111" stroke-width="2.4"/>
<text transform="translate(42.21,27.60) scale(0.8482,1)" font-size="51.95" fill="#1a1a1a" stroke="#1a1a1a" stroke-width="0.65" stroke-linejoin="round" font-weight="bold">a</text>
<text transform="translate(281.33,30.90) scale(1.0888,1)" font-size="33.28" fill="#000" stroke="#000" stroke-width="0.65" stroke-linejoin="round">Total cells</text>
<text transform="translate(887.51,30.90) scale(1.1166,1)" font-size="32.00" fill="#000" stroke="#000" stroke-width="0.65" stroke-linejoin="round">Epithelial cells</text>
<text transform="translate(1356.21,30.90) scale(1.1148,1)" font-size="32.00" fill="#000" stroke="#000" stroke-width="0.65" stroke-linejoin="round">Luminal cells</text>
<text transform="translate(537.60,155.20) scale(1.1383,1)" font-size="28.02" fill="#000" stroke="#000" stroke-width="0.59" stroke-linejoin="round">Stroma</text>
<text transform="translate(243.50,435.83) rotate(-90) scale(0.9044,1)" font-size="36.84" fill="#000" stroke="#000" stroke-width="0.65" stroke-linejoin="round">UMAP 2</text>
<text transform="translate(254.82,470.00) scale(1.0380,1)" font-size="33.56" fill="#000" stroke="#000" stroke-width="0.65" stroke-linejoin="round">UMAP 1</text>
<text transform="translate(988.43,141.50) scale(1.1590,1)" font-size="32.85" fill="#000" stroke="#000" stroke-width="0.65" stroke-linejoin="round">LP</text>
<text transform="translate(962.49,345.40) scale(1.1276,1)" font-size="31.86" fill="#000" stroke="#000" stroke-width="0.65" stroke-linejoin="round">ML</text>
<text transform="translate(1169.97,206.30) scale(1.1185,1)" font-size="32.43" fill="#000" stroke="#000" stroke-width="0.65" stroke-linejoin="round">Basal</text>
<text transform="translate(841.50,427.08) rotate(-90) scale(0.8676,1)" font-size="38.40" fill="#000" stroke="#000" stroke-width="0.65" stroke-linejoin="round">UMAP 2</text>
<text transform="translate(852.22,460.90) scale(1.1759,1)" font-size="29.72" fill="#000" stroke="#000" stroke-width="0.62" stroke-linejoin="round">UMAP 1</text>
<text transform="translate(1431.14,269.60) scale(1.1148,1)" font-size="32.85" fill="#000" stroke="#000" stroke-width="0.65" stroke-linejoin="round">LP</text>
<text transform="translate(1654.48,269.60) scale(1.1005,1)" font-size="32.85" fill="#000" stroke="#000" stroke-width="0.65" stroke-linejoin="round">ML</text>
<text transform="translate(1306.50,424.06) rotate(-90) scale(0.9071,1)" font-size="36.27" fill="#000" stroke="#000" stroke-width="0.65" stroke-linejoin="round">UMAP 2</text>
<text transform="translate(1317.81,458.50) scale(1.1440,1)" font-size="30.58" fill="#000" stroke="#000" stroke-width="0.64" stroke-linejoin="round">UMAP 1</text>
<text transform="translate(41.84,594.00) scale(1.0809,1)" font-size="49.70" fill="#1a1a1a" stroke="#1a1a1a" stroke-width="0.65" stroke-linejoin="round" font-weight="bold">b</text>
<text transform="translate(176.00,601.40) scale(1.0419,1)" font-size="34.42" fill="#000" stroke="#000" stroke-width="0.65" stroke-linejoin="round">EPCAM</text>
<text transform="translate(389.94,604.50) scale(1.0285,1)" font-size="34.42" fill="#000" stroke="#000" stroke-width="0.65" stroke-linejoin="round">CD49f</text>
<text transform="translate(594.87,604.20) scale(1.0785,1)" font-size="33.56" fill="#000" stroke="#000" stroke-width="0.65" stroke-linejoin="round">K8/18</text>
<text transform="translate(820.61,604.20) scale(1.1033,1)" font-size="33.56" fill="#000" stroke="#000" stroke-width="0.65" stroke-linejoin="round">K5</text>
<text transform="translate(211.60,835.00) scale(1.0533,1)" font-size="33.14" fill="#000" stroke="#000" stroke-width="0.65" stroke-linejoin="round">VIM</text>
<text transform="translate(392.30,837.00) scale(1.0240,1)" font-size="33.71" fill="#000" stroke="#000" stroke-width="0.65" stroke-linejoin="round">MUC1</text>
<text transform="translate(583.53,837.20) scale(1.1043,1)" font-size="34.13" fill="#000" stroke="#000" stroke-width="0.65" stroke-linejoin="round">GATA3</text>
<text transform="translate(814.59,837.20) scale(1.0532,1)" font-size="34.13" fill="#000" stroke="#000" stroke-width="0.65" stroke-linejoin="round">KIT</text>
<text transform="translate(103.00,1058.09) rotate(-90) scale(0.8705,1)" font-size="38.40" fill="#000" stroke="#000" stroke-width="0.65" stroke-linejoin="round">UMAP 2</text>
<text transform="translate(113.53,1092.70) scale(1.1017,1)" font-size="31.57" fill="#000" stroke="#000" stroke-width="0.65" stroke-linejoin="round">UMAP 1</text>
<text transform="translate(1010.96,695.50) scale(1.1217,1)" font-size="21.19" fill="#000" stroke="#000" stroke-width="0.45" stroke-linejoin="round">Scaled</text>
<text transform="translate(1010.96,717.80) scale(0.9137,1)" font-size="25.98" fill="#000" stroke="#000" stroke-width="0.55" stroke-linejoin="round">expression</text>
<text transform="translate(1044.98,744.00) scale(1.1476,1)" font-size="15.79" fill="#000" stroke="#000" stroke-width="0.33" stroke-linejoin="round">HIGH</text>
<text transform="translate(1045.01,857.50) scale(1.1197,1)" font-size="15.93" fill="#000" stroke="#000" stroke-width="0.33" stroke-linejoin="round">LOW</text>
<text transform="translate(1143.41,594.00) scale(1.0625,1)" font-size="48.00" fill="#1a1a1a" stroke="#1a1a1a" stroke-width="0.65" stroke-linejoin="round" font-weight="bold">c</text>
<text transform="translate(1235.27,591.60) scale(1.0875,1)" font-size="32.14" fill="#000" stroke="#000" stroke-width="0.65" stroke-linejoin="round">Basal</text>
<text transform="translate(1278.64,669.50) scale(1.1198,1)" font-size="31.57" fill="#000" stroke="#000" stroke-width="0.65" stroke-linejoin="round">LP</text>
<text transform="translate(1272.69,747.50) scale(1.0983,1)" font-size="31.57" fill="#000" stroke="#000" stroke-width="0.65" stroke-linejoin="round">ML</text>
<text transform="translate(1381.20,850.40) rotate(-90) scale(0.9209,1)" font-size="29.16" fill="#000" stroke="#000" stroke-width="0.61" stroke-linejoin="round">EpCAM</text>
<text transform="translate(1460.00,835.74) rotate(-90) scale(0.9094,1)" font-size="29.16" fill="#000" stroke="#000" stroke-width="0.61" stroke-linejoin="round">CD49f</text>
<text transform="translate(1534.00,830.73) rotate(-90) scale(0.9184,1)" font-size="29.72" fill="#000" stroke="#000" stroke-width="0.62" stroke-linejoin="round">K8/18</text>
<text transform="translate(1607.70,793.29) rotate(-90) scale(0.8654,1)" font-size="30.86" fill="#000" stroke="#000" stroke-width="0.65" stroke-linejoin="round">K5</text>
<text transform="translate(1679.70,806.20) rotate(-90) scale(0.9032,1)" font-size="29.58" fill="#000" stroke="#000" stroke-width="0.62" stroke-linejoin="round">VIM</text>
<text transform="translate(1753.40,831.84) rotate(-90) scale(0.8450,1)" font-size="30.86" fill="#000" stroke="#000" stroke-width="0.65" stroke-linejoin="round">MUC1</text>
<text transform="translate(1827.00,846.92) rotate(-90) scale(0.8830,1)" font-size="31.86" fill="#000" stroke="#000" stroke-width="0.65" stroke-linejoin="round">GATA3</text>
<text transform="translate(1899.90,803.00) rotate(-90) scale(0.8783,1)" font-size="29.16" fill="#000" stroke="#000" stroke-width="0.61" stroke-linejoin="round">KIT</text>
<text transform="translate(1972.80,805.91) rotate(-90) scale(0.8905,1)" font-size="30.29" fill="#000" stroke="#000" stroke-width="0.64" stroke-linejoin="round">K19</text>
<text transform="translate(1497.62,908.60) scale(1.1256,1)" font-size="20.20" fill="#000" stroke="#000" stroke-width="0.42" stroke-linejoin="round">Fraction of cells</text>
<text transform="translate(1497.98,931.00) scale(1.1488,1)" font-size="19.80" fill="#000" stroke="#000" stroke-width="0.42" stroke-linejoin="round">in group (%)</text>
<text transform="translate(1676.83,908.60) scale(1.1211,1)" font-size="20.20" fill="#000" stroke="#000" stroke-width="0.42" stroke-linejoin="round">Median expression</text>
<text transform="translate(1677.18,931.00) scale(1.1494,1)" font-size="19.80" fill="#000" stroke="#000" stroke-width="0.42" stroke-linejoin="round">in group</text>
<text transform="translate(1565.10,967.30) scale(1.0011,1)" font-size="19.20" fill="#000" stroke="#000" stroke-width="0.40" stroke-linejoin="round">10</text>
<text transform="translate(1565.72,1002.70) scale(0.9715,1)" font-size="19.20" fill="#000" stroke="#000" stroke-width="0.40" stroke-linejoin="round">50</text>
<text transform="translate(1565.41,1047.20) scale(0.9861,1)" font-size="19.20" fill="#000" stroke="#000" stroke-width="0.40" stroke-linejoin="round">90</text>
<text transform="translate(1713.41,956.60) scale(1.0174,1)" font-size="18.49" fill="#000" stroke="#000" stroke-width="0.39" stroke-linejoin="round">0.8</text>
<text transform="translate(1713.42,1011.80) scale(1.0055,1)" font-size="18.49" fill="#000" stroke="#000" stroke-width="0.39" stroke-linejoin="round">0.4</text>
<text transform="translate(1713.42,1066.90) scale(1.0055,1)" font-size="18.49" fill="#000" stroke="#000" stroke-width="0.39" stroke-linejoin="round">0.0</text>
<text transform="translate(45.83,1226.00) scale(1.0643,1)" font-size="50.11" fill="#1a1a1a" stroke="#1a1a1a" stroke-width="0.65" stroke-linejoin="round" font-weight="bold">d</text>
<text transform="translate(168.10,1651.33) rotate(-90) scale(0.8692,1)" font-size="39.25" fill="#000" stroke="#000" stroke-width="0.65" stroke-linejoin="round">UMAP 2</text>
<text transform="translate(179.47,1686.70) scale(1.0936,1)" font-size="32.57" fill="#000" stroke="#000" stroke-width="0.65" stroke-linejoin="round">UMAP 1</text>
<text transform="translate(702.16,1320.20) scale(1.0676,1)" font-size="33.99" fill="#000" stroke="#000" stroke-width="0.65" stroke-linejoin="round">ID014</text>
<text transform="translate(702.12,1353.23) scale(1.0846,1)" font-size="33.99" fill="#000" stroke="#000" stroke-width="0.65" stroke-linejoin="round">ID148</text>
<text transform="translate(702.12,1386.26) scale(1.0861,1)" font-size="33.99" fill="#000" stroke="#000" stroke-width="0.65" stroke-linejoin="round">ID57</text>
<text transform="translate(702.12,1419.29) scale(1.0846,1)" font-size="33.99" fill="#000" stroke="#000" stroke-width="0.65" stroke-linejoin="round">ID107</text>
<text transform="translate(702.12,1452.32) scale(1.0861,1)" font-size="33.99" fill="#000" stroke="#000" stroke-width="0.65" stroke-linejoin="round">ID75</text>
<text transform="translate(702.12,1485.35) scale(1.0846,1)" font-size="33.99" fill="#000" stroke="#000" stroke-width="0.65" stroke-linejoin="round">ID613</text>
<text transform="translate(702.12,1518.38) scale(1.0846,1)" font-size="33.99" fill="#000" stroke="#000" stroke-width="0.65" stroke-linejoin="round">ID059</text>
<text transform="translate(702.12,1551.41) scale(1.0846,1)" font-size="33.99" fill="#000" stroke="#000" stroke-width="0.65" stroke-linejoin="round">ID477</text>
<text transform="translate(702.12,1584.44) scale(1.0846,1)" font-size="33.99" fill="#000" stroke="#000" stroke-width="0.65" stroke-linejoin="round">ID009</text>
<text transform="translate(702.33,1617.47) scale(1.0049,1)" font-size="33.99" fill="#000" stroke="#000" stroke-width="0.65" stroke-linejoin="round">ID1</text>
<text transform="translate(655.90,1402.10) rotate(-90) scale(0.8084,1)" font-size="36.12" fill="#000" stroke="#000" stroke-width="0.65" stroke-linejoin="round">WT</text>
<text transform="translate(655.90,1623.72) rotate(-90) scale(0.9284,1)" font-size="36.12" fill="#000" stroke="#000" stroke-width="0.65" stroke-linejoin="round" font-style="italic">BRCA2</text>
<text transform="translate(626.00,1509.19) rotate(-90) scale(1.0543,1)" font-size="23.83" fill="#000" stroke="#000" stroke-width="0.50" stroke-linejoin="round" font-style="italic">mut/+</text>
<text transform="translate(1088.16,1221.30) scale(0.9720,1)" font-size="50.82" fill="#1a1a1a" stroke="#1a1a1a" stroke-width="0.65" stroke-linejoin="round" font-weight="bold">e</text>
<text transform="translate(1413.59,1237.10) scale(0.9821,1)" font-size="31.43" fill="#000" stroke="#000" stroke-width="0.65" stroke-linejoin="round">ML</text>
<text transform="translate(1551.58,1237.10) scale(0.9865,1)" font-size="31.43" fill="#000" stroke="#000" stroke-width="0.65" stroke-linejoin="round">LP</text>
<text transform="translate(1695.29,1234.70) scale(1.0214,1)" font-size="30.15" fill="#000" stroke="#000" stroke-width="0.63" stroke-linejoin="round">Basal</text>
<text transform="translate(1215.00,1283.20) scale(1.0532,1)" font-size="25.88" fill="#000" stroke="#000" stroke-width="0.54" stroke-linejoin="round">100</text>
<text transform="translate(1230.02,1457.30) scale(1.1983,1)" font-size="23.47" fill="#000" stroke="#000" stroke-width="0.49" stroke-linejoin="round">50</text>
<text transform="translate(1245.72,1632.10) scale(1.1932,1)" font-size="23.47" fill="#000" stroke="#000" stroke-width="0.49" stroke-linejoin="round">0</text>
<text transform="translate(1207.00,1582.93) rotate(-90) scale(0.8578,1)" font-size="42.24" fill="#000" stroke="#000" stroke-width="0.65" stroke-linejoin="round">% Epithelial cells</text>
<text transform="translate(1396.90,1711.40) scale(1.0500,1)" font-size="36.98" fill="#000" stroke="#000" stroke-width="0.65" stroke-linejoin="round">WT</text>
<text transform="translate(1597.09,1711.40) scale(1.0492,1)" font-size="36.98" fill="#000" stroke="#000" stroke-width="0.65" stroke-linejoin="round" font-style="italic">BRCA2</text>
<text transform="translate(1729.79,1689.50) scale(1.1753,1)" font-size="22.47" fill="#000" stroke="#000" stroke-width="0.47" stroke-linejoin="round" font-style="italic">mut/+</text>
<text transform="translate(43.06,1819.40) scale(1.0824,1)" font-size="49.84" fill="#1a1a1a" stroke="#1a1a1a" stroke-width="0.65" stroke-linejoin="round" font-weight="bold">f</text>
<text transform="translate(54.30,2178.35) scale(0.9836,1)" font-size="26.03" fill="#000" stroke="#000" stroke-width="0.55" stroke-linejoin="round">0</text>
<text transform="translate(53.33,2082.75) scale(1.0854,1)" font-size="26.03" fill="#000" stroke="#000" stroke-width="0.55" stroke-linejoin="round">1</text>
<text transform="translate(53.82,1987.15) scale(1.0492,1)" font-size="26.03" fill="#000" stroke="#000" stroke-width="0.55" stroke-linejoin="round">2</text>
<text transform="translate(54.27,1891.55) scale(1.0153,1)" font-size="26.03" fill="#000" stroke="#000" stroke-width="0.55" stroke-linejoin="round">3</text>
<text transform="translate(94.97,2207.00) scale(0.9765,1)" font-size="30.58" fill="#000" stroke="#000" stroke-width="0.64" stroke-linejoin="round">High</text>
<text transform="translate(188.44,2207.00) scale(0.9468,1)" font-size="30.58" fill="#000" stroke="#000" stroke-width="0.64" stroke-linejoin="round">Low</text>
<text transform="translate(275.77,2207.00) scale(0.9765,1)" font-size="30.58" fill="#000" stroke="#000" stroke-width="0.64" stroke-linejoin="round">High</text>
<text transform="translate(369.14,2207.00) scale(0.9468,1)" font-size="30.58" fill="#000" stroke="#000" stroke-width="0.64" stroke-linejoin="round">Low</text>
<text transform="translate(92.16,2160.60) scale(0.9815,1)" font-size="30.58" fill="#000" stroke="#000" stroke-width="0.64" stroke-linejoin="round">ML</text>
<text transform="translate(269.02,2160.60) scale(0.9962,1)" font-size="30.58" fill="#000" stroke="#000" stroke-width="0.64" stroke-linejoin="round">LP</text>
<text transform="translate(225.59,1864.90) scale(1.0000,1)" font-size="35.98" fill="#000" stroke="#000" stroke-width="0.65" stroke-linejoin="round">MYC</text>
<text transform="translate(91.62,1900.80) scale(1.0444,1)" font-size="17.35" fill="#0c2226" stroke="#0c2226" stroke-width="0.36" stroke-linejoin="round"><tspan font-style="italic">P</tspan><tspan>=0.001</tspan></text>
<text transform="translate(178.82,1900.80) scale(1.0335,1)" font-size="17.35" fill="#0c2226" stroke="#0c2226" stroke-width="0.36" stroke-linejoin="round"><tspan font-style="italic">P</tspan><tspan>=0.027</tspan></text>
<text transform="translate(272.92,1900.80) scale(1.0475,1)" font-size="17.35" fill="#0c2226" stroke="#0c2226" stroke-width="0.36" stroke-linejoin="round"><tspan font-style="italic">P</tspan><tspan>=0.045</tspan></text>
<text transform="translate(459.53,2080.55) scale(1.0854,1)" font-size="26.03" fill="#000" stroke="#000" stroke-width="0.55" stroke-linejoin="round">1</text>
<text transform="translate(460.02,1984.05) scale(1.0492,1)" font-size="26.03" fill="#000" stroke="#000" stroke-width="0.55" stroke-linejoin="round">2</text>
<text transform="translate(460.47,1887.55) scale(1.0153,1)" font-size="26.03" fill="#000" stroke="#000" stroke-width="0.55" stroke-linejoin="round">3</text>
<text transform="translate(506.27,2203.00) scale(0.9765,1)" font-size="30.58" fill="#000" stroke="#000" stroke-width="0.64" stroke-linejoin="round">High</text>
<text transform="translate(600.94,2203.00) scale(0.9468,1)" font-size="30.58" fill="#000" stroke="#000" stroke-width="0.64" stroke-linejoin="round">Low</text>
<text transform="translate(686.77,2203.00) scale(0.9765,1)" font-size="30.58" fill="#000" stroke="#000" stroke-width="0.64" stroke-linejoin="round">High</text>
<text transform="translate(780.94,2203.00) scale(0.9468,1)" font-size="30.58" fill="#000" stroke="#000" stroke-width="0.64" stroke-linejoin="round">Low</text>
<text transform="translate(508.96,2155.00) scale(0.9815,1)" font-size="30.58" fill="#000" stroke="#000" stroke-width="0.64" stroke-linejoin="round">ML</text>
<text transform="translate(685.82,2155.00) scale(0.9962,1)" font-size="30.58" fill="#000" stroke="#000" stroke-width="0.64" stroke-linejoin="round">LP</text>
<text transform="translate(644.97,1863.50) scale(1.0388,1)" font-size="34.84" fill="#000" stroke="#000" stroke-width="0.65" stroke-linejoin="round">ER</text>
<text transform="translate(868.80,2177.85) scale(0.9836,1)" font-size="26.03" fill="#000" stroke="#000" stroke-width="0.55" stroke-linejoin="round">0</text>
<text transform="translate(867.83,2105.25) scale(1.0854,1)" font-size="26.03" fill="#000" stroke="#000" stroke-width="0.55" stroke-linejoin="round">1</text>
<text transform="translate(868.32,2032.65) scale(1.0492,1)" font-size="26.03" fill="#000" stroke="#000" stroke-width="0.55" stroke-linejoin="round">2</text>
<text transform="translate(868.77,1960.05) scale(1.0153,1)" font-size="26.03" fill="#000" stroke="#000" stroke-width="0.55" stroke-linejoin="round">3</text>
<text transform="translate(869.21,1887.45) scale(0.9538,1)" font-size="26.03" fill="#000" stroke="#000" stroke-width="0.55" stroke-linejoin="round">4</text>
<text transform="translate(909.97,2203.00) scale(0.9765,1)" font-size="30.58" fill="#000" stroke="#000" stroke-width="0.64" stroke-linejoin="round">High</text>
<text transform="translate(1004.64,2203.00) scale(0.9468,1)" font-size="30.58" fill="#000" stroke="#000" stroke-width="0.64" stroke-linejoin="round">Low</text>
<text transform="translate(1089.37,2203.00) scale(0.9765,1)" font-size="30.58" fill="#000" stroke="#000" stroke-width="0.64" stroke-linejoin="round">High</text>
<text transform="translate(1183.54,2203.00) scale(0.9468,1)" font-size="30.58" fill="#000" stroke="#000" stroke-width="0.64" stroke-linejoin="round">Low</text>
<text transform="translate(909.56,2155.00) scale(0.9815,1)" font-size="30.58" fill="#000" stroke="#000" stroke-width="0.64" stroke-linejoin="round">ML</text>
<text transform="translate(1086.52,2155.00) scale(0.9962,1)" font-size="30.58" fill="#000" stroke="#000" stroke-width="0.64" stroke-linejoin="round">LP</text>
<text transform="translate(1011.27,1863.50) scale(1.0610,1)" font-size="34.84" fill="#000" stroke="#000" stroke-width="0.65" stroke-linejoin="round">GATA3</text>
<text transform="translate(908.32,1900.40) scale(1.0257,1)" font-size="17.35" fill="#0c2226" stroke="#0c2226" stroke-width="0.36" stroke-linejoin="round"><tspan font-style="italic">P</tspan><tspan>=0.021</tspan></text>
<text transform="translate(1000.12,1900.40) scale(1.0366,1)" font-size="17.35" fill="#0c2226" stroke="#0c2226" stroke-width="0.36" stroke-linejoin="round"><tspan font-style="italic">P</tspan><tspan>=0.035</tspan></text>
<text transform="translate(1266.20,2179.85) scale(0.9836,1)" font-size="26.03" fill="#000" stroke="#000" stroke-width="0.55" stroke-linejoin="round">0</text>
<text transform="translate(1265.23,2107.45) scale(1.0854,1)" font-size="26.03" fill="#000" stroke="#000" stroke-width="0.55" stroke-linejoin="round">1</text>
<text transform="translate(1265.72,2035.05) scale(1.0492,1)" font-size="26.03" fill="#000" stroke="#000" stroke-width="0.55" stroke-linejoin="round">2</text>
<text transform="translate(1266.17,1962.65) scale(1.0153,1)" font-size="26.03" fill="#000" stroke="#000" stroke-width="0.55" stroke-linejoin="round">3</text>
<text transform="translate(1266.61,1890.25) scale(0.9538,1)" font-size="26.03" fill="#000" stroke="#000" stroke-width="0.55" stroke-linejoin="round">4</text>
<text transform="translate(1309.97,2208.10) scale(0.9765,1)" font-size="30.58" fill="#000" stroke="#000" stroke-width="0.64" stroke-linejoin="round">High</text>
<text transform="translate(1404.14,2208.10) scale(0.9468,1)" font-size="30.58" fill="#000" stroke="#000" stroke-width="0.64" stroke-linejoin="round">Low</text>
<text transform="translate(1486.87,2208.10) scale(0.9765,1)" font-size="30.58" fill="#000" stroke="#000" stroke-width="0.64" stroke-linejoin="round">High</text>
<text transform="translate(1581.54,2208.10) scale(0.9468,1)" font-size="30.58" fill="#000" stroke="#000" stroke-width="0.64" stroke-linejoin="round">Low</text>
<text transform="translate(1313.86,2155.00) scale(0.9815,1)" font-size="30.58" fill="#000" stroke="#000" stroke-width="0.64" stroke-linejoin="round">ML</text>
<text transform="translate(1490.82,2155.00) scale(0.9962,1)" font-size="30.58" fill="#000" stroke="#000" stroke-width="0.64" stroke-linejoin="round">LP</text>
<text transform="translate(1416.68,1863.50) scale(1.1350,1)" font-size="31.29" fill="#000" stroke="#000" stroke-width="0.65" stroke-linejoin="round">p-PLCg</text>
<text transform="translate(1673.83,2178.85) scale(0.9505,1)" font-size="26.03" fill="#000" stroke="#000" stroke-width="0.55" stroke-linejoin="round">0.0</text>
<text transform="translate(1673.82,2120.75) scale(0.9617,1)" font-size="26.03" fill="#000" stroke="#000" stroke-width="0.55" stroke-linejoin="round">0.2</text>
<text transform="translate(1673.83,2062.65) scale(0.9505,1)" font-size="26.03" fill="#000" stroke="#000" stroke-width="0.55" stroke-linejoin="round">0.4</text>
<text transform="translate(1673.82,2004.55) scale(0.9617,1)" font-size="26.03" fill="#000" stroke="#000" stroke-width="0.55" stroke-linejoin="round">0.6</text>
<text transform="translate(1673.82,1946.45) scale(0.9617,1)" font-size="26.03" fill="#000" stroke="#000" stroke-width="0.55" stroke-linejoin="round">0.8</text>
<text transform="translate(1673.02,1888.35) scale(0.9733,1)" font-size="26.03" fill="#000" stroke="#000" stroke-width="0.55" stroke-linejoin="round">1.0</text>
<text transform="translate(1733.37,2205.30) scale(0.9765,1)" font-size="30.58" fill="#000" stroke="#000" stroke-width="0.64" stroke-linejoin="round">High</text>
<text transform="translate(1831.34,2205.30) scale(0.9468,1)" font-size="30.58" fill="#000" stroke="#000" stroke-width="0.64" stroke-linejoin="round">Low</text>
<text transform="translate(1919.17,2205.30) scale(0.9765,1)" font-size="30.58" fill="#000" stroke="#000" stroke-width="0.64" stroke-linejoin="round">High</text>
<text transform="translate(2017.64,2205.30) scale(0.9468,1)" font-size="30.58" fill="#000" stroke="#000" stroke-width="0.64" stroke-linejoin="round">Low</text>
<text transform="translate(1732.06,1914.80) scale(0.9815,1)" font-size="30.58" fill="#000" stroke="#000" stroke-width="0.64" stroke-linejoin="round">ML</text>
<text transform="translate(1922.12,1914.80) scale(0.9962,1)" font-size="30.58" fill="#000" stroke="#000" stroke-width="0.64" stroke-linejoin="round">LP</text>
<text transform="translate(1878.44,1863.50) scale(1.0316,1)" font-size="34.84" fill="#000" stroke="#000" stroke-width="0.65" stroke-linejoin="round">TP53</text>
<text transform="translate(55.40,2577.05) scale(0.9836,1)" font-size="26.03" fill="#000" stroke="#000" stroke-width="0.55" stroke-linejoin="round">0</text>
<text transform="translate(54.43,2481.75) scale(1.0854,1)" font-size="26.03" fill="#000" stroke="#000" stroke-width="0.55" stroke-linejoin="round">1</text>
<text transform="translate(54.92,2386.45) scale(1.0492,1)" font-size="26.03" fill="#000" stroke="#000" stroke-width="0.55" stroke-linejoin="round">2</text>
<text transform="translate(55.37,2291.15) scale(1.0153,1)" font-size="26.03" fill="#000" stroke="#000" stroke-width="0.55" stroke-linejoin="round">3</text>
<text transform="translate(96.87,2605.30) scale(0.9765,1)" font-size="30.58" fill="#000" stroke="#000" stroke-width="0.64" stroke-linejoin="round">High</text>
<text transform="translate(190.14,2605.30) scale(0.9468,1)" font-size="30.58" fill="#000" stroke="#000" stroke-width="0.64" stroke-linejoin="round">Low</text>
<text transform="translate(274.87,2605.30) scale(0.9765,1)" font-size="30.58" fill="#000" stroke="#000" stroke-width="0.64" stroke-linejoin="round">High</text>
<text transform="translate(367.74,2605.30) scale(0.9468,1)" font-size="30.58" fill="#000" stroke="#000" stroke-width="0.64" stroke-linejoin="round">Low</text>
<text transform="translate(90.16,2559.40) scale(0.9815,1)" font-size="30.58" fill="#000" stroke="#000" stroke-width="0.64" stroke-linejoin="round">ML</text>
<text transform="translate(268.02,2559.40) scale(0.9962,1)" font-size="30.58" fill="#000" stroke="#000" stroke-width="0.64" stroke-linejoin="round">LP</text>
<text transform="translate(216.83,2263.30) scale(1.0832,1)" font-size="32.71" fill="#000" stroke="#000" stroke-width="0.65" stroke-linejoin="round">BCLxL</text>
<text transform="translate(272.82,2302.50) scale(1.0460,1)" font-size="17.35" fill="#0c2226" stroke="#0c2226" stroke-width="0.36" stroke-linejoin="round"><tspan font-style="italic">P</tspan><tspan>=0.046</tspan></text>
<text transform="translate(358.82,2302.50) scale(1.0413,1)" font-size="17.35" fill="#0c2226" stroke="#0c2226" stroke-width="0.36" stroke-linejoin="round"><tspan font-style="italic">P</tspan><tspan>=0.026</tspan></text>
<text transform="translate(465.60,2575.55) scale(0.9836,1)" font-size="26.03" fill="#000" stroke="#000" stroke-width="0.55" stroke-linejoin="round">0</text>
<text transform="translate(464.63,2493.95) scale(1.0854,1)" font-size="26.03" fill="#000" stroke="#000" stroke-width="0.55" stroke-linejoin="round">1</text>
<text transform="translate(465.12,2412.35) scale(1.0492,1)" font-size="26.03" fill="#000" stroke="#000" stroke-width="0.55" stroke-linejoin="round">2</text>
<text transform="translate(465.57,2330.75) scale(1.0153,1)" font-size="26.03" fill="#000" stroke="#000" stroke-width="0.55" stroke-linejoin="round">3</text>
<text transform="translate(507.57,2603.80) scale(0.9765,1)" font-size="30.58" fill="#000" stroke="#000" stroke-width="0.64" stroke-linejoin="round">High</text>
<text transform="translate(600.94,2603.80) scale(0.9468,1)" font-size="30.58" fill="#000" stroke="#000" stroke-width="0.64" stroke-linejoin="round">Low</text>
<text transform="translate(684.17,2603.80) scale(0.9765,1)" font-size="30.58" fill="#000" stroke="#000" stroke-width="0.64" stroke-linejoin="round">High</text>
<text transform="translate(777.84,2603.80) scale(0.9468,1)" font-size="30.58" fill="#000" stroke="#000" stroke-width="0.64" stroke-linejoin="round">Low</text>
<text transform="translate(504.66,2559.00) scale(0.9815,1)" font-size="30.58" fill="#000" stroke="#000" stroke-width="0.64" stroke-linejoin="round">ML</text>
<text transform="translate(682.32,2559.00) scale(0.9962,1)" font-size="30.58" fill="#000" stroke="#000" stroke-width="0.64" stroke-linejoin="round">LP</text>
<text transform="translate(634.49,2264.50) scale(0.9833,1)" font-size="35.27" fill="#000" stroke="#000" stroke-width="0.65" stroke-linejoin="round">MCL1</text>
<text transform="translate(681.92,2303.00) scale(1.0397,1)" font-size="17.35" fill="#0c2226" stroke="#0c2226" stroke-width="0.36" stroke-linejoin="round"><tspan font-style="italic">P</tspan><tspan>=0.028</tspan></text>
<text transform="translate(868.00,2575.55) scale(0.9836,1)" font-size="26.03" fill="#000" stroke="#000" stroke-width="0.55" stroke-linejoin="round">0</text>
<text transform="translate(867.03,2479.85) scale(1.0854,1)" font-size="26.03" fill="#000" stroke="#000" stroke-width="0.55" stroke-linejoin="round">1</text>
<text transform="translate(867.52,2384.15) scale(1.0492,1)" font-size="26.03" fill="#000" stroke="#000" stroke-width="0.55" stroke-linejoin="round">2</text>
<text transform="translate(867.97,2288.45) scale(1.0153,1)" font-size="26.03" fill="#000" stroke="#000" stroke-width="0.55" stroke-linejoin="round">3</text>
<text transform="translate(908.67,2603.80) scale(0.9765,1)" font-size="30.58" fill="#000" stroke="#000" stroke-width="0.64" stroke-linejoin="round">High</text>
<text transform="translate(1002.14,2603.80) scale(0.9468,1)" font-size="30.58" fill="#000" stroke="#000" stroke-width="0.64" stroke-linejoin="round">Low</text>
<text transform="translate(1088.17,2603.80) scale(0.9765,1)" font-size="30.58" fill="#000" stroke="#000" stroke-width="0.64" stroke-linejoin="round">High</text>
<text transform="translate(1181.54,2603.80) scale(0.9468,1)" font-size="30.58" fill="#000" stroke="#000" stroke-width="0.64" stroke-linejoin="round">Low</text>
<text transform="translate(904.56,2556.30) scale(0.9815,1)" font-size="30.58" fill="#000" stroke="#000" stroke-width="0.64" stroke-linejoin="round">ML</text>
<text transform="translate(1081.42,2556.30) scale(0.9962,1)" font-size="30.58" fill="#000" stroke="#000" stroke-width="0.64" stroke-linejoin="round">LP</text>
<text transform="translate(1035.57,2261.20) scale(1.0254,1)" font-size="34.13" fill="#000" stroke="#000" stroke-width="0.65" stroke-linejoin="round">PDL1</text>
<text transform="translate(908.32,2302.90) scale(1.0366,1)" font-size="17.35" fill="#0c2226" stroke="#0c2226" stroke-width="0.36" stroke-linejoin="round"><tspan font-style="italic">P</tspan><tspan>=0.062</tspan></text>
<text transform="translate(992.52,2302.90) scale(1.0444,1)" font-size="17.35" fill="#0c2226" stroke="#0c2226" stroke-width="0.36" stroke-linejoin="round"><tspan font-style="italic">P</tspan><tspan>=0.018</tspan></text>
<text transform="translate(1170.22,2302.90) scale(1.0335,1)" font-size="17.35" fill="#0c2226" stroke="#0c2226" stroke-width="0.36" stroke-linejoin="round"><tspan font-style="italic">P</tspan><tspan>=0.037</tspan></text>
<text transform="translate(1253.03,2574.25) scale(0.9505,1)" font-size="26.03" fill="#000" stroke="#000" stroke-width="0.55" stroke-linejoin="round">0.0</text>
<text transform="translate(1253.02,2502.35) scale(0.9617,1)" font-size="26.03" fill="#000" stroke="#000" stroke-width="0.55" stroke-linejoin="round">0.5</text>
<text transform="translate(1252.22,2430.45) scale(0.9733,1)" font-size="26.03" fill="#000" stroke="#000" stroke-width="0.55" stroke-linejoin="round">1.0</text>
<text transform="translate(1252.20,2358.55) scale(0.9851,1)" font-size="26.03" fill="#000" stroke="#000" stroke-width="0.55" stroke-linejoin="round">1.5</text>
<text transform="translate(1252.63,2286.65) scale(0.9617,1)" font-size="26.03" fill="#000" stroke="#000" stroke-width="0.55" stroke-linejoin="round">2.0</text>
<text transform="translate(1310.07,2602.50) scale(0.9765,1)" font-size="30.58" fill="#000" stroke="#000" stroke-width="0.64" stroke-linejoin="round">High</text>
<text transform="translate(1403.44,2602.50) scale(0.9468,1)" font-size="30.58" fill="#000" stroke="#000" stroke-width="0.64" stroke-linejoin="round">Low</text>
<text transform="translate(1489.57,2602.50) scale(0.9765,1)" font-size="30.58" fill="#000" stroke="#000" stroke-width="0.64" stroke-linejoin="round">High</text>
<text transform="translate(1582.94,2602.50) scale(0.9468,1)" font-size="30.58" fill="#000" stroke="#000" stroke-width="0.64" stroke-linejoin="round">Low</text>
<text transform="translate(1309.66,2557.00) scale(0.9815,1)" font-size="30.58" fill="#000" stroke="#000" stroke-width="0.64" stroke-linejoin="round">ML</text>
<text transform="translate(1486.62,2557.00) scale(0.9962,1)" font-size="30.58" fill="#000" stroke="#000" stroke-width="0.64" stroke-linejoin="round">LP</text>
<text transform="translate(1430.29,2260.40) scale(1.0169,1)" font-size="34.84" fill="#000" stroke="#000" stroke-width="0.65" stroke-linejoin="round">p-AKT</text>
<text transform="translate(25.60,2629.80) rotate(-90) scale(1.0599,1)" font-size="34.99" fill="#000" stroke="#000" stroke-width="0.65" stroke-linejoin="round">Intensity</text>
<text transform="translate(30.69,2675.50) scale(0.9928,1)" font-size="36.27" fill="#000" stroke="#000" stroke-width="0.65" stroke-linejoin="round">ERBB3</text>
<text transform="translate(1877.10,2380.40) scale(0.9217,1)" font-size="36.55" fill="#000" stroke="#000" stroke-width="0.65" stroke-linejoin="round">WT</text>
<text transform="translate(1876.57,2436.90) scale(0.9335,1)" font-size="36.12" fill="#000" stroke="#000" stroke-width="0.65" stroke-linejoin="round" font-style="italic">BRCA2</text>
<text transform="translate(1991.38,2419.80) scale(1.3145,1)" font-size="15.39" fill="#000" stroke="#000" stroke-width="0.32" stroke-linejoin="round" font-style="italic">mut/+</text>
</svg>
</body></html>
